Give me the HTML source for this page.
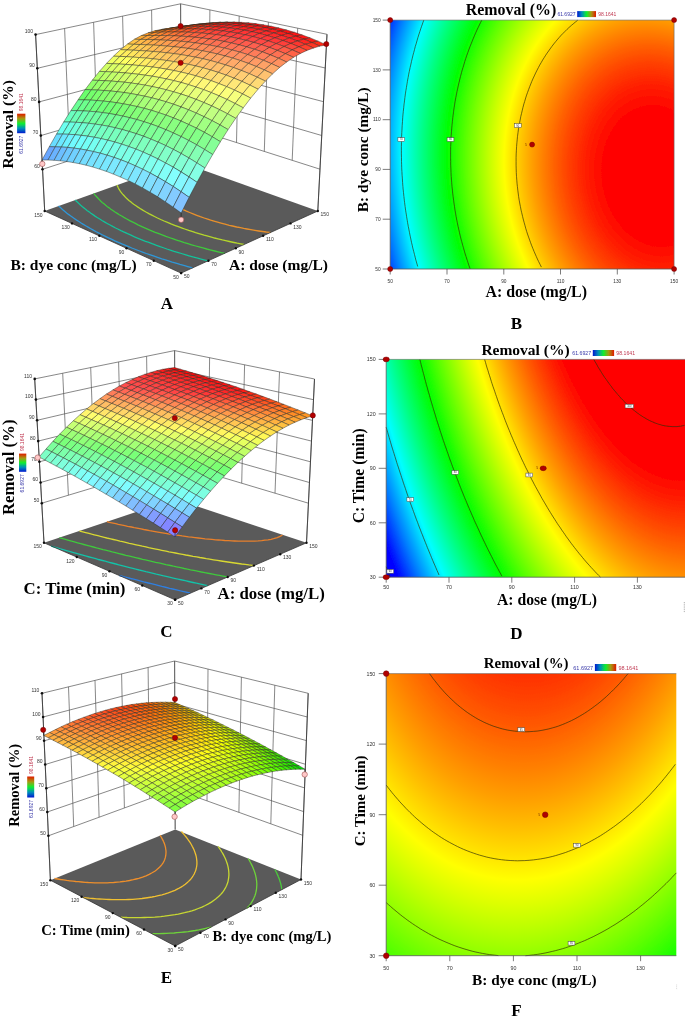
<!DOCTYPE html>
<html><head><meta charset="utf-8"><title>Removal response surfaces</title>
<style>html,body{margin:0;padding:0;background:#fff}svg{display:block}</style></head>
<body><svg width="685" height="1017" viewBox="0 0 685 1017">
<defs><filter id="soft" x="0" y="0" width="685" height="1017" filterUnits="userSpaceOnUse"><feGaussianBlur stdDeviation="0.4"/></filter><linearGradient id="lg0" x1="0" y1="1" x2="0" y2="0"><stop offset="0" stop-color="#0018d0"/><stop offset=".25" stop-color="#0090b8"/><stop offset=".5" stop-color="#10ee30"/><stop offset=".75" stop-color="#a89810"/><stop offset="1" stop-color="#e01800"/></linearGradient>
<linearGradient id="lg1" x1="0" y1="1" x2="0" y2="0"><stop offset="0" stop-color="#0018d0"/><stop offset=".25" stop-color="#0090b8"/><stop offset=".5" stop-color="#10ee30"/><stop offset=".75" stop-color="#a89810"/><stop offset="1" stop-color="#e01800"/></linearGradient>
<linearGradient id="lg2" x1="0" y1="1" x2="0" y2="0"><stop offset="0" stop-color="#0018d0"/><stop offset=".25" stop-color="#0090b8"/><stop offset=".5" stop-color="#10ee30"/><stop offset=".75" stop-color="#a89810"/><stop offset="1" stop-color="#e01800"/></linearGradient>
<radialGradient id="g3" gradientUnits="userSpaceOnUse" cx="0" cy="0" r="6.10978" gradientTransform="matrix(47.52838 -0.00000 -3.69074 -60.76369 656.916 176.031)"><stop offset="0.0000" stop-color="#ff0000"/><stop offset="0.1767" stop-color="#ff0000"/><stop offset="0.2485" stop-color="#ff2000"/><stop offset="0.3038" stop-color="#ff4000"/><stop offset="0.3505" stop-color="#ff6000"/><stop offset="0.3916" stop-color="#ff8000"/><stop offset="0.4288" stop-color="#ff9f00"/><stop offset="0.4631" stop-color="#ffbf00"/><stop offset="0.4949" stop-color="#ffdf00"/><stop offset="0.5249" stop-color="#ffff00"/><stop offset="0.5532" stop-color="#dfff00"/><stop offset="0.5801" stop-color="#bfff00"/><stop offset="0.6059" stop-color="#9fff00"/><stop offset="0.6306" stop-color="#7fff00"/><stop offset="0.6543" stop-color="#60ff00"/><stop offset="0.6773" stop-color="#40ff00"/><stop offset="0.6994" stop-color="#20ff00"/><stop offset="0.7209" stop-color="#00ff00"/><stop offset="0.7418" stop-color="#00ff20"/><stop offset="0.7621" stop-color="#00ff40"/><stop offset="0.7819" stop-color="#00ff60"/><stop offset="0.8012" stop-color="#00ff7f"/><stop offset="0.8200" stop-color="#00ff9f"/><stop offset="0.8384" stop-color="#00ffbf"/><stop offset="0.8564" stop-color="#00ffdf"/><stop offset="0.8741" stop-color="#00ffff"/><stop offset="0.8914" stop-color="#00dfff"/><stop offset="0.9083" stop-color="#00bfff"/><stop offset="0.9250" stop-color="#009fff"/><stop offset="0.9413" stop-color="#0080ff"/><stop offset="0.9574" stop-color="#0060ff"/><stop offset="0.9732" stop-color="#0040ff"/><stop offset="0.9888" stop-color="#0020ff"/><stop offset="1.0000" stop-color="#0009ff"/></radialGradient>
<linearGradient id="lg4" x1="0" y1="0" x2="1" y2="0"><stop offset="0" stop-color="#0018d0"/><stop offset=".25" stop-color="#0090b8"/><stop offset=".5" stop-color="#10ee30"/><stop offset=".75" stop-color="#a89810"/><stop offset="1" stop-color="#e01800"/></linearGradient>
<radialGradient id="g5" gradientUnits="userSpaceOnUse" cx="0" cy="0" r="6.78238" gradientTransform="matrix(52.56749 -0.00000 -13.40859 -109.15975 649.480 227.330)"><stop offset="0.0000" stop-color="#ff0000"/><stop offset="0.3353" stop-color="#ff0000"/><stop offset="0.3704" stop-color="#ff2000"/><stop offset="0.4024" stop-color="#ff4000"/><stop offset="0.4321" stop-color="#ff6000"/><stop offset="0.4599" stop-color="#ff8000"/><stop offset="0.4861" stop-color="#ff9f00"/><stop offset="0.5109" stop-color="#ffbf00"/><stop offset="0.5346" stop-color="#ffdf00"/><stop offset="0.5573" stop-color="#ffff00"/><stop offset="0.5791" stop-color="#dfff00"/><stop offset="0.6001" stop-color="#bfff00"/><stop offset="0.6204" stop-color="#9fff00"/><stop offset="0.6401" stop-color="#7fff00"/><stop offset="0.6592" stop-color="#60ff00"/><stop offset="0.6777" stop-color="#40ff00"/><stop offset="0.6957" stop-color="#20ff00"/><stop offset="0.7133" stop-color="#00ff00"/><stop offset="0.7305" stop-color="#00ff20"/><stop offset="0.7472" stop-color="#00ff40"/><stop offset="0.7636" stop-color="#00ff60"/><stop offset="0.7797" stop-color="#00ff7f"/><stop offset="0.7954" stop-color="#00ff9f"/><stop offset="0.8108" stop-color="#00ffbf"/><stop offset="0.8260" stop-color="#00ffdf"/><stop offset="0.8409" stop-color="#00ffff"/><stop offset="0.8555" stop-color="#00dfff"/><stop offset="0.8698" stop-color="#00bfff"/><stop offset="0.8839" stop-color="#009fff"/><stop offset="0.8979" stop-color="#0080ff"/><stop offset="0.9115" stop-color="#0060ff"/><stop offset="0.9250" stop-color="#0040ff"/><stop offset="0.9383" stop-color="#0020ff"/><stop offset="0.9514" stop-color="#0000ff"/><stop offset="1.0000" stop-color="#0000ff"/></radialGradient>
<linearGradient id="lg6" x1="0" y1="0" x2="1" y2="0"><stop offset="0" stop-color="#0018d0"/><stop offset=".25" stop-color="#0090b8"/><stop offset=".5" stop-color="#10ee30"/><stop offset=".75" stop-color="#a89810"/><stop offset="1" stop-color="#e01800"/></linearGradient>
<radialGradient id="g7" gradientUnits="userSpaceOnUse" cx="0" cy="0" r="4.42181" gradientTransform="matrix(77.39999 -0.00000 7.90908 -137.71327 542.539 434.560)"><stop offset="0.0000" stop-color="#ff0000"/><stop offset="0.2612" stop-color="#ff0000"/><stop offset="0.3557" stop-color="#ff2000"/><stop offset="0.4299" stop-color="#ff4000"/><stop offset="0.4930" stop-color="#ff6000"/><stop offset="0.5490" stop-color="#ff8000"/><stop offset="0.5997" stop-color="#ff9f00"/><stop offset="0.6465" stop-color="#ffbf00"/><stop offset="0.6901" stop-color="#ffdf00"/><stop offset="0.7311" stop-color="#ffff00"/><stop offset="0.7700" stop-color="#dfff00"/><stop offset="0.8069" stop-color="#bfff00"/><stop offset="0.8423" stop-color="#9fff00"/><stop offset="0.8762" stop-color="#7fff00"/><stop offset="0.9088" stop-color="#60ff00"/><stop offset="0.9404" stop-color="#40ff00"/><stop offset="0.9709" stop-color="#20ff00"/><stop offset="1.0000" stop-color="#00ff00"/></radialGradient>
<linearGradient id="lg8" x1="0" y1="0" x2="1" y2="0"><stop offset="0" stop-color="#0018d0"/><stop offset=".25" stop-color="#0090b8"/><stop offset=".5" stop-color="#10ee30"/><stop offset=".75" stop-color="#a89810"/><stop offset="1" stop-color="#e01800"/></linearGradient></defs>
<rect width="685" height="1017" fill="#fff"/>
<g filter="url(#soft)">
<path d="M44.7 211L35.6 34.6M70.2 160.4L64.6 28.4M97.9 151.5L93.6 22.3M125.6 142.6L122.6 16.1M153.2 133.7L151.6 10M181 162.3L180.6 3.8M317.8 211L327 34.3M292.2 160.3L297.7 28.2M264.3 151.4L268.4 22.1M236.5 142.5L239.2 16M208.7 133.7L209.9 9.9M181 162.3L180.6 3.8M42.5 169.3L180.9 124.8L320 169.2M40.8 135.6L180.8 94.5L321.7 135.5M39.1 101.9L180.8 64.3L323.5 101.7M37.3 68.3L180.7 34L325.2 68M35.6 34.6L180.6 3.8L327 34.3" stroke="#555" stroke-width=".7" fill="none"/>
<path d="M44.7 211L181.1 273.1L317.8 211L181 162.3Z" fill="#5a5a5a"/>
<path d="M58.5 205.9L60.4 207.6L61.7 208.8L63.1 210L65.2 211.7L66.6 212.9L68.5 214.4L70.4 215.7L72.2 217L74.3 218.5L76.6 220.1L78.5 221.3L81.1 223L82.9 224.1L85.7 225.8L88.5 227.4L90.4 228.5L93.3 230.1L96.3 231.8L99.4 233.4L102.6 235L104.9 236.1L108 237.6L111.4 239.2L114.8 240.8L118.3 242.3L121.9 243.9L124.3 244.9L128 246.4L131.8 248L135.7 249.5L139.6 251L142.5 252.1L146.3 253.5L150.4 254.9L154.2 256.2L157.5 257.3L161.8 258.8L164.7 259.7L169.2 261.1L172.2 262.1L176.8 263.4L179.9 264.4L184.6 265.7L187.8 266.6L192.7 267.9" fill="none" stroke="#2f97d8" stroke-width="1.3"/>
<path d="M75.2 200L76.4 201.2L77.6 202.3L79.4 204.1L80.7 205.3L82.1 206.4L84 208L85.6 209.3L87 210.4L89.3 212.1L90.9 213.3L93.3 214.9L95 216.1L97.5 217.7L99.3 218.8L102 220.5L104.8 222.1L106.7 223.2L109.6 224.8L112.6 226.4L115.6 228L117.7 229L120.9 230.6L124.2 232.1L127.6 233.7L131 235.2L134.5 236.8L138.1 238.3L141.8 239.8L145.5 241.3L148.1 242.2L152 243.7L155.9 245.2L160 246.6L162.7 247.5L166.9 249L171 250.3L174 251.3L178.4 252.6L181.4 253.5L185.9 254.9L189 255.8L193.7 257.1L196.8 257.9L201.1 259.1L204.9 260.1L208.2 260.9" fill="none" stroke="#12c29a" stroke-width="1.3"/>
<path d="M93.8 193.4L94.7 194.6L95.7 195.8L97.1 197.3L98.5 198.8L99.7 200L100.9 201.2L102.2 202.4L104.3 204.1L105.7 205.3L107.1 206.4L109.4 208.1L110.9 209.2L113.2 210.8L115 212L117.6 213.6L119.3 214.7L122.1 216.3L123.9 217.4L126.8 219L129.7 220.6L132.3 221.9L134.9 223.2L138 224.8L141.3 226.3L144.7 227.8L148.1 229.3L151.6 230.8L155.2 232.3L158.9 233.7L162.7 235.2L165.9 236.4L169.2 237.5L173.2 238.9L177.3 240.3L180.1 241.2L184.3 242.6L187.9 243.7L191.6 244.8L195.8 246L199.1 246.9L202.9 247.9L206.8 249L210 249.8L214.8 251L218.1 251.8L221.4 252.6L224.8 253.3" fill="none" stroke="#3fc83c" stroke-width="1.3"/>
<path d="M117.1 185.1L117.6 186.4L118.3 187.8L119 189.1L119.8 190.4L120.6 191.6L121.6 192.9L122.6 194.1L123.7 195.3L124.8 196.5L126 197.7L127.3 198.9L128.9 200.4L130.7 201.8L132.1 203L133.7 204.2L136 205.8L137.6 206.9L140.1 208.5L141.9 209.6L144.6 211.2L146.4 212.3L149.3 213.9L152.3 215.4L154.5 216.5L157.5 218L160.7 219.5L164.1 221L167.5 222.4L171 223.9L174.6 225.3L178.3 226.7L182.2 228.1L184.7 229L188.7 230.4L192.8 231.7L195.6 232.6L199.8 233.8L204.1 235.1L207 235.9L211.5 237.1L214.6 238L217.9 238.8L222.4 239.9L225.6 240.6L229.4 241.5L233.9 242.5L237.3 243.2L240.7 243.8L244.2 244.5" fill="none" stroke="#b4d62c" stroke-width="1.3"/>
<path d="M184.1 163.5L181.5 164.1L178.5 164.7L175.3 165.5L172 166.6L168.9 167.7L166.1 168.9L164.3 169.8L161.9 171.2L160.5 172.2L159.2 173.3L158 174.4L157 175.6L156.1 176.9L155.4 178.2L155.1 179.2L154.7 180.4L154.6 181.7L154.5 182.8L154.6 184L154.9 185.4L155.2 186.3L155.7 187.6L156.4 189L157.1 190.3L158.1 191.6L159.1 192.9L160.2 194.1L161.4 195.3L162.6 196.5L164 197.7L165.4 198.9L167.7 200.6L169.3 201.7L171.1 202.9L173.5 204.4L175.4 205.5L178.2 207L181.2 208.6L183.2 209.6L186.4 211.1L189.7 212.5L193.1 213.9L196.7 215.3L200.3 216.7L204.1 218L207.7 219.2L210.7 220.2L214.8 221.4L217.6 222.2L221.9 223.4L225 224.2L229.3 225.3L232.4 226L236.7 227L240.4 227.7L243.7 228.4L247 229L250.8 229.7L254.9 230.4L258.8 231L262.6 231.5L266.2 232L269.7 232.4L270.6 232.5" fill="none" stroke="#e8902c" stroke-width="1.3"/>
<g stroke="#2a2a22" stroke-width=".45" stroke-linejoin="round">
<path d="M180.8 26.9L187.2 26.7L180.8 28.2L174.4 28.2Z" fill="#d97b00"/>
<path d="M174.3 27.5L180.8 26.9L174.4 28.2L167.9 28.6Z" fill="#dd7400"/>
<path d="M187.3 25.7L193.8 25.4L187.2 26.7L180.8 26.9Z" fill="#d96600"/>
<path d="M167.8 28.6L174.3 27.5L167.9 28.6L161.3 29.5Z" fill="#ec7600"/>
<path d="M180.8 26.5L187.3 25.7L180.8 26.9L174.3 27.5Z" fill="#e66400"/>
<path d="M193.9 24.7L200.4 24.2L193.8 25.4L187.3 25.7Z" fill="#de5400"/>
<path d="M161.1 30.2L167.8 28.6L161.3 29.5L154.7 30.8Z" fill="#fd7b00"/>
<path d="M174.3 27.8L180.8 26.5L174.3 27.5L167.8 28.6Z" fill="#f56500"/>
<path d="M187.4 25.7L193.9 24.7L187.3 25.7L180.8 26.5Z" fill="#ed5300"/>
<path d="M200.6 23.9L207.1 23.3L200.4 24.2L193.9 24.7Z" fill="#e54400"/>
<path d="M154.4 32.5L161.1 30.2L154.7 30.8L148 32.9Z" fill="#ff8710"/>
<path d="M167.6 29.7L174.3 27.8L167.8 28.6L161.1 30.2Z" fill="#ff6d06"/>
<path d="M180.8 27.2L187.4 25.7L180.8 26.5L174.3 27.8Z" fill="#fc5500"/>
<path d="M194.1 25.1L200.6 23.9L193.9 24.7L187.4 25.7Z" fill="#f44200"/>
<path d="M207.4 23.4L213.8 22.7L207.1 23.3L200.6 23.9Z" fill="#eb3400"/>
<path d="M147.6 35.5L154.4 32.5L148 32.9L141.2 35.6Z" fill="#ff9723"/>
<path d="M160.9 32.2L167.6 29.7L161.1 30.2L154.4 32.5Z" fill="#ff7b17"/>
<path d="M174.2 29.3L180.8 27.2L174.3 27.8L167.6 29.7Z" fill="#ff600d"/>
<path d="M187.5 26.8L194.1 25.1L187.4 25.7L180.8 27.2Z" fill="#ff4604"/>
<path d="M200.9 24.7L207.4 23.4L200.6 23.9L194.1 25.1Z" fill="#fa3200"/>
<path d="M214.3 23L220.7 22.2L213.8 22.7L207.4 23.4Z" fill="#f02500"/>
<path d="M140.7 39.4L147.6 35.5L141.2 35.6L134.4 39.3Z" fill="#ffac36"/>
<path d="M154.1 35.5L160.9 32.2L154.4 32.5L147.6 35.5Z" fill="#ff8d28"/>
<path d="M167.4 32.1L174.2 29.3L167.6 29.7L160.9 32.2Z" fill="#ff701d"/>
<path d="M180.9 29.1L187.5 26.8L180.8 27.2L174.2 29.3Z" fill="#ff5413"/>
<path d="M194.3 26.5L200.9 24.7L194.1 25.1L187.5 26.8Z" fill="#ff3b0a"/>
<path d="M207.8 24.4L214.3 23L207.4 23.4L200.9 24.7Z" fill="#ff2401"/>
<path d="M221.2 22.9L227.7 22L220.7 22.2L214.3 23Z" fill="#f51700"/>
<path d="M133.8 44.3L140.7 39.4L134.4 39.3L127.5 44.1Z" fill="#ffc347"/>
<path d="M147.2 39.5L154.1 35.5L147.6 35.5L140.7 39.4Z" fill="#ffa339"/>
<path d="M160.6 35.5L167.4 32.1L160.9 32.2L154.1 35.5Z" fill="#ff842d"/>
<path d="M174.1 32L180.9 29.1L174.2 29.3L167.4 32.1Z" fill="#ff6622"/>
<path d="M187.6 29L194.3 26.5L187.5 26.8L180.9 29.1Z" fill="#ff4b19"/>
<path d="M201.2 26.4L207.8 24.4L200.9 24.7L194.3 26.5Z" fill="#ff310f"/>
<path d="M214.7 24.4L221.2 22.9L214.3 23L207.8 24.4Z" fill="#ff1a06"/>
<path d="M228.3 23L234.7 22.1L227.7 22L221.2 22.9Z" fill="#fa0b00"/>
<path d="M126.9 50L133.8 44.3L127.5 44.1L120.5 49.7Z" fill="#ffdc53"/>
<path d="M140.3 44.5L147.2 39.5L140.7 39.4L133.8 44.3Z" fill="#ffbb48"/>
<path d="M153.8 39.7L160.6 35.5L154.1 35.5L147.2 39.5Z" fill="#ff9a3c"/>
<path d="M167.3 35.6L174.1 32L167.4 32.1L160.6 35.5Z" fill="#ff7b31"/>
<path d="M180.9 32.1L187.6 29L180.9 29.1L174.1 32Z" fill="#ff5e27"/>
<path d="M194.5 29L201.2 26.4L194.3 26.5L187.6 29Z" fill="#ff421e"/>
<path d="M208.1 26.5L214.7 24.4L207.8 24.4L201.2 26.4Z" fill="#ff2914"/>
<path d="M221.8 24.6L228.3 23L221.2 22.9L214.7 24.4Z" fill="#ff120a"/>
<path d="M235.5 23.4L241.9 22.4L234.7 22.1L228.3 23Z" fill="#fe0000"/>
<path d="M119.9 56.4L126.9 50L120.5 49.7L113.5 56.2Z" fill="#fff55b"/>
<path d="M133.3 50.2L140.3 44.5L133.8 44.3L126.9 50Z" fill="#ffd453"/>
<path d="M146.8 44.8L153.8 39.7L147.2 39.5L140.3 44.5Z" fill="#ffb34a"/>
<path d="M160.4 40L167.3 35.6L160.6 35.5L153.8 39.7Z" fill="#ff933f"/>
<path d="M174 35.8L180.9 32.1L174.1 32L167.3 35.6Z" fill="#ff7435"/>
<path d="M187.7 32.2L194.5 29L187.6 29L180.9 32.1Z" fill="#ff562c"/>
<path d="M201.4 29.2L208.1 26.5L201.2 26.4L194.5 29Z" fill="#ff3b22"/>
<path d="M215.2 26.8L221.8 24.6L214.7 24.4L208.1 26.5Z" fill="#ff2219"/>
<path d="M228.9 25L235.5 23.4L228.3 23L221.8 24.6Z" fill="#ff0e0e"/>
<path d="M242.7 24L249.1 22.9L241.9 22.4L235.5 23.4Z" fill="#ff0303"/>
<path d="M112.8 63.7L119.9 56.4L113.5 56.2L106.5 63.4Z" fill="#eeff61"/>
<path d="M126.3 56.7L133.3 50.2L126.9 50L119.9 56.4Z" fill="#ffed5b"/>
<path d="M139.8 50.6L146.8 44.8L140.3 44.5L133.3 50.2Z" fill="#ffcc54"/>
<path d="M153.5 45.1L160.4 40L153.8 39.7L146.8 44.8Z" fill="#ffab4b"/>
<path d="M167.1 40.3L174 35.8L167.3 35.6L160.4 40Z" fill="#ff8b42"/>
<path d="M180.9 36.2L187.7 32.2L180.9 32.1L174 35.8Z" fill="#ff6d39"/>
<path d="M194.7 32.6L201.4 29.2L194.5 29L187.7 32.2Z" fill="#ff502f"/>
<path d="M208.5 29.6L215.2 26.8L208.1 26.5L201.4 29.2Z" fill="#ff3526"/>
<path d="M222.3 27.3L228.9 25L221.8 24.6L215.2 26.8Z" fill="#ff1d1c"/>
<path d="M236.2 25.7L242.7 24L235.5 23.4L228.9 25Z" fill="#ff1212"/>
<path d="M250 24.9L256.4 23.8L249.1 22.9L242.7 24Z" fill="#ff0606"/>
<path d="M105.7 71.6L112.8 63.7L106.5 63.4L99.4 71.4Z" fill="#d1ff65"/>
<path d="M119.2 64L126.3 56.7L119.9 56.4L112.8 63.7Z" fill="#f6ff61"/>
<path d="M132.8 57.1L139.8 50.6L133.3 50.2L126.3 56.7Z" fill="#ffe65c"/>
<path d="M146.4 51L153.5 45.1L146.8 44.8L139.8 50.6Z" fill="#ffc555"/>
<path d="M160.2 45.5L167.1 40.3L160.4 40L153.5 45.1Z" fill="#ffa44d"/>
<path d="M174 40.7L180.9 36.2L174 35.8L167.1 40.3Z" fill="#ff8544"/>
<path d="M187.8 36.6L194.7 32.6L187.7 32.2L180.9 36.2Z" fill="#ff673c"/>
<path d="M201.7 33.1L208.5 29.6L201.4 29.2L194.7 32.6Z" fill="#ff4b33"/>
<path d="M215.6 30.2L222.3 27.3L215.2 26.8L208.5 29.6Z" fill="#ff312a"/>
<path d="M229.6 28L236.2 25.7L228.9 25L222.3 27.3Z" fill="#ff2020"/>
<path d="M243.5 26.6L250 24.9L242.7 24L236.2 25.7Z" fill="#ff1515"/>
<path d="M257.4 26L263.9 24.9L256.4 23.8L250 24.9Z" fill="#ff0909"/>
<path d="M98.6 80.4L105.7 71.6L99.4 71.4L92.3 80.2Z" fill="#b1ff68"/>
<path d="M112.1 72L119.2 64L112.8 63.7L105.7 71.6Z" fill="#d9ff66"/>
<path d="M125.7 64.4L132.8 57.1L126.3 56.7L119.2 64Z" fill="#fdff62"/>
<path d="M139.4 57.6L146.4 51L139.8 50.6L132.8 57.1Z" fill="#ffdf5c"/>
<path d="M153.2 51.5L160.2 45.5L153.5 45.1L146.4 51Z" fill="#ffbe56"/>
<path d="M167 46.1L174 40.7L167.1 40.3L160.2 45.5Z" fill="#ff9e4f"/>
<path d="M180.9 41.3L187.8 36.6L180.9 36.2L174 40.7Z" fill="#ff7f47"/>
<path d="M194.8 37.2L201.7 33.1L194.7 32.6L187.8 36.6Z" fill="#ff623f"/>
<path d="M208.8 33.8L215.6 30.2L208.5 29.6L201.7 33.1Z" fill="#ff4636"/>
<path d="M222.8 31L229.6 28L222.3 27.3L215.6 30.2Z" fill="#ff2d2d"/>
<path d="M236.9 29L243.5 26.6L236.2 25.7L229.6 28Z" fill="#ff2323"/>
<path d="M250.9 27.8L257.4 26L250 24.9L243.5 26.6Z" fill="#ff1818"/>
<path d="M265 27.5L271.4 26.3L263.9 24.9L257.4 26Z" fill="#ff0c0c"/>
<path d="M91.4 89.8L98.6 80.4L92.3 80.2L85.2 89.6Z" fill="#8fff6a"/>
<path d="M104.9 80.7L112.1 72L105.7 71.6L98.6 80.4Z" fill="#baff69"/>
<path d="M118.5 72.4L125.7 64.4L119.2 64L112.1 72Z" fill="#e0ff66"/>
<path d="M132.3 64.9L139.4 57.6L132.8 57.1L125.7 64.4Z" fill="#fffa62"/>
<path d="M146.1 58.1L153.2 51.5L146.4 51L139.4 57.6Z" fill="#ffd85d"/>
<path d="M160 52.1L167 46.1L160.2 45.5L153.2 51.5Z" fill="#ffb858"/>
<path d="M173.9 46.7L180.9 41.3L174 40.7L167 46.1Z" fill="#ff9851"/>
<path d="M187.9 42L194.8 37.2L187.8 36.6L180.9 41.3Z" fill="#ff7a49"/>
<path d="M202 38L208.8 33.8L201.7 33.1L194.8 37.2Z" fill="#ff5e41"/>
<path d="M216.1 34.6L222.8 31L215.6 30.2L208.8 33.8Z" fill="#ff4339"/>
<path d="M230.2 32L236.9 29L229.6 28L222.8 31Z" fill="#ff3030"/>
<path d="M244.3 30.2L250.9 27.8L243.5 26.6L236.9 29Z" fill="#ff2525"/>
<path d="M258.4 29.3L265 27.5L257.4 26L250.9 27.8Z" fill="#ff1a1a"/>
<path d="M272.6 29.2L279 28L271.4 26.3L265 27.5Z" fill="#ff0e0e"/>
<path d="M84.2 99.9L91.4 89.8L85.2 89.6L78.1 99.8Z" fill="#6bff6c"/>
<path d="M97.7 90.1L104.9 80.7L98.6 80.4L91.4 89.8Z" fill="#98ff6b"/>
<path d="M111.4 81.1L118.5 72.4L112.1 72L104.9 80.7Z" fill="#c1ff69"/>
<path d="M125.1 72.9L132.3 64.9L125.7 64.4L118.5 72.4Z" fill="#e7ff67"/>
<path d="M138.9 65.5L146.1 58.1L139.4 57.6L132.3 64.9Z" fill="#fff363"/>
<path d="M152.9 58.8L160 52.1L153.2 51.5L146.1 58.1Z" fill="#ffd25e"/>
<path d="M166.8 52.8L173.9 46.7L167 46.1L160 52.1Z" fill="#ffb259"/>
<path d="M180.9 47.5L187.9 42L180.9 41.3L173.9 46.7Z" fill="#ff9453"/>
<path d="M195 42.8L202 38L194.8 37.2L187.9 42Z" fill="#ff774b"/>
<path d="M209.2 38.9L216.1 34.6L208.8 33.8L202 38Z" fill="#ff5b44"/>
<path d="M223.4 35.7L230.2 32L222.8 31L216.1 34.6Z" fill="#ff413b"/>
<path d="M237.6 33.3L244.3 30.2L236.9 29L230.2 32Z" fill="#ff3232"/>
<path d="M251.8 31.7L258.4 29.3L250.9 27.8L244.3 30.2Z" fill="#ff2727"/>
<path d="M266 31L272.6 29.2L265 27.5L258.4 29.3Z" fill="#ff1c1c"/>
<path d="M280.2 31.2L286.6 30L279 28L272.6 29.2Z" fill="#ff1010"/>
<path d="M77 110.7L84.2 99.9L78.1 99.8L70.9 110.6Z" fill="#6bff96"/>
<path d="M90.5 100.1L97.7 90.1L91.4 89.8L84.2 99.9Z" fill="#73ff6c"/>
<path d="M104.1 90.5L111.4 81.1L104.9 80.7L97.7 90.1Z" fill="#a0ff6b"/>
<path d="M117.9 81.6L125.1 72.9L118.5 72.4L111.4 81.1Z" fill="#c9ff6a"/>
<path d="M131.7 73.5L138.9 65.5L132.3 64.9L125.1 72.9Z" fill="#eeff68"/>
<path d="M145.7 66.2L152.9 58.8L146.1 58.1L138.9 65.5Z" fill="#ffed64"/>
<path d="M159.7 59.6L166.8 52.8L160 52.1L152.9 58.8Z" fill="#ffcd60"/>
<path d="M173.8 53.6L180.9 47.5L173.9 46.7L166.8 52.8Z" fill="#ffae5a"/>
<path d="M188 48.4L195 42.8L187.9 42L180.9 47.5Z" fill="#ff9054"/>
<path d="M202.2 43.9L209.2 38.9L202 38L195 42.8Z" fill="#ff744e"/>
<path d="M216.5 40L223.4 35.7L216.1 34.6L209.2 38.9Z" fill="#ff5946"/>
<path d="M230.8 37L237.6 33.3L230.2 32L223.4 35.7Z" fill="#ff403e"/>
<path d="M245.1 34.8L251.8 31.7L244.3 30.2L237.6 33.3Z" fill="#ff3434"/>
<path d="M259.4 33.4L266 31L258.4 29.3L251.8 31.7Z" fill="#ff2929"/>
<path d="M273.7 33L280.2 31.2L272.6 29.2L266 31Z" fill="#ff1e1e"/>
<path d="M288 33.5L294.4 32.3L286.6 30L280.2 31.2Z" fill="#ff1111"/>
<path d="M69.8 122.1L77 110.7L70.9 110.6L63.7 122Z" fill="#6affc1"/>
<path d="M83.3 110.9L90.5 100.1L84.2 99.9L77 110.7Z" fill="#6cff8d"/>
<path d="M96.9 100.5L104.1 90.5L97.7 90.1L90.5 100.1Z" fill="#7cff6d"/>
<path d="M110.6 91L117.9 81.6L111.4 81.1L104.1 90.5Z" fill="#a8ff6c"/>
<path d="M124.5 82.2L131.7 73.5L125.1 72.9L117.9 81.6Z" fill="#d0ff6b"/>
<path d="M138.5 74.3L145.7 66.2L138.9 65.5L131.7 73.5Z" fill="#f4ff69"/>
<path d="M152.6 67L159.7 59.6L152.9 58.8L145.7 66.2Z" fill="#ffe865"/>
<path d="M166.7 60.5L173.8 53.6L166.8 52.8L159.7 59.6Z" fill="#ffc861"/>
<path d="M180.9 54.6L188 48.4L180.9 47.5L173.8 53.6Z" fill="#ffaa5c"/>
<path d="M195.2 49.5L202.2 43.9L195 42.8L188 48.4Z" fill="#ff8d56"/>
<path d="M209.5 45.1L216.5 40L209.2 38.9L202.2 43.9Z" fill="#ff7250"/>
<path d="M223.9 41.4L230.8 37L223.4 35.7L216.5 40Z" fill="#ff5848"/>
<path d="M238.3 38.5L245.1 34.8L237.6 33.3L230.8 37Z" fill="#ff403f"/>
<path d="M252.7 36.5L259.4 33.4L251.8 31.7L245.1 34.8Z" fill="#ff3636"/>
<path d="M267.1 35.5L273.7 33L266 31L259.4 33.4Z" fill="#ff2b2b"/>
<path d="M281.5 35.4L288 33.5L280.2 31.2L273.7 33Z" fill="#ff1f1f"/>
<path d="M295.9 36.2L302.3 35L294.4 32.3L288 33.5Z" fill="#ff1313"/>
<path d="M62.6 134.1L69.8 122.1L63.7 122L56.5 134.1Z" fill="#6afff0"/>
<path d="M76 122.3L83.3 110.9L77 110.7L69.8 122.1Z" fill="#6cffb8"/>
<path d="M89.6 111.3L96.9 100.5L90.5 100.1L83.3 110.9Z" fill="#6dff86"/>
<path d="M103.4 101.1L110.6 91L104.1 90.5L96.9 100.5Z" fill="#85ff6e"/>
<path d="M117.2 91.7L124.5 82.2L117.9 81.6L110.6 91Z" fill="#afff6e"/>
<path d="M131.2 83L138.5 74.3L131.7 73.5L124.5 82.2Z" fill="#d6ff6c"/>
<path d="M145.3 75.2L152.6 67L145.7 66.2L138.5 74.3Z" fill="#f9ff6a"/>
<path d="M159.5 68L166.7 60.5L159.7 59.6L152.6 67Z" fill="#ffe467"/>
<path d="M173.8 61.6L180.9 54.6L173.8 53.6L166.7 60.5Z" fill="#ffc463"/>
<path d="M188.1 55.8L195.2 49.5L188 48.4L180.9 54.6Z" fill="#ffa75e"/>
<path d="M202.5 50.8L209.5 45.1L202.2 43.9L195.2 49.5Z" fill="#ff8b58"/>
<path d="M217 46.5L223.9 41.4L216.5 40L209.5 45.1Z" fill="#ff7152"/>
<path d="M231.4 43L238.3 38.5L230.8 37L223.9 41.4Z" fill="#ff584a"/>
<path d="M245.9 40.3L252.7 36.5L245.1 34.8L238.3 38.5Z" fill="#ff4241"/>
<path d="M260.4 38.6L267.1 35.5L259.4 33.4L252.7 36.5Z" fill="#ff3737"/>
<path d="M274.9 37.8L281.5 35.4L273.7 33L267.1 35.5Z" fill="#ff2c2c"/>
<path d="M289.4 38L295.9 36.2L288 33.5L281.5 35.4Z" fill="#ff2020"/>
<path d="M303.8 39.2L310.2 37.9L302.3 35L295.9 36.2Z" fill="#ff1414"/>
<path d="M55.3 146.8L62.6 134.1L56.5 134.1L49.3 146.7Z" fill="#69dcff"/>
<path d="M68.7 134.3L76 122.3L69.8 122.1L62.6 134.1Z" fill="#6bffe6"/>
<path d="M82.3 122.7L89.6 111.3L83.3 110.9L76 122.3Z" fill="#6dffb0"/>
<path d="M96 111.8L103.4 101.1L96.9 100.5L89.6 111.3Z" fill="#6fff7f"/>
<path d="M109.9 101.8L117.2 91.7L110.6 91L103.4 101.1Z" fill="#8dff6f"/>
<path d="M123.9 92.5L131.2 83L124.5 82.2L117.2 91.7Z" fill="#b6ff6f"/>
<path d="M138 84L145.3 75.2L138.5 74.3L131.2 83Z" fill="#dbff6d"/>
<path d="M152.3 76.2L159.5 68L152.6 67L145.3 75.2Z" fill="#feff6b"/>
<path d="M166.6 69.2L173.8 61.6L166.7 60.5L159.5 68Z" fill="#ffe068"/>
<path d="M180.9 62.8L188.1 55.8L180.9 54.6L173.8 61.6Z" fill="#ffc264"/>
<path d="M195.4 57.2L202.5 50.8L195.2 49.5L188.1 55.8Z" fill="#ffa560"/>
<path d="M209.9 52.3L217 46.5L209.5 45.1L202.5 50.8Z" fill="#ff8a5a"/>
<path d="M224.5 48.1L231.4 43L223.9 41.4L217 46.5Z" fill="#ff7154"/>
<path d="M239 44.8L245.9 40.3L238.3 38.5L231.4 43Z" fill="#ff594c"/>
<path d="M253.6 42.4L260.4 38.6L252.7 36.5L245.9 40.3Z" fill="#ff4443"/>
<path d="M268.2 40.9L274.9 37.8L267.1 35.5L260.4 38.6Z" fill="#ff3838"/>
<path d="M282.8 40.5L289.4 38L281.5 35.4L274.9 37.8Z" fill="#ff2d2d"/>
<path d="M297.4 41L303.8 39.2L295.9 36.2L289.4 38Z" fill="#ff2121"/>
<path d="M311.9 42.5L318.2 41.2L310.2 37.9L303.8 39.2Z" fill="#ff1d15"/>
<path d="M48 160L55.3 146.8L49.3 146.7L42 160Z" fill="#68a6ff"/>
<path d="M61.4 147L68.7 134.3L62.6 134.1L55.3 146.8Z" fill="#6be7ff"/>
<path d="M75 134.7L82.3 122.7L76 122.3L68.7 134.3Z" fill="#6dffdd"/>
<path d="M88.7 123.3L96 111.8L89.6 111.3L82.3 122.7Z" fill="#6fffa9"/>
<path d="M102.6 112.6L109.9 101.8L103.4 101.1L96 111.8Z" fill="#70ff79"/>
<path d="M116.6 102.7L123.9 92.5L117.2 91.7L109.9 101.8Z" fill="#94ff71"/>
<path d="M130.7 93.5L138 84L131.2 83L123.9 92.5Z" fill="#bcff70"/>
<path d="M145 85.1L152.3 76.2L145.3 75.2L138 84Z" fill="#e0ff6f"/>
<path d="M159.3 77.5L166.6 69.2L159.5 68L152.3 76.2Z" fill="#fffc6d"/>
<path d="M173.7 70.5L180.9 62.8L173.8 61.6L166.6 69.2Z" fill="#ffdd6a"/>
<path d="M188.2 64.3L195.4 57.2L188.1 55.8L180.9 62.8Z" fill="#ffc066"/>
<path d="M202.8 58.7L209.9 52.3L202.5 50.8L195.4 57.2Z" fill="#ffa462"/>
<path d="M217.4 54L224.5 48.1L217 46.5L209.9 52.3Z" fill="#ff8a5c"/>
<path d="M232.1 50L239 44.8L231.4 43L224.5 48.1Z" fill="#ff7255"/>
<path d="M246.7 46.9L253.6 42.4L245.9 40.3L239 44.8Z" fill="#ff5c4d"/>
<path d="M261.4 44.7L268.2 40.9L260.4 38.6L253.6 42.4Z" fill="#ff4844"/>
<path d="M276.1 43.6L282.8 40.5L274.9 37.8L268.2 40.9Z" fill="#ff3939"/>
<path d="M290.8 43.4L297.4 41L289.4 38L282.8 40.5Z" fill="#ff2e2e"/>
<path d="M305.4 44.3L311.9 42.5L303.8 39.2L297.4 41Z" fill="#ff2822"/>
<path d="M320 46.1L326.3 44.9L318.2 41.2L311.9 42.5Z" fill="#ff2a16"/>
<path d="M54.1 160.3L61.4 147L55.3 146.8L48 160Z" fill="#6ab3ff"/>
<path d="M67.6 147.4L75 134.7L68.7 134.3L61.4 147Z" fill="#6df1ff"/>
<path d="M81.3 135.4L88.7 123.3L82.3 122.7L75 134.7Z" fill="#6fffd5"/>
<path d="M95.2 124.1L102.6 112.6L96 111.8L88.7 123.3Z" fill="#71ffa3"/>
<path d="M109.2 113.5L116.6 102.7L109.9 101.8L102.6 112.6Z" fill="#72ff75"/>
<path d="M123.3 103.8L130.7 93.5L123.9 92.5L116.6 102.7Z" fill="#9aff72"/>
<path d="M137.6 94.8L145 85.1L138 84L130.7 93.5Z" fill="#c1ff72"/>
<path d="M152 86.5L159.3 77.5L152.3 76.2L145 85.1Z" fill="#e4ff70"/>
<path d="M166.4 78.9L173.7 70.5L166.6 69.2L159.3 77.5Z" fill="#fff96e"/>
<path d="M181 72.1L188.2 64.3L180.9 62.8L173.7 70.5Z" fill="#ffdb6b"/>
<path d="M195.6 65.9L202.8 58.7L195.4 57.2L188.2 64.3Z" fill="#ffbf68"/>
<path d="M210.3 60.5L217.4 54L209.9 52.3L202.8 58.7Z" fill="#ffa463"/>
<path d="M225 55.9L232.1 50L224.5 48.1L217.4 54Z" fill="#ff8b5e"/>
<path d="M239.8 52.1L246.7 46.9L239 44.8L232.1 50Z" fill="#ff7457"/>
<path d="M254.5 49.3L261.4 44.7L253.6 42.4L246.7 46.9Z" fill="#ff5f4f"/>
<path d="M269.3 47.4L276.1 43.6L268.2 40.9L261.4 44.7Z" fill="#ff4d45"/>
<path d="M284.1 46.5L290.8 43.4L282.8 40.5L276.1 43.6Z" fill="#ff3f3a"/>
<path d="M298.9 46.8L305.4 44.3L297.4 41L290.8 43.4Z" fill="#ff362e"/>
<path d="M313.6 48L320 46.1L311.9 42.5L305.4 44.3Z" fill="#ff3422"/>
<path d="M60.3 160.8L67.6 147.4L61.4 147L54.1 160.3Z" fill="#6cbeff"/>
<path d="M74 148.1L81.3 135.4L75 134.7L67.6 147.4Z" fill="#6ffaff"/>
<path d="M87.8 136.2L95.2 124.1L88.7 123.3L81.3 135.4Z" fill="#71ffce"/>
<path d="M101.8 125.1L109.2 113.5L102.6 112.6L95.2 124.1Z" fill="#72ff9e"/>
<path d="M115.9 114.7L123.3 103.8L116.6 102.7L109.2 113.5Z" fill="#76ff73"/>
<path d="M130.2 105.1L137.6 94.8L130.7 93.5L123.3 103.8Z" fill="#9fff74"/>
<path d="M144.6 96.2L152 86.5L145 85.1L137.6 94.8Z" fill="#c5ff73"/>
<path d="M159.1 88L166.4 78.9L159.3 77.5L152 86.5Z" fill="#e7ff72"/>
<path d="M173.7 80.6L181 72.1L173.7 70.5L166.4 78.9Z" fill="#fff770"/>
<path d="M188.3 73.8L195.6 65.9L188.2 64.3L181 72.1Z" fill="#ffda6d"/>
<path d="M203 67.8L210.3 60.5L202.8 58.7L195.6 65.9Z" fill="#ffbf6a"/>
<path d="M217.8 62.6L225 55.9L217.4 54L210.3 60.5Z" fill="#ffa565"/>
<path d="M232.7 58.1L239.8 52.1L232.1 50L225 55.9Z" fill="#ff8d60"/>
<path d="M247.6 54.5L254.5 49.3L246.7 46.9L239.8 52.1Z" fill="#ff7859"/>
<path d="M262.4 51.9L269.3 47.4L261.4 44.7L254.5 49.3Z" fill="#ff6450"/>
<path d="M277.3 50.4L284.1 46.5L276.1 43.6L269.3 47.4Z" fill="#ff5346"/>
<path d="M292.2 49.9L298.9 46.8L290.8 43.4L284.1 46.5Z" fill="#ff473a"/>
<path d="M307 50.4L313.6 48L305.4 44.3L298.9 46.8Z" fill="#ff412f"/>
<path d="M66.6 161.5L74 148.1L67.6 147.4L60.3 160.8Z" fill="#6ec8ff"/>
<path d="M80.4 149L87.8 136.2L81.3 135.4L74 148.1Z" fill="#71fffd"/>
<path d="M94.4 137.3L101.8 125.1L95.2 124.1L87.8 136.2Z" fill="#73ffc9"/>
<path d="M108.5 126.3L115.9 114.7L109.2 113.5L101.8 125.1Z" fill="#74ff99"/>
<path d="M122.8 116.1L130.2 105.1L123.3 103.8L115.9 114.7Z" fill="#7cff75"/>
<path d="M137.2 106.6L144.6 96.2L137.6 94.8L130.2 105.1Z" fill="#a4ff75"/>
<path d="M151.7 97.8L159.1 88L152 86.5L144.6 96.2Z" fill="#c8ff75"/>
<path d="M166.3 89.8L173.7 80.6L166.4 78.9L159.1 88Z" fill="#eaff73"/>
<path d="M181 82.4L188.3 73.8L181 72.1L173.7 80.6Z" fill="#fff672"/>
<path d="M195.8 75.8L203 67.8L195.6 65.9L188.3 73.8Z" fill="#ffda6f"/>
<path d="M210.6 70L217.8 62.6L210.3 60.5L203 67.8Z" fill="#ffbf6c"/>
<path d="M225.5 64.9L232.7 58.1L225 55.9L217.8 62.6Z" fill="#ffa767"/>
<path d="M240.5 60.6L247.6 54.5L239.8 52.1L232.7 58.1Z" fill="#ff9162"/>
<path d="M255.4 57.3L262.4 51.9L254.5 49.3L247.6 54.5Z" fill="#ff7c5a"/>
<path d="M270.4 54.9L277.3 50.4L269.3 47.4L262.4 51.9Z" fill="#ff6a51"/>
<path d="M285.4 53.7L292.2 49.9L284.1 46.5L277.3 50.4Z" fill="#ff5b46"/>
<path d="M300.4 53.5L307 50.4L298.9 46.8L292.2 49.9Z" fill="#ff513b"/>
<path d="M73 162.5L80.4 149L74 148.1L66.6 161.5Z" fill="#70d0ff"/>
<path d="M86.9 150.2L94.4 137.3L87.8 136.2L80.4 149Z" fill="#72fff6"/>
<path d="M101 138.6L108.5 126.3L101.8 125.1L94.4 137.3Z" fill="#74ffc4"/>
<path d="M115.3 127.8L122.8 116.1L115.9 114.7L108.5 126.3Z" fill="#76ff96"/>
<path d="M129.7 117.7L137.2 106.6L130.2 105.1L122.8 116.1Z" fill="#80ff77"/>
<path d="M144.2 108.3L151.7 97.8L144.6 96.2L137.2 106.6Z" fill="#a7ff77"/>
<path d="M158.9 99.7L166.3 89.8L159.1 88L151.7 97.8Z" fill="#cbff76"/>
<path d="M173.6 91.8L181 82.4L173.7 80.6L166.3 89.8Z" fill="#ebff75"/>
<path d="M188.4 84.6L195.8 75.8L188.3 73.8L181 82.4Z" fill="#fff673"/>
<path d="M203.3 78.1L210.6 70L203 67.8L195.8 75.8Z" fill="#ffda71"/>
<path d="M218.3 72.4L225.5 64.9L217.8 62.6L210.6 70Z" fill="#ffc16d"/>
<path d="M233.3 67.5L240.5 60.6L232.7 58.1L225.5 64.9Z" fill="#ffaa69"/>
<path d="M248.4 63.4L255.4 57.3L247.6 54.5L240.5 60.6Z" fill="#ff9563"/>
<path d="M263.4 60.3L270.4 54.9L262.4 51.9L255.4 57.3Z" fill="#ff825b"/>
<path d="M278.5 58.3L285.4 53.7L277.3 50.4L270.4 54.9Z" fill="#ff7152"/>
<path d="M293.6 57.3L300.4 53.5L292.2 49.9L285.4 53.7Z" fill="#ff6447"/>
<path d="M79.4 163.7L86.9 150.2L80.4 149L73 162.5Z" fill="#72d7ff"/>
<path d="M93.5 151.6L101 138.6L94.4 137.3L86.9 150.2Z" fill="#74fff1"/>
<path d="M107.8 140.2L115.3 127.8L108.5 126.3L101 138.6Z" fill="#76ffc0"/>
<path d="M122.2 129.5L129.7 117.7L122.8 116.1L115.3 127.8Z" fill="#77ff94"/>
<path d="M136.7 119.5L144.2 108.3L137.2 106.6L129.7 117.7Z" fill="#84ff78"/>
<path d="M151.4 110.3L158.9 99.7L151.7 97.8L144.2 108.3Z" fill="#aaff78"/>
<path d="M166.1 101.8L173.6 91.8L166.3 89.8L158.9 99.7Z" fill="#ccff78"/>
<path d="M181 94L188.4 84.6L181 82.4L173.6 91.8Z" fill="#ebff77"/>
<path d="M195.9 87L203.3 78.1L195.8 75.8L188.4 84.6Z" fill="#fff675"/>
<path d="M211 80.6L218.3 72.4L210.6 70L203.3 78.1Z" fill="#ffdc73"/>
<path d="M226.1 75.1L233.3 67.5L225.5 64.9L218.3 72.4Z" fill="#ffc46f"/>
<path d="M241.2 70.4L248.4 63.4L240.5 60.6L233.3 67.5Z" fill="#ffaf6b"/>
<path d="M256.3 66.5L263.4 60.3L255.4 57.3L248.4 63.4Z" fill="#ff9b65"/>
<path d="M271.5 63.7L278.5 58.3L270.4 54.9L263.4 60.3Z" fill="#ff895d"/>
<path d="M286.7 62L293.6 57.3L285.4 53.7L278.5 58.3Z" fill="#ff7a52"/>
<path d="M86 165.2L93.5 151.6L86.9 150.2L79.4 163.7Z" fill="#74ddff"/>
<path d="M100.3 153.2L107.8 140.2L101 138.6L93.5 151.6Z" fill="#76ffed"/>
<path d="M114.7 142L122.2 129.5L115.3 127.8L107.8 140.2Z" fill="#78ffbe"/>
<path d="M129.2 131.5L136.7 119.5L129.7 117.7L122.2 129.5Z" fill="#79ff93"/>
<path d="M143.9 121.7L151.4 110.3L144.2 108.3L136.7 119.5Z" fill="#87ff7a"/>
<path d="M158.6 112.6L166.1 101.8L158.9 99.7L151.4 110.3Z" fill="#acff7a"/>
<path d="M173.5 104.2L181 94L173.6 91.8L166.1 101.8Z" fill="#cdff7a"/>
<path d="M188.5 96.5L195.9 87L188.4 84.6L181 94Z" fill="#ebff79"/>
<path d="M203.6 89.6L211 80.6L203.3 78.1L195.9 87Z" fill="#fff877"/>
<path d="M218.7 83.5L226.1 75.1L218.3 72.4L211 80.6Z" fill="#ffdf74"/>
<path d="M233.9 78.1L241.2 70.4L233.3 67.5L226.1 75.1Z" fill="#ffc871"/>
<path d="M249.2 73.6L256.3 66.5L248.4 63.4L241.2 70.4Z" fill="#ffb46d"/>
<path d="M264.4 70L271.5 63.7L263.4 60.3L256.3 66.5Z" fill="#ffa166"/>
<path d="M279.7 67.4L286.7 62L278.5 58.3L271.5 63.7Z" fill="#ff915e"/>
<path d="M92.7 167L100.3 153.2L93.5 151.6L86 165.2Z" fill="#76e2ff"/>
<path d="M107.1 155.2L114.7 142L107.8 140.2L100.3 153.2Z" fill="#78ffea"/>
<path d="M121.6 144.1L129.2 131.5L122.2 129.5L114.7 142Z" fill="#79ffbd"/>
<path d="M136.3 133.7L143.9 121.7L136.7 119.5L129.2 131.5Z" fill="#7bff93"/>
<path d="M151.1 124L158.6 112.6L151.4 110.3L143.9 121.7Z" fill="#89ff7b"/>
<path d="M166 115.1L173.5 104.2L166.1 101.8L158.6 112.6Z" fill="#adff7c"/>
<path d="M181 106.9L188.5 96.5L181 94L173.5 104.2Z" fill="#ccff7b"/>
<path d="M196.1 99.4L203.6 89.6L195.9 87L188.5 96.5Z" fill="#e9ff7a"/>
<path d="M211.3 92.6L218.7 83.5L211 80.6L203.6 89.6Z" fill="#fffa78"/>
<path d="M226.6 86.6L233.9 78.1L226.1 75.1L218.7 83.5Z" fill="#ffe376"/>
<path d="M241.9 81.4L249.2 73.6L241.2 70.4L233.9 78.1Z" fill="#ffcd73"/>
<path d="M257.2 77.2L264.4 70L256.3 66.5L249.2 73.6Z" fill="#ffba6e"/>
<path d="M272.6 73.8L279.7 67.4L271.5 63.7L264.4 70Z" fill="#ffa968"/>
<path d="M99.5 169.1L107.1 155.2L100.3 153.2L92.7 167Z" fill="#77e6ff"/>
<path d="M114 157.4L121.6 144.1L114.7 142L107.1 155.2Z" fill="#79ffe8"/>
<path d="M128.7 146.5L136.3 133.7L129.2 131.5L121.6 144.1Z" fill="#7bffbc"/>
<path d="M143.5 136.2L151.1 124L143.9 121.7L136.3 133.7Z" fill="#7cff94"/>
<path d="M158.4 126.7L166 115.1L158.6 112.6L151.1 124Z" fill="#8aff7d"/>
<path d="M173.5 117.9L181 106.9L173.5 104.2L166 115.1Z" fill="#acff7d"/>
<path d="M188.6 109.8L196.1 99.4L188.5 96.5L181 106.9Z" fill="#cbff7d"/>
<path d="M203.8 102.5L211.3 92.6L203.6 89.6L196.1 99.4Z" fill="#e7ff7c"/>
<path d="M219.2 95.9L226.6 86.6L218.7 83.5L211.3 92.6Z" fill="#fffe7a"/>
<path d="M234.5 90.1L241.9 81.4L233.9 78.1L226.6 86.6Z" fill="#ffe878"/>
<path d="M249.9 85.1L257.2 77.2L249.2 73.6L241.9 81.4Z" fill="#ffd374"/>
<path d="M265.4 81.1L272.6 73.8L264.4 70L257.2 77.2Z" fill="#ffc26f"/>
<path d="M106.4 171.4L114 157.4L107.1 155.2L99.5 169.1Z" fill="#79e8ff"/>
<path d="M121.1 159.9L128.7 146.5L121.6 144.1L114 157.4Z" fill="#7bffe7"/>
<path d="M135.9 149.1L143.5 136.2L136.3 133.7L128.7 146.5Z" fill="#7dffbd"/>
<path d="M150.8 139.1L158.4 126.7L151.1 124L143.5 136.2Z" fill="#7eff96"/>
<path d="M165.9 129.7L173.5 117.9L166 115.1L158.4 126.7Z" fill="#8aff7e"/>
<path d="M181 121L188.6 109.8L181 106.9L173.5 117.9Z" fill="#abff7f"/>
<path d="M196.3 113.1L203.8 102.5L196.1 99.4L188.6 109.8Z" fill="#c9ff7e"/>
<path d="M211.7 105.9L219.2 95.9L211.3 92.6L203.8 102.5Z" fill="#e3ff7d"/>
<path d="M227.1 99.5L234.5 90.1L226.6 86.6L219.2 95.9Z" fill="#fbff7c"/>
<path d="M242.6 93.9L249.9 85.1L241.9 81.4L234.5 90.1Z" fill="#ffed79"/>
<path d="M258.1 89.2L265.4 81.1L257.2 77.2L249.9 85.1Z" fill="#ffdb75"/>
<path d="M113.4 174.1L121.1 159.9L114 157.4L106.4 171.4Z" fill="#7be9ff"/>
<path d="M128.2 162.7L135.9 149.1L128.7 146.5L121.1 159.9Z" fill="#7cffe7"/>
<path d="M143.2 152.1L150.8 139.1L143.5 136.2L135.9 149.1Z" fill="#7effbe"/>
<path d="M158.2 142.2L165.9 129.7L158.4 126.7L150.8 139.1Z" fill="#7fff99"/>
<path d="M173.4 133L181 121L173.5 117.9L165.9 129.7Z" fill="#89ff80"/>
<path d="M188.7 124.5L196.3 113.1L188.6 109.8L181 121Z" fill="#a9ff80"/>
<path d="M204.1 116.7L211.7 105.9L203.8 102.5L196.3 113.1Z" fill="#c5ff80"/>
<path d="M219.6 109.7L227.1 99.5L219.2 95.9L211.7 105.9Z" fill="#dfff7f"/>
<path d="M235.1 103.5L242.6 93.9L234.5 90.1L227.1 99.5Z" fill="#f6ff7d"/>
<path d="M250.7 98.1L258.1 89.2L249.9 85.1L242.6 93.9Z" fill="#fff47a"/>
<path d="M120.5 177.1L128.2 162.7L121.1 159.9L113.4 174.1Z" fill="#7ce9ff"/>
<path d="M135.5 165.9L143.2 152.1L135.9 149.1L128.2 162.7Z" fill="#7effe9"/>
<path d="M150.5 155.4L158.2 142.2L150.8 139.1L143.2 152.1Z" fill="#7fffc1"/>
<path d="M165.8 145.6L173.4 133L165.9 129.7L158.2 142.2Z" fill="#80ff9c"/>
<path d="M181.1 136.6L188.7 124.5L181 121L173.4 133Z" fill="#87ff81"/>
<path d="M196.5 128.2L204.1 116.7L196.3 113.1L188.7 124.5Z" fill="#a5ff81"/>
<path d="M212 120.6L219.6 109.7L211.7 105.9L204.1 116.7Z" fill="#c1ff81"/>
<path d="M227.6 113.8L235.1 103.5L227.1 99.5L219.6 109.7Z" fill="#d9ff80"/>
<path d="M243.3 107.8L250.7 98.1L242.6 93.9L235.1 103.5Z" fill="#efff7e"/>
<path d="M127.8 180.3L135.5 165.9L128.2 162.7L120.5 177.1Z" fill="#7de8ff"/>
<path d="M142.8 169.3L150.5 155.4L143.2 152.1L135.5 165.9Z" fill="#7fffeb"/>
<path d="M158 159L165.8 145.6L158.2 142.2L150.5 155.4Z" fill="#80ffc4"/>
<path d="M173.4 149.4L181.1 136.6L173.4 133L165.8 145.6Z" fill="#81ffa1"/>
<path d="M188.8 140.5L196.5 128.2L188.7 124.5L181.1 136.6Z" fill="#83ff82"/>
<path d="M204.4 132.3L212 120.6L204.1 116.7L196.5 128.2Z" fill="#a1ff82"/>
<path d="M220 124.9L227.6 113.8L219.6 109.7L212 120.6Z" fill="#bcff82"/>
<path d="M235.7 118.3L243.3 107.8L235.1 103.5L227.6 113.8Z" fill="#d3ff81"/>
<path d="M135.1 183.9L142.8 169.3L135.5 165.9L127.8 180.3Z" fill="#7ee6ff"/>
<path d="M150.3 173.1L158 159L150.5 155.4L142.8 169.3Z" fill="#80ffee"/>
<path d="M165.6 163L173.4 149.4L165.8 145.6L158 159Z" fill="#82ffc9"/>
<path d="M181.1 153.5L188.8 140.5L181.1 136.6L173.4 149.4Z" fill="#83ffa7"/>
<path d="M196.7 144.8L204.4 132.3L196.5 128.2L188.8 140.5Z" fill="#83ff87"/>
<path d="M212.3 136.8L220 124.9L212 120.6L204.4 132.3Z" fill="#9cff83"/>
<path d="M228.1 129.6L235.7 118.3L227.6 113.8L220 124.9Z" fill="#b5ff83"/>
<path d="M142.5 187.9L150.3 173.1L142.8 169.3L135.1 183.9Z" fill="#80e3ff"/>
<path d="M157.8 177.2L165.6 163L158 159L150.3 173.1Z" fill="#81fff3"/>
<path d="M173.3 167.2L181.1 153.5L173.4 149.4L165.6 163Z" fill="#83ffce"/>
<path d="M188.9 158L196.7 144.8L188.8 140.5L181.1 153.5Z" fill="#83ffad"/>
<path d="M204.6 149.5L212.3 136.8L204.4 132.3L196.7 144.8Z" fill="#84ff8f"/>
<path d="M220.4 141.7L228.1 129.6L220 124.9L212.3 136.8Z" fill="#95ff84"/>
<path d="M150 192.2L157.8 177.2L150.3 173.1L142.5 187.9Z" fill="#81dfff"/>
<path d="M165.5 181.7L173.3 167.2L165.6 163L157.8 177.2Z" fill="#82fff8"/>
<path d="M181.1 171.9L188.9 158L181.1 153.5L173.3 167.2Z" fill="#83ffd4"/>
<path d="M196.8 162.8L204.6 149.5L196.7 144.8L188.9 158Z" fill="#84ffb4"/>
<path d="M212.7 154.5L220.4 141.7L212.3 136.8L204.6 149.5Z" fill="#85ff97"/>
<path d="M157.7 196.8L165.5 181.7L157.8 177.2L150 192.2Z" fill="#81d9ff"/>
<path d="M173.3 186.5L181.1 171.9L173.3 167.2L165.5 181.7Z" fill="#83fffe"/>
<path d="M189 176.9L196.8 162.8L188.9 158L181.1 171.9Z" fill="#84ffdc"/>
<path d="M204.9 168L212.7 154.5L204.6 149.5L196.8 162.8Z" fill="#85ffbc"/>
<path d="M165.4 201.9L173.3 186.5L165.5 181.7L157.7 196.8Z" fill="#82d3ff"/>
<path d="M181.1 191.7L189 176.9L181.1 171.9L173.3 186.5Z" fill="#84f8ff"/>
<path d="M197 182.3L204.9 168L196.8 162.8L189 176.9Z" fill="#85ffe4"/>
<path d="M173.2 207.2L181.1 191.7L173.3 186.5L165.4 201.9Z" fill="#83cbff"/>
<path d="M189.1 197.3L197 182.3L189 176.9L181.1 191.7Z" fill="#84f0ff"/>
<path d="M181.2 213L189.1 197.3L181.1 191.7L173.2 207.2Z" fill="#83c3ff"/>
</g>
<path d="M35.6 34.6L44.7 211L181.1 273.1L317.8 211L327 34.3" stroke="#333" stroke-width=".8" fill="none"/>
<circle cx="42.5" cy="169.3" r="1.3" fill="#111"/>
<text x="39.9" y="168.1" font-size="5" font-family="Liberation Sans, sans-serif" text-anchor="end" fill="#333">60</text>
<circle cx="40.8" cy="135.6" r="1.3" fill="#111"/>
<text x="38.2" y="134.4" font-size="5" font-family="Liberation Sans, sans-serif" text-anchor="end" fill="#333">70</text>
<circle cx="39.1" cy="101.9" r="1.3" fill="#111"/>
<text x="36.5" y="100.7" font-size="5" font-family="Liberation Sans, sans-serif" text-anchor="end" fill="#333">80</text>
<circle cx="37.3" cy="68.3" r="1.3" fill="#111"/>
<text x="34.7" y="67.1" font-size="5" font-family="Liberation Sans, sans-serif" text-anchor="end" fill="#333">90</text>
<circle cx="35.6" cy="34.6" r="1.3" fill="#111"/>
<text x="33" y="33.4" font-size="5" font-family="Liberation Sans, sans-serif" text-anchor="end" fill="#333">100</text>
<circle cx="181.1" cy="273.1" r="1.2" fill="#111"/>
<text x="178.9" y="278.7" font-size="5" font-family="Liberation Sans, sans-serif" text-anchor="end" fill="#333">50</text>
<circle cx="153.8" cy="260.7" r="1.2" fill="#111"/>
<text x="151.6" y="266.3" font-size="5" font-family="Liberation Sans, sans-serif" text-anchor="end" fill="#333">70</text>
<circle cx="126.5" cy="248.3" r="1.2" fill="#111"/>
<text x="124.3" y="253.9" font-size="5" font-family="Liberation Sans, sans-serif" text-anchor="end" fill="#333">90</text>
<circle cx="99.3" cy="235.8" r="1.2" fill="#111"/>
<text x="97.1" y="241.4" font-size="5" font-family="Liberation Sans, sans-serif" text-anchor="end" fill="#333">110</text>
<circle cx="72" cy="223.4" r="1.2" fill="#111"/>
<text x="69.8" y="229" font-size="5" font-family="Liberation Sans, sans-serif" text-anchor="end" fill="#333">130</text>
<circle cx="44.7" cy="211" r="1.2" fill="#111"/>
<text x="42.5" y="216.6" font-size="5" font-family="Liberation Sans, sans-serif" text-anchor="end" fill="#333">150</text>
<circle cx="181.1" cy="273.1" r="1.2" fill="#111"/>
<text x="183.9" y="278.3" font-size="5" font-family="Liberation Sans, sans-serif" fill="#333">50</text>
<circle cx="208.4" cy="260.7" r="1.2" fill="#111"/>
<text x="211.2" y="265.9" font-size="5" font-family="Liberation Sans, sans-serif" fill="#333">70</text>
<circle cx="235.8" cy="248.3" r="1.2" fill="#111"/>
<text x="238.6" y="253.5" font-size="5" font-family="Liberation Sans, sans-serif" fill="#333">90</text>
<circle cx="263.1" cy="235.8" r="1.2" fill="#111"/>
<text x="265.9" y="241" font-size="5" font-family="Liberation Sans, sans-serif" fill="#333">110</text>
<circle cx="290.5" cy="223.4" r="1.2" fill="#111"/>
<text x="293.3" y="228.6" font-size="5" font-family="Liberation Sans, sans-serif" fill="#333">130</text>
<circle cx="317.8" cy="211" r="1.2" fill="#111"/>
<text x="320.6" y="216.2" font-size="5" font-family="Liberation Sans, sans-serif" fill="#333">150</text>
<path d="M42.3 163.9L42 160" stroke="#222" stroke-width=".7"/>
<circle cx="42.3" cy="163.9" r="2.7" fill="#ffc8c8" stroke="#a05050" stroke-width=".6"/>
<path d="M181.1 219.8L181.2 213" stroke="#222" stroke-width=".7"/>
<circle cx="181.1" cy="219.8" r="2.7" fill="#ffc8c8" stroke="#a05050" stroke-width=".6"/>
<path d="M180.6 62.8L180.9 62.8" stroke="#222" stroke-width=".7"/>
<circle cx="180.6" cy="62.8" r="2.6" fill="#b30000" stroke="#6a0000" stroke-width=".5"/>
<path d="M180.6 26L180.8 28.2" stroke="#222" stroke-width=".7"/>
<circle cx="180.6" cy="26" r="2.6" fill="#b30000" stroke="#6a0000" stroke-width=".5"/>
<path d="M326.3 44L326.3 44.9" stroke="#222" stroke-width=".7"/>
<circle cx="326.3" cy="44" r="2.6" fill="#b30000" stroke="#6a0000" stroke-width=".5"/>
<text transform="translate(12.6,124.3) rotate(-90)" font-size="15.5" font-family="Liberation Serif, serif" font-weight="bold" text-anchor="middle">Removal (%)</text>
<text x="278.5" y="269.5" font-size="15.5" font-family="Liberation Serif, serif" font-weight="bold" text-anchor="middle">A: dose (mg/L)</text>
<text x="73.5" y="269.5" font-size="15.5" font-family="Liberation Serif, serif" font-weight="bold" text-anchor="middle">B: dye conc (mg/L)</text>
<rect x="17.1" y="113.7" width="8.3" height="19.5" fill="url(#lg0)"/>
<text transform="translate(23.1,111.2) rotate(-90)" font-size="5" font-family="Liberation Sans, sans-serif" fill="#c03a52">98.1641</text>
<text transform="translate(23.1,135.7) rotate(-90)" font-size="5" font-family="Liberation Sans, sans-serif" fill="#3838a8" text-anchor="end">61.6927</text>
<text x="167" y="309.3" font-size="17" font-family="Liberation Serif, serif" font-weight="bold" text-anchor="middle">A</text>
<path d="M44 542.8L34.7 378.9M68.4 495.2L62.7 373.2M95 487.2L90.7 367.6M121.6 479.2L118.6 361.9M148.3 471.2L146.6 356.3M175 499L174.6 350.6M306.5 542.8L314.5 379M275 493.2L279.5 371.9M241.7 483.2L244.6 364.8M208.3 473.2L209.6 357.7M175 499L174.6 350.6M41.8 503.2L174.9 463.2L308.4 503.2M40.6 482.5L174.9 444.4L309.4 482.5M39.4 461.8L174.8 425.6L310.5 461.8M38.2 441.1L174.8 406.9L311.5 441.1M37.1 420.3L174.7 388.1L312.5 420.4M35.9 399.6L174.7 369.4L313.5 399.7M34.7 378.9L174.6 350.6L314.5 379" stroke="#555" stroke-width=".7" fill="none"/>
<path d="M44 542.8L175.1 599.8L306.5 542.8L175 499Z" fill="#5a5a5a"/>
<path d="M119.3 575.5L123.5 576.6L126.4 577.3L130.7 578.5L133.6 579.2L137.5 580.2L140.9 581.1L143.8 581.9L148.3 583L151.3 583.7L155.3 584.7L158.9 585.6L161.9 586.4L166.5 587.5L169.6 588.3L172.8 589L177.5 590.1L180.6 590.9L183.8 591.6L188.6 592.7L190.2 593.1" fill="none" stroke="#2f7fe0" stroke-width="1.3"/>
<path d="M51.1 546.1L54.3 547L57.9 548.1L60.3 548.8L64 549.9L66.5 550.6L70.2 551.6L72.7 552.3L76.5 553.4L79 554.1L82.8 555.2L85.4 555.9L89.3 557L91.9 557.7L95.8 558.7L98.5 559.5L102.5 560.5L105.2 561.2L109.2 562.3L111.9 563L115.9 564L118.8 564.8L121.9 565.6L125.8 566.6L128.6 567.3L132.9 568.4L135.7 569.1L139.3 570L142.9 570.8L145.8 571.6L150.2 572.6L153.2 573.3L156.3 574.1L160.6 575.1L163.7 575.8L167.2 576.6L171.3 577.6L174.3 578.3L178 579.1L182.1 580L185.2 580.7L188.6 581.5L193.1 582.5L196.3 583.2L199.6 583.9L204 584.8L207.7 585.6" fill="none" stroke="#12c2a8" stroke-width="1.3"/>
<path d="M59.5 537.7L61.9 538.4L65.5 539.4L67.9 540.1L71.5 541.1L74.4 541.9L77.6 542.8L80.8 543.7L83.8 544.5L87.1 545.4L90.1 546.2L93.3 547L96.5 547.9L99.4 548.6L103 549.6L105.6 550.2L109.6 551.2L112.2 551.9L116.3 552.9L119 553.6L122.7 554.5L125.8 555.3L128.5 555.9L132.7 556.9L135.5 557.6L139.4 558.5L142.6 559.3L145.4 559.9L149.7 560.9L152.7 561.6L155.6 562.3L160 563.2L162.9 563.9L165.9 564.6L170.4 565.5L173.4 566.2L176.5 566.8L180.7 567.7L184.2 568.5L187.3 569.1L190.5 569.8L195.1 570.7L198.3 571.3L201.5 572L204.7 572.6L209.3 573.5L212.8 574.2L216.1 574.8L219.4 575.4L222.9 576.1L227.4 576.9L227.8 576.9" fill="none" stroke="#3fc83c" stroke-width="1.3"/>
<path d="M79.5 531L81.9 531.6L85.6 532.6L88 533.2L91.7 534.2L94.2 534.8L97.9 535.7L100.5 536.4L104.3 537.3L106.8 538L110.7 538.9L113.3 539.5L116.3 540.2L119.9 541.1L122.6 541.7L126.6 542.6L129.3 543.3L132.1 543.9L136.1 544.8L138.9 545.4L142.3 546.2L145.9 546.9L148.7 547.6L152.1 548.3L155.9 549.1L158.8 549.7L161.7 550.3L166.1 551.2L169 551.8L172 552.3L175.5 553L179.6 553.8L182.6 554.4L185.7 555L188.8 555.5L193 556.3L196.7 556.9L199.8 557.5L203 558L206.3 558.6L209.6 559.1L213.6 559.8L217.5 560.4L221.1 561L224.4 561.5L227.8 562L231.3 562.5L234.7 563L238.2 563.5L241.7 564L245.2 564.4L248.8 564.9L252.4 565.3L254.2 565.6" fill="none" stroke="#d8d832" stroke-width="1.3"/>
<path d="M106.9 521.7L109.4 522.3L113.1 523.1L115.8 523.7L118.3 524.3L122.2 525.1L124.8 525.7L127.6 526.3L131.5 527L134.2 527.6L136.9 528.1L141 528.9L143.8 529.5L146.6 530L149.6 530.6L153.7 531.3L156.5 531.8L159.5 532.3L162.4 532.8L165.6 533.3L169.4 534L172.9 534.5L175.9 535L179 535.4L182.1 535.9L185.3 536.3L188.5 536.8L191.7 537.2L195 537.6L198.3 538L201.7 538.4L205.1 538.8L208.5 539.1L212 539.4L215.6 539.8L218.5 540L221.3 540.2L224.7 540.5L228.5 540.7L231.9 540.9L234.4 541L238.5 541.1L241.5 541.2L244.8 541.2L248.2 541.2L251.6 541.1L254.3 541.1L258.1 540.9L261.7 540.6L264.8 540.2L268.1 539.8L271 539.3L273.7 538.7L277.2 537.6L280.1 536.4L282.5 535" fill="none" stroke="#e8802c" stroke-width="1.3"/>
<g stroke="#2a2a22" stroke-width=".45" stroke-linejoin="round">
<path d="M174.6 370L180.5 369.3L174.6 367.6L168.7 368.3Z" fill="#ff0b0b"/>
<path d="M168.7 371.1L174.6 370L168.7 368.3L162.8 369.3Z" fill="#ff1515"/>
<path d="M180.6 371.8L186.5 371L180.5 369.3L174.6 370Z" fill="#ff0d0d"/>
<path d="M162.6 372.5L168.7 371.1L162.8 369.3L156.7 370.7Z" fill="#ff1e1e"/>
<path d="M174.6 372.9L180.6 371.8L174.6 370L168.7 371.1Z" fill="#ff1616"/>
<path d="M186.6 373.6L192.5 372.8L186.5 371L180.6 371.8Z" fill="#ff0e0e"/>
<path d="M156.6 374.2L162.6 372.5L156.7 370.7L150.7 372.4Z" fill="#ff2727"/>
<path d="M168.6 374.4L174.6 372.9L168.7 371.1L162.6 372.5Z" fill="#ff1f1f"/>
<path d="M180.7 374.8L186.6 373.6L180.6 371.8L174.6 372.9Z" fill="#ff1717"/>
<path d="M192.7 375.5L198.6 374.6L192.5 372.8L186.6 373.6Z" fill="#ff0f0f"/>
<path d="M150.4 376.3L156.6 374.2L150.7 372.4L144.5 374.4Z" fill="#ff3030"/>
<path d="M162.5 376.1L168.6 374.4L162.6 372.5L156.6 374.2Z" fill="#ff2828"/>
<path d="M174.6 376.3L180.7 374.8L174.6 372.9L168.6 374.4Z" fill="#ff2020"/>
<path d="M186.8 376.7L192.7 375.5L186.6 373.6L180.7 374.8Z" fill="#ff1818"/>
<path d="M198.9 377.5L204.8 376.6L198.6 374.6L192.7 375.5Z" fill="#ff1010"/>
<path d="M144.2 378.8L150.4 376.3L144.5 374.4L138.3 376.8Z" fill="#ff3838"/>
<path d="M156.4 378.3L162.5 376.1L156.6 374.2L150.4 376.3Z" fill="#ff3131"/>
<path d="M168.5 378.1L174.6 376.3L168.6 374.4L162.5 376.1Z" fill="#ff2929"/>
<path d="M180.7 378.3L186.8 376.7L180.7 374.8L174.6 376.3Z" fill="#ff2222"/>
<path d="M192.9 378.7L198.9 377.5L192.7 375.5L186.8 376.7Z" fill="#ff1919"/>
<path d="M205.1 379.5L211 378.5L204.8 376.6L198.9 377.5Z" fill="#ff1111"/>
<path d="M137.9 381.6L144.2 378.8L138.3 376.8L132 379.6Z" fill="#ff4040"/>
<path d="M150.1 380.8L156.4 378.3L150.4 376.3L144.2 378.8Z" fill="#ff3939"/>
<path d="M162.4 380.3L168.5 378.1L162.5 376.1L156.4 378.3Z" fill="#ff3232"/>
<path d="M174.6 380.2L180.7 378.3L174.6 376.3L168.5 378.1Z" fill="#ff2a2a"/>
<path d="M186.9 380.3L192.9 378.7L186.8 376.7L180.7 378.3Z" fill="#ff2323"/>
<path d="M199.1 380.8L205.1 379.5L198.9 377.5L192.9 378.7Z" fill="#ff1a1a"/>
<path d="M211.4 381.6L217.3 380.6L211 378.5L205.1 379.5Z" fill="#ff1212"/>
<path d="M131.6 384.7L137.9 381.6L132 379.6L125.7 382.7Z" fill="#ff4747"/>
<path d="M143.9 383.6L150.1 380.8L144.2 378.8L137.9 381.6Z" fill="#ff4141"/>
<path d="M156.2 382.9L162.4 380.3L156.4 378.3L150.1 380.8Z" fill="#ff3a3a"/>
<path d="M168.5 382.4L174.6 380.2L168.5 378.1L162.4 380.3Z" fill="#ff3333"/>
<path d="M180.8 382.3L186.9 380.3L180.7 378.3L174.6 380.2Z" fill="#ff2b2b"/>
<path d="M193.1 382.4L199.1 380.8L192.9 378.7L186.9 380.3Z" fill="#ff2424"/>
<path d="M205.4 382.9L211.4 381.6L205.1 379.5L199.1 380.8Z" fill="#ff1b1b"/>
<path d="M217.7 383.7L223.6 382.7L217.3 380.6L211.4 381.6Z" fill="#ff1313"/>
<path d="M125.2 388.2L131.6 384.7L125.7 382.7L119.3 386.1Z" fill="#ff4e4e"/>
<path d="M137.5 386.9L143.9 383.6L137.9 381.6L131.6 384.7Z" fill="#ff4848"/>
<path d="M149.9 385.8L156.2 382.9L150.1 380.8L143.9 383.6Z" fill="#ff4141"/>
<path d="M162.3 385L168.5 382.4L162.4 380.3L156.2 382.9Z" fill="#ff3b3b"/>
<path d="M174.6 384.6L180.8 382.3L174.6 380.2L168.5 382.4Z" fill="#ff3434"/>
<path d="M187 384.4L193.1 382.4L186.9 380.3L180.8 382.3Z" fill="#ff2c2c"/>
<path d="M199.4 384.6L205.4 382.9L199.1 380.8L193.1 382.4Z" fill="#ff2525"/>
<path d="M211.8 385.1L217.7 383.7L211.4 381.6L205.4 382.9Z" fill="#ff1d1d"/>
<path d="M224.2 385.9L230 384.8L223.6 382.7L217.7 383.7Z" fill="#ff1414"/>
<path d="M118.8 392.1L125.2 388.2L119.3 386.1L112.9 389.9Z" fill="#ff6154"/>
<path d="M131.1 390.4L137.5 386.9L131.6 384.7L125.2 388.2Z" fill="#ff4e4e"/>
<path d="M143.6 389L149.9 385.8L143.9 383.6L137.5 386.9Z" fill="#ff4949"/>
<path d="M156 388L162.3 385L156.2 382.9L149.9 385.8Z" fill="#ff4242"/>
<path d="M168.4 387.2L174.6 384.6L168.5 382.4L162.3 385Z" fill="#ff3c3c"/>
<path d="M180.9 386.8L187 384.4L180.8 382.3L174.6 384.6Z" fill="#ff3535"/>
<path d="M193.3 386.7L199.4 384.6L193.1 382.4L187 384.4Z" fill="#ff2d2d"/>
<path d="M205.8 386.9L211.8 385.1L205.4 382.9L199.4 384.6Z" fill="#ff2626"/>
<path d="M218.2 387.4L224.2 385.9L217.7 383.7L211.8 385.1Z" fill="#ff1e1e"/>
<path d="M230.6 388.2L236.5 387L230 384.8L224.2 385.9Z" fill="#ff1515"/>
<path d="M112.3 396.4L118.8 392.1L112.9 389.9L106.4 394.1Z" fill="#ff7d5a"/>
<path d="M124.7 394.4L131.1 390.4L125.2 388.2L118.8 392.1Z" fill="#ff6855"/>
<path d="M137.2 392.7L143.6 389L137.5 386.9L131.1 390.4Z" fill="#ff544f"/>
<path d="M149.6 391.3L156 388L149.9 385.8L143.6 389Z" fill="#ff4949"/>
<path d="M162.1 390.2L168.4 387.2L162.3 385L156 388Z" fill="#ff4343"/>
<path d="M174.6 389.5L180.9 386.8L174.6 384.6L168.4 387.2Z" fill="#ff3c3c"/>
<path d="M187.2 389.1L193.3 386.7L187 384.4L180.9 386.8Z" fill="#ff3636"/>
<path d="M199.7 388.9L205.8 386.9L199.4 384.6L193.3 386.7Z" fill="#ff2e2e"/>
<path d="M212.2 389.2L218.2 387.4L211.8 385.1L205.8 386.9Z" fill="#ff2727"/>
<path d="M224.7 389.7L230.6 388.2L224.2 385.9L218.2 387.4Z" fill="#ff1f1f"/>
<path d="M237.2 390.5L243.1 389.3L236.5 387L230.6 388.2Z" fill="#ff1616"/>
<path d="M105.7 401L112.3 396.4L106.4 394.1L99.9 398.7Z" fill="#ff9a5f"/>
<path d="M118.2 398.7L124.7 394.4L118.8 392.1L112.3 396.4Z" fill="#ff845b"/>
<path d="M130.7 396.7L137.2 392.7L131.1 390.4L124.7 394.4Z" fill="#ff6f55"/>
<path d="M143.2 395L149.6 391.3L143.6 389L137.2 392.7Z" fill="#ff5c50"/>
<path d="M155.8 393.6L162.1 390.2L156 388L149.6 391.3Z" fill="#ff4b4a"/>
<path d="M168.4 392.6L174.6 389.5L168.4 387.2L162.1 390.2Z" fill="#ff4444"/>
<path d="M180.9 391.8L187.2 389.1L180.9 386.8L174.6 389.5Z" fill="#ff3d3d"/>
<path d="M193.5 391.4L199.7 388.9L193.3 386.7L187.2 389.1Z" fill="#ff3636"/>
<path d="M206.1 391.3L212.2 389.2L205.8 386.9L199.7 388.9Z" fill="#ff2f2f"/>
<path d="M218.7 391.5L224.7 389.7L218.2 387.4L212.2 389.2Z" fill="#ff2828"/>
<path d="M231.3 392.1L237.2 390.5L230.6 388.2L224.7 389.7Z" fill="#ff2020"/>
<path d="M243.8 392.9L249.7 391.7L243.1 389.3L237.2 390.5Z" fill="#ff1d17"/>
<path d="M99.1 406L105.7 401L99.9 398.7L93.3 403.6Z" fill="#ffb864"/>
<path d="M111.7 403.4L118.2 398.7L112.3 396.4L105.7 401Z" fill="#ffa160"/>
<path d="M124.2 401.1L130.7 396.7L124.7 394.4L118.2 398.7Z" fill="#ff8b5b"/>
<path d="M136.8 399.1L143.2 395L137.2 392.7L130.7 396.7Z" fill="#ff7756"/>
<path d="M149.4 397.4L155.8 393.6L149.6 391.3L143.2 395Z" fill="#ff6451"/>
<path d="M162 396L168.4 392.6L162.1 390.2L155.8 393.6Z" fill="#ff544b"/>
<path d="M174.7 395L180.9 391.8L174.6 389.5L168.4 392.6Z" fill="#ff4545"/>
<path d="M187.3 394.2L193.5 391.4L187.2 389.1L180.9 391.8Z" fill="#ff3e3e"/>
<path d="M200 393.8L206.1 391.3L199.7 388.9L193.5 391.4Z" fill="#ff3737"/>
<path d="M212.6 393.7L218.7 391.5L212.2 389.2L206.1 391.3Z" fill="#ff3030"/>
<path d="M225.3 394L231.3 392.1L224.7 389.7L218.7 391.5Z" fill="#ff2828"/>
<path d="M237.9 394.5L243.8 392.9L237.2 390.5L231.3 392.1Z" fill="#ff2421"/>
<path d="M250.6 395.4L256.4 394.1L249.7 391.7L243.8 392.9Z" fill="#ff2918"/>
<path d="M92.5 411.4L99.1 406L93.3 403.6L86.6 409Z" fill="#ffd669"/>
<path d="M105 408.5L111.7 403.4L105.7 401L99.1 406Z" fill="#ffbe65"/>
<path d="M117.6 405.8L124.2 401.1L118.2 398.7L111.7 403.4Z" fill="#ffa861"/>
<path d="M130.3 403.5L136.8 399.1L130.7 396.7L124.2 401.1Z" fill="#ff935c"/>
<path d="M142.9 401.5L149.4 397.4L143.2 395L136.8 399.1Z" fill="#ff7f57"/>
<path d="M155.6 399.8L162 396L155.8 393.6L149.4 397.4Z" fill="#ff6d52"/>
<path d="M168.3 398.5L174.7 395L168.4 392.6L162 396Z" fill="#ff5d4c"/>
<path d="M181 397.4L187.3 394.2L180.9 391.8L174.7 395Z" fill="#ff4f46"/>
<path d="M193.7 396.7L200 393.8L193.5 391.4L187.3 394.2Z" fill="#ff433f"/>
<path d="M206.5 396.3L212.6 393.7L206.1 391.3L200 393.8Z" fill="#ff3938"/>
<path d="M219.2 396.2L225.3 394L218.7 391.5L212.6 393.7Z" fill="#ff3331"/>
<path d="M231.9 396.5L237.9 394.5L231.3 392.1L225.3 394Z" fill="#ff3029"/>
<path d="M244.6 397L250.6 395.4L243.8 392.9L237.9 394.5Z" fill="#ff3022"/>
<path d="M257.3 397.9L263.2 396.6L256.4 394.1L250.6 395.4Z" fill="#ff3519"/>
<path d="M85.8 417.2L92.5 411.4L86.6 409L80 414.7Z" fill="#fff66d"/>
<path d="M98.4 413.9L105 408.5L99.1 406L92.5 411.4Z" fill="#ffdd69"/>
<path d="M111 411L117.6 405.8L111.7 403.4L105 408.5Z" fill="#ffc665"/>
<path d="M123.7 408.3L130.3 403.5L124.2 401.1L117.6 405.8Z" fill="#ffaf61"/>
<path d="M136.4 406L142.9 401.5L136.8 399.1L130.3 403.5Z" fill="#ff9b5d"/>
<path d="M149.1 404L155.6 399.8L149.4 397.4L142.9 401.5Z" fill="#ff8758"/>
<path d="M161.9 402.3L168.3 398.5L162 396L155.6 399.8Z" fill="#ff7652"/>
<path d="M174.7 401L181 397.4L174.7 395L168.3 398.5Z" fill="#ff664d"/>
<path d="M187.5 399.9L193.7 396.7L187.3 394.2L181 397.4Z" fill="#ff5846"/>
<path d="M200.2 399.2L206.5 396.3L200 393.8L193.7 396.7Z" fill="#ff4d40"/>
<path d="M213 398.8L219.2 396.2L212.6 393.7L206.5 396.3Z" fill="#ff4439"/>
<path d="M225.8 398.8L231.9 396.5L225.3 394L219.2 396.2Z" fill="#ff3e32"/>
<path d="M238.6 399L244.6 397L237.9 394.5L231.9 396.5Z" fill="#ff3b2a"/>
<path d="M251.4 399.6L257.3 397.9L250.6 395.4L244.6 397Z" fill="#ff3d23"/>
<path d="M264.2 400.5L270 399.1L263.2 396.6L257.3 397.9Z" fill="#ff421a"/>
<path d="M79.1 423.3L85.8 417.2L80 414.7L73.3 420.8Z" fill="#e8ff70"/>
<path d="M91.7 419.8L98.4 413.9L92.5 411.4L85.8 417.2Z" fill="#fffd6d"/>
<path d="M104.4 416.5L111 411L105 408.5L98.4 413.9Z" fill="#ffe46a"/>
<path d="M117.1 413.6L123.7 408.3L117.6 405.8L111 411Z" fill="#ffcd66"/>
<path d="M129.8 410.9L136.4 406L130.3 403.5L123.7 408.3Z" fill="#ffb762"/>
<path d="M142.6 408.6L149.1 404L142.9 401.5L136.4 406Z" fill="#ffa35d"/>
<path d="M155.4 406.6L161.9 402.3L155.6 399.8L149.1 404Z" fill="#ff9058"/>
<path d="M168.2 404.9L174.7 401L168.3 398.5L161.9 402.3Z" fill="#ff7f53"/>
<path d="M181.1 403.6L187.5 399.9L181 397.4L174.7 401Z" fill="#ff704d"/>
<path d="M194 402.5L200.2 399.2L193.7 396.7L187.5 399.9Z" fill="#ff6247"/>
<path d="M206.8 401.8L213 398.8L206.5 396.3L200.2 399.2Z" fill="#ff5741"/>
<path d="M219.7 401.5L225.8 398.8L219.2 396.2L213 398.8Z" fill="#ff4f3a"/>
<path d="M232.6 401.4L238.6 399L231.9 396.5L225.8 398.8Z" fill="#ff4a33"/>
<path d="M245.4 401.7L251.4 399.6L244.6 397L238.6 399Z" fill="#ff472b"/>
<path d="M258.3 402.3L264.2 400.5L257.3 397.9L251.4 399.6Z" fill="#ff4924"/>
<path d="M271.1 403.2L276.9 401.7L270 399.1L264.2 400.5Z" fill="#ff4f1b"/>
<path d="M72.3 429.9L79.1 423.3L73.3 420.8L66.5 427.2Z" fill="#c6ff74"/>
<path d="M85 426L91.7 419.8L85.8 417.2L79.1 423.3Z" fill="#e1ff71"/>
<path d="M97.7 422.4L104.4 416.5L98.4 413.9L91.7 419.8Z" fill="#fbff6e"/>
<path d="M110.4 419.2L117.1 413.6L111 411L104.4 416.5Z" fill="#ffeb6a"/>
<path d="M123.2 416.2L129.8 410.9L123.7 408.3L117.1 413.6Z" fill="#ffd567"/>
<path d="M136 413.6L142.6 408.6L136.4 406L129.8 410.9Z" fill="#ffbf62"/>
<path d="M148.9 411.3L155.4 406.6L149.1 404L142.6 408.6Z" fill="#ffab5e"/>
<path d="M161.8 409.3L168.2 404.9L161.9 402.3L155.4 406.6Z" fill="#ff9959"/>
<path d="M174.7 407.6L181.1 403.6L174.7 401L168.2 404.9Z" fill="#ff8854"/>
<path d="M187.6 406.2L194 402.5L187.5 399.9L181.1 403.6Z" fill="#ff794e"/>
<path d="M200.5 405.2L206.8 401.8L200.2 399.2L194 402.5Z" fill="#ff6d48"/>
<path d="M213.5 404.5L219.7 401.5L213 398.8L206.8 401.8Z" fill="#ff6242"/>
<path d="M226.4 404.1L232.6 401.4L225.8 398.8L219.7 401.5Z" fill="#ff5a3b"/>
<path d="M239.4 404.1L245.4 401.7L238.6 399L232.6 401.4Z" fill="#ff5534"/>
<path d="M252.3 404.4L258.3 402.3L251.4 399.6L245.4 401.7Z" fill="#ff542c"/>
<path d="M265.2 405L271.1 403.2L264.2 400.5L258.3 402.3Z" fill="#ff5624"/>
<path d="M278.1 405.9L283.9 404.4L276.9 401.7L271.1 403.2Z" fill="#ff5d1c"/>
<path d="M65.5 436.8L72.3 429.9L66.5 427.2L59.7 434.1Z" fill="#a4ff77"/>
<path d="M78.2 432.6L85 426L79.1 423.3L72.3 429.9Z" fill="#c0ff74"/>
<path d="M90.9 428.7L97.7 422.4L91.7 419.8L85 426Z" fill="#daff71"/>
<path d="M103.7 425.1L110.4 419.2L104.4 416.5L97.7 422.4Z" fill="#f3ff6e"/>
<path d="M116.5 421.9L123.2 416.2L117.1 413.6L110.4 419.2Z" fill="#fff36b"/>
<path d="M129.4 418.9L136 413.6L129.8 410.9L123.2 416.2Z" fill="#ffdd67"/>
<path d="M142.3 416.3L148.9 411.3L142.6 408.6L136 413.6Z" fill="#ffc863"/>
<path d="M155.2 414L161.8 409.3L155.4 406.6L148.9 411.3Z" fill="#ffb45f"/>
<path d="M168.2 412L174.7 407.6L168.2 404.9L161.8 409.3Z" fill="#ffa25a"/>
<path d="M181.2 410.3L187.6 406.2L181.1 403.6L174.7 407.6Z" fill="#ff9254"/>
<path d="M194.2 409L200.5 405.2L194 402.5L187.6 406.2Z" fill="#ff834f"/>
<path d="M207.2 408L213.5 404.5L206.8 401.8L200.5 405.2Z" fill="#ff7749"/>
<path d="M220.2 407.3L226.4 404.1L219.7 401.5L213.5 404.5Z" fill="#ff6d42"/>
<path d="M233.2 406.9L239.4 404.1L232.6 401.4L226.4 404.1Z" fill="#ff663c"/>
<path d="M246.2 406.9L252.3 404.4L245.4 401.7L239.4 404.1Z" fill="#ff6235"/>
<path d="M259.2 407.2L265.2 405L258.3 402.3L252.3 404.4Z" fill="#ff612d"/>
<path d="M272.2 407.8L278.1 405.9L271.1 403.2L265.2 405Z" fill="#ff6325"/>
<path d="M285.2 408.7L291 407.2L283.9 404.4L278.1 405.9Z" fill="#ff6a1d"/>
<path d="M58.6 444.2L65.5 436.8L59.7 434.1L52.9 441.3Z" fill="#80ff79"/>
<path d="M71.3 439.6L78.2 432.6L72.3 429.9L65.5 436.8Z" fill="#9dff77"/>
<path d="M84.1 435.4L90.9 428.7L85 426L78.2 432.6Z" fill="#b9ff75"/>
<path d="M96.9 431.5L103.7 425.1L97.7 422.4L90.9 428.7Z" fill="#d3ff72"/>
<path d="M109.8 427.9L116.5 421.9L110.4 419.2L103.7 425.1Z" fill="#ecff6f"/>
<path d="M122.7 424.7L129.4 418.9L123.2 416.2L116.5 421.9Z" fill="#fffb6b"/>
<path d="M135.6 421.7L142.3 416.3L136 413.6L129.4 418.9Z" fill="#ffe568"/>
<path d="M148.6 419.1L155.2 414L148.9 411.3L142.3 416.3Z" fill="#ffd064"/>
<path d="M161.6 416.8L168.2 412L161.8 409.3L155.2 414Z" fill="#ffbd5f"/>
<path d="M174.7 414.8L181.2 410.3L174.7 407.6L168.2 412Z" fill="#ffac5a"/>
<path d="M187.7 413.1L194.2 409L187.6 406.2L181.2 410.3Z" fill="#ff9c55"/>
<path d="M200.8 411.8L207.2 408L200.5 405.2L194.2 409Z" fill="#ff8e50"/>
<path d="M213.9 410.8L220.2 407.3L213.5 404.5L207.2 408Z" fill="#ff824a"/>
<path d="M227 410.1L233.2 406.9L226.4 404.1L220.2 407.3Z" fill="#ff7943"/>
<path d="M240.1 409.7L246.2 406.9L239.4 404.1L233.2 406.9Z" fill="#ff723d"/>
<path d="M253.2 409.7L259.2 407.2L252.3 404.4L246.2 406.9Z" fill="#ff6e36"/>
<path d="M266.3 410L272.2 407.8L265.2 405L259.2 407.2Z" fill="#ff6e2e"/>
<path d="M279.3 410.7L285.2 408.7L278.1 405.9L272.2 407.8Z" fill="#ff7126"/>
<path d="M292.4 411.6L298.2 410L291 407.2L285.2 408.7Z" fill="#ff791e"/>
<path d="M51.8 451.9L58.6 444.2L52.9 441.3L46 449Z" fill="#7bff9c"/>
<path d="M64.5 447.1L71.3 439.6L65.5 436.8L58.6 444.2Z" fill="#7aff7a"/>
<path d="M77.3 442.5L84.1 435.4L78.2 432.6L71.3 439.6Z" fill="#96ff77"/>
<path d="M90.1 438.3L96.9 431.5L90.9 428.7L84.1 435.4Z" fill="#b2ff75"/>
<path d="M103 434.4L109.8 427.9L103.7 425.1L96.9 431.5Z" fill="#ccff72"/>
<path d="M116 430.8L122.7 424.7L116.5 421.9L109.8 427.9Z" fill="#e4ff6f"/>
<path d="M129 427.5L135.6 421.7L129.4 418.9L122.7 424.7Z" fill="#fbff6c"/>
<path d="M142 424.6L148.6 419.1L142.3 416.3L135.6 421.7Z" fill="#ffed68"/>
<path d="M155 421.9L161.6 416.8L155.2 414L148.6 419.1Z" fill="#ffd964"/>
<path d="M168.1 419.6L174.7 414.8L168.2 412L161.6 416.8Z" fill="#ffc660"/>
<path d="M181.3 417.6L187.7 413.1L181.2 410.3L174.7 414.8Z" fill="#ffb55b"/>
<path d="M194.4 416L200.8 411.8L194.2 409L187.7 413.1Z" fill="#ffa656"/>
<path d="M207.5 414.6L213.9 410.8L207.2 408L200.8 411.8Z" fill="#ff9950"/>
<path d="M220.7 413.6L227 410.1L220.2 407.3L213.9 410.8Z" fill="#ff8d4a"/>
<path d="M233.9 413L240.1 409.7L233.2 406.9L227 410.1Z" fill="#ff8444"/>
<path d="M247 412.6L253.2 409.7L246.2 406.9L240.1 409.7Z" fill="#ff7e3d"/>
<path d="M260.2 412.6L266.3 410L259.2 407.2L253.2 409.7Z" fill="#ff7b36"/>
<path d="M273.4 412.9L279.3 410.7L272.2 407.8L266.3 410Z" fill="#ff7b2f"/>
<path d="M286.5 413.6L292.4 411.6L285.2 408.7L279.3 410.7Z" fill="#ff7f27"/>
<path d="M299.6 414.6L305.4 412.9L298.2 410L292.4 411.6Z" fill="#ff871f"/>
<path d="M44.8 460L51.8 451.9L46 449L39.1 457Z" fill="#7dffc6"/>
<path d="M57.6 454.9L64.5 447.1L58.6 444.2L51.8 451.9Z" fill="#7cffa3"/>
<path d="M70.4 450L77.3 442.5L71.3 439.6L64.5 447.1Z" fill="#7aff81"/>
<path d="M83.3 445.5L90.1 438.3L84.1 435.4L77.3 442.5Z" fill="#8fff78"/>
<path d="M96.2 441.3L103 434.4L96.9 431.5L90.1 438.3Z" fill="#aaff76"/>
<path d="M109.2 437.3L116 430.8L109.8 427.9L103 434.4Z" fill="#c4ff73"/>
<path d="M122.2 433.7L129 427.5L122.7 424.7L116 430.8Z" fill="#dcff70"/>
<path d="M135.3 430.5L142 424.6L135.6 421.7L129 427.5Z" fill="#f3ff6d"/>
<path d="M148.4 427.5L155 421.9L148.6 419.1L142 424.6Z" fill="#fff669"/>
<path d="M161.5 424.9L168.1 419.6L161.6 416.8L155 421.9Z" fill="#ffe265"/>
<path d="M174.7 422.6L181.3 417.6L174.7 414.8L168.1 419.6Z" fill="#ffd060"/>
<path d="M187.9 420.6L194.4 416L187.7 413.1L181.3 417.6Z" fill="#ffbf5c"/>
<path d="M201.1 418.9L207.5 414.6L200.8 411.8L194.4 416Z" fill="#ffb057"/>
<path d="M214.3 417.6L220.7 413.6L213.9 410.8L207.5 414.6Z" fill="#ffa351"/>
<path d="M227.6 416.6L233.9 413L227 410.1L220.7 413.6Z" fill="#ff994b"/>
<path d="M240.8 415.9L247 412.6L240.1 409.7L233.9 413Z" fill="#ff9045"/>
<path d="M254.1 415.6L260.2 412.6L253.2 409.7L247 412.6Z" fill="#ff8b3e"/>
<path d="M267.3 415.6L273.4 412.9L266.3 410L260.2 412.6Z" fill="#ff8837"/>
<path d="M280.5 415.9L286.5 413.6L279.3 410.7L273.4 412.9Z" fill="#ff8930"/>
<path d="M293.7 416.6L299.6 414.6L292.4 411.6L286.5 413.6Z" fill="#ff8d28"/>
<path d="M306.9 417.6L312.7 415.9L305.4 412.9L299.6 414.6Z" fill="#ff9620"/>
<path d="M50.6 463.1L57.6 454.9L51.8 451.9L44.8 460Z" fill="#7effcd"/>
<path d="M63.5 457.9L70.4 450L64.5 447.1L57.6 454.9Z" fill="#7cffaa"/>
<path d="M76.4 453.1L83.3 445.5L77.3 442.5L70.4 450Z" fill="#7aff89"/>
<path d="M89.3 448.5L96.2 441.3L90.1 438.3L83.3 445.5Z" fill="#88ff78"/>
<path d="M102.3 444.3L109.2 437.3L103 434.4L96.2 441.3Z" fill="#a3ff76"/>
<path d="M115.4 440.4L122.2 433.7L116 430.8L109.2 437.3Z" fill="#bcff73"/>
<path d="M128.5 436.8L135.3 430.5L129 427.5L122.2 433.7Z" fill="#d4ff70"/>
<path d="M141.7 433.5L148.4 427.5L142 424.6L135.3 430.5Z" fill="#eaff6d"/>
<path d="M154.9 430.5L161.5 424.9L155 421.9L148.4 427.5Z" fill="#ffff69"/>
<path d="M168.1 427.9L174.7 422.6L168.1 419.6L161.5 424.9Z" fill="#ffeb65"/>
<path d="M181.3 425.6L187.9 420.6L181.3 417.6L174.7 422.6Z" fill="#ffda61"/>
<path d="M194.6 423.6L201.1 418.9L194.4 416L187.9 420.6Z" fill="#ffc95c"/>
<path d="M207.9 421.9L214.3 417.6L207.5 414.6L201.1 418.9Z" fill="#ffbb57"/>
<path d="M221.2 420.6L227.6 416.6L220.7 413.6L214.3 417.6Z" fill="#ffaf52"/>
<path d="M234.5 419.6L240.8 415.9L233.9 413L227.6 416.6Z" fill="#ffa44c"/>
<path d="M247.9 419L254.1 415.6L247 412.6L240.8 415.9Z" fill="#ff9d46"/>
<path d="M261.2 418.7L267.3 415.6L260.2 412.6L254.1 415.6Z" fill="#ff983f"/>
<path d="M274.5 418.7L280.5 415.9L273.4 412.9L267.3 415.6Z" fill="#ff9538"/>
<path d="M287.8 419L293.7 416.6L286.5 413.6L280.5 415.9Z" fill="#ff9731"/>
<path d="M301.1 419.7L306.9 417.6L299.6 414.6L293.7 416.6Z" fill="#ff9c29"/>
<path d="M56.5 466.2L63.5 457.9L57.6 454.9L50.6 463.1Z" fill="#7effd5"/>
<path d="M69.4 461L76.4 453.1L70.4 450L63.5 457.9Z" fill="#7cffb2"/>
<path d="M82.4 456.2L89.3 448.5L83.3 445.5L76.4 453.1Z" fill="#7bff91"/>
<path d="M95.5 451.6L102.3 444.3L96.2 441.3L89.3 448.5Z" fill="#81ff79"/>
<path d="M108.6 447.4L115.4 440.4L109.2 437.3L102.3 444.3Z" fill="#9bff76"/>
<path d="M121.7 443.5L128.5 436.8L122.2 433.7L115.4 440.4Z" fill="#b4ff74"/>
<path d="M134.9 439.9L141.7 433.5L135.3 430.5L128.5 436.8Z" fill="#cbff71"/>
<path d="M148.1 436.6L154.9 430.5L148.4 427.5L141.7 433.5Z" fill="#e1ff6e"/>
<path d="M161.4 433.6L168.1 427.9L161.5 424.9L154.9 430.5Z" fill="#f6ff6a"/>
<path d="M174.7 431L181.3 425.6L174.7 422.6L168.1 427.9Z" fill="#fff566"/>
<path d="M188.1 428.7L194.6 423.6L187.9 420.6L181.3 425.6Z" fill="#ffe462"/>
<path d="M201.4 426.7L207.9 421.9L201.1 418.9L194.6 423.6Z" fill="#ffd45d"/>
<path d="M214.8 425L221.2 420.6L214.3 417.6L207.9 421.9Z" fill="#ffc658"/>
<path d="M228.2 423.7L234.5 419.6L227.6 416.6L221.2 420.6Z" fill="#ffba52"/>
<path d="M241.6 422.7L247.9 419L240.8 415.9L234.5 419.6Z" fill="#ffb04d"/>
<path d="M255 422.1L261.2 418.7L254.1 415.6L247.9 419Z" fill="#ffa946"/>
<path d="M268.4 421.8L274.5 418.7L267.3 415.6L261.2 418.7Z" fill="#ffa540"/>
<path d="M281.7 421.8L287.8 419L280.5 415.9L274.5 418.7Z" fill="#ffa339"/>
<path d="M295.1 422.2L301.1 419.7L293.7 416.6L287.8 419Z" fill="#ffa532"/>
<path d="M62.5 469.4L69.4 461L63.5 457.9L56.5 466.2Z" fill="#7effdc"/>
<path d="M75.5 464.2L82.4 456.2L76.4 453.1L69.4 461Z" fill="#7dffba"/>
<path d="M88.5 459.4L95.5 451.6L89.3 448.5L82.4 456.2Z" fill="#7bff99"/>
<path d="M101.7 454.8L108.6 447.4L102.3 444.3L95.5 451.6Z" fill="#79ff79"/>
<path d="M114.8 450.6L121.7 443.5L115.4 440.4L108.6 447.4Z" fill="#93ff77"/>
<path d="M128.1 446.6L134.9 439.9L128.5 436.8L121.7 443.5Z" fill="#acff74"/>
<path d="M141.4 443L148.1 436.6L141.7 433.5L134.9 439.9Z" fill="#c3ff71"/>
<path d="M154.7 439.7L161.4 433.6L154.9 430.5L148.1 436.6Z" fill="#d8ff6e"/>
<path d="M168 436.8L174.7 431L168.1 427.9L161.4 433.6Z" fill="#edff6a"/>
<path d="M181.4 434.1L188.1 428.7L181.3 425.6L174.7 431Z" fill="#ffff67"/>
<path d="M194.8 431.8L201.4 426.7L194.6 423.6L188.1 428.7Z" fill="#ffee62"/>
<path d="M208.3 429.9L214.8 425L207.9 421.9L201.4 426.7Z" fill="#ffdf5e"/>
<path d="M221.7 428.2L228.2 423.7L221.2 420.6L214.8 425Z" fill="#ffd159"/>
<path d="M235.2 426.9L241.6 422.7L234.5 419.6L228.2 423.7Z" fill="#ffc653"/>
<path d="M248.7 425.9L255 422.1L247.9 419L241.6 422.7Z" fill="#ffbd4d"/>
<path d="M262.2 425.3L268.4 421.8L261.2 418.7L255 422.1Z" fill="#ffb647"/>
<path d="M275.6 425L281.7 421.8L274.5 418.7L268.4 421.8Z" fill="#ffb241"/>
<path d="M289.1 425L295.1 422.2L287.8 419L281.7 421.8Z" fill="#ffb13a"/>
<path d="M68.5 472.7L75.5 464.2L69.4 461L62.5 469.4Z" fill="#7effe4"/>
<path d="M81.6 467.5L88.5 459.4L82.4 456.2L75.5 464.2Z" fill="#7dffc2"/>
<path d="M94.7 462.6L101.7 454.8L95.5 451.6L88.5 459.4Z" fill="#7bffa2"/>
<path d="M107.9 458.1L114.8 450.6L108.6 447.4L101.7 454.8Z" fill="#79ff82"/>
<path d="M121.2 453.8L128.1 446.6L121.7 443.5L114.8 450.6Z" fill="#8bff77"/>
<path d="M134.5 449.9L141.4 443L134.9 439.9L128.1 446.6Z" fill="#a3ff75"/>
<path d="M147.9 446.3L154.7 439.7L148.1 436.6L141.4 443Z" fill="#baff72"/>
<path d="M161.3 443L168 436.8L161.4 433.6L154.7 439.7Z" fill="#cfff6f"/>
<path d="M174.7 440L181.4 434.1L174.7 431L168 436.8Z" fill="#e3ff6b"/>
<path d="M188.2 437.4L194.8 431.8L188.1 428.7L181.4 434.1Z" fill="#f5ff67"/>
<path d="M201.7 435.1L208.3 429.9L201.4 426.7L194.8 431.8Z" fill="#fff963"/>
<path d="M215.2 433.1L221.7 428.2L214.8 425L208.3 429.9Z" fill="#ffea5e"/>
<path d="M228.8 431.5L235.2 426.9L228.2 423.7L221.7 428.2Z" fill="#ffdd59"/>
<path d="M242.3 430.2L248.7 425.9L241.6 422.7L235.2 426.9Z" fill="#ffd254"/>
<path d="M255.9 429.2L262.2 425.3L255 422.1L248.7 425.9Z" fill="#ffc94e"/>
<path d="M269.4 428.6L275.6 425L268.4 421.8L262.2 425.3Z" fill="#ffc348"/>
<path d="M283 428.3L289.1 425L281.7 421.8L275.6 425Z" fill="#ffc041"/>
<path d="M74.6 476.1L81.6 467.5L75.5 464.2L68.5 472.7Z" fill="#7fffec"/>
<path d="M87.7 470.9L94.7 462.6L88.5 459.4L81.6 467.5Z" fill="#7dffcb"/>
<path d="M101 466L107.9 458.1L101.7 454.8L94.7 462.6Z" fill="#7cffaa"/>
<path d="M114.3 461.4L121.2 453.8L114.8 450.6L107.9 458.1Z" fill="#7aff8b"/>
<path d="M127.6 457.2L134.5 449.9L128.1 446.6L121.2 453.8Z" fill="#82ff78"/>
<path d="M141 453.2L147.9 446.3L141.4 443L134.5 449.9Z" fill="#9aff75"/>
<path d="M154.5 449.6L161.3 443L154.7 439.7L147.9 446.3Z" fill="#b1ff72"/>
<path d="M168 446.3L174.7 440L168 436.8L161.3 443Z" fill="#c6ff6f"/>
<path d="M181.5 443.3L188.2 437.4L181.4 434.1L174.7 440Z" fill="#d9ff6c"/>
<path d="M195.1 440.7L201.7 435.1L194.8 431.8L188.2 437.4Z" fill="#ebff68"/>
<path d="M208.7 438.4L215.2 433.1L208.3 429.9L201.7 435.1Z" fill="#fbff63"/>
<path d="M222.3 436.4L228.8 431.5L221.7 428.2L215.2 433.1Z" fill="#fff55f"/>
<path d="M235.9 434.8L242.3 430.2L235.2 426.9L228.8 431.5Z" fill="#ffe95a"/>
<path d="M249.5 433.5L255.9 429.2L248.7 425.9L242.3 430.2Z" fill="#ffde55"/>
<path d="M263.1 432.6L269.4 428.6L262.2 425.3L255.9 429.2Z" fill="#ffd64f"/>
<path d="M276.8 431.9L283 428.3L275.6 425L269.4 428.6Z" fill="#ffd149"/>
<path d="M80.7 479.5L87.7 470.9L81.6 467.5L74.6 476.1Z" fill="#7ffff5"/>
<path d="M94 474.3L101 466L94.7 462.6L87.7 470.9Z" fill="#7effd3"/>
<path d="M107.3 469.4L114.3 461.4L107.9 458.1L101 466Z" fill="#7cffb3"/>
<path d="M120.7 464.8L127.6 457.2L121.2 453.8L114.3 461.4Z" fill="#7aff94"/>
<path d="M134.1 460.6L141 453.2L134.5 449.9L127.6 457.2Z" fill="#79ff78"/>
<path d="M147.6 456.6L154.5 449.6L147.9 446.3L141 453.2Z" fill="#91ff75"/>
<path d="M161.2 453L168 446.3L161.3 443L154.5 449.6Z" fill="#a7ff73"/>
<path d="M174.8 449.7L181.5 443.3L174.7 440L168 446.3Z" fill="#bcff6f"/>
<path d="M188.4 446.7L195.1 440.7L188.2 437.4L181.5 443.3Z" fill="#cfff6c"/>
<path d="M202 444.1L208.7 438.4L201.7 435.1L195.1 440.7Z" fill="#e0ff68"/>
<path d="M215.7 441.8L222.3 436.4L215.2 433.1L208.7 438.4Z" fill="#f0ff64"/>
<path d="M229.4 439.8L235.9 434.8L228.8 431.5L222.3 436.4Z" fill="#fdff5f"/>
<path d="M243.1 438.2L249.5 433.5L242.3 430.2L235.9 434.8Z" fill="#fff55b"/>
<path d="M256.8 436.9L263.1 432.6L255.9 429.2L249.5 433.5Z" fill="#ffeb55"/>
<path d="M270.5 436L276.8 431.9L269.4 428.6L263.1 432.6Z" fill="#ffe350"/>
<path d="M87 483.1L94 474.3L87.7 470.9L80.7 479.5Z" fill="#7ffffd"/>
<path d="M100.3 477.8L107.3 469.4L101 466L94 474.3Z" fill="#7effdc"/>
<path d="M113.7 472.9L120.7 464.8L114.3 461.4L107.3 469.4Z" fill="#7cffbc"/>
<path d="M127.2 468.3L134.1 460.6L127.6 457.2L120.7 464.8Z" fill="#7aff9e"/>
<path d="M140.7 464.1L147.6 456.6L141 453.2L134.1 460.6Z" fill="#78ff80"/>
<path d="M154.3 460.1L161.2 453L154.5 449.6L147.6 456.6Z" fill="#88ff76"/>
<path d="M167.9 456.5L174.8 449.7L168 446.3L161.2 453Z" fill="#9eff73"/>
<path d="M181.6 453.2L188.4 446.7L181.5 443.3L174.8 449.7Z" fill="#b2ff70"/>
<path d="M195.3 450.2L202 444.1L195.1 440.7L188.4 446.7Z" fill="#c4ff6c"/>
<path d="M209 447.6L215.7 441.8L208.7 438.4L202 444.1Z" fill="#d5ff69"/>
<path d="M222.8 445.3L229.4 439.8L222.3 436.4L215.7 441.8Z" fill="#e4ff65"/>
<path d="M236.6 443.3L243.1 438.2L235.9 434.8L229.4 439.8Z" fill="#f2ff60"/>
<path d="M250.3 441.7L256.8 436.9L249.5 433.5L243.1 438.2Z" fill="#fdff5b"/>
<path d="M264.1 440.4L270.5 436L263.1 432.6L256.8 436.9Z" fill="#fff856"/>
<path d="M93.3 486.7L100.3 477.8L94 474.3L87 483.1Z" fill="#80f8ff"/>
<path d="M106.7 481.4L113.7 472.9L107.3 469.4L100.3 477.8Z" fill="#7effe5"/>
<path d="M120.2 476.5L127.2 468.3L120.7 464.8L113.7 472.9Z" fill="#7dffc6"/>
<path d="M133.8 471.9L140.7 464.1L134.1 460.6L127.2 468.3Z" fill="#7bffa7"/>
<path d="M147.4 467.6L154.3 460.1L147.6 456.6L140.7 464.1Z" fill="#79ff8a"/>
<path d="M161.1 463.7L167.9 456.5L161.2 453L154.3 460.1Z" fill="#7eff76"/>
<path d="M174.8 460.1L181.6 453.2L174.8 449.7L167.9 456.5Z" fill="#94ff73"/>
<path d="M188.5 456.8L195.3 450.2L188.4 446.7L181.6 453.2Z" fill="#a7ff70"/>
<path d="M202.3 453.8L209 447.6L202 444.1L195.3 450.2Z" fill="#baff6d"/>
<path d="M216.1 451.2L222.8 445.3L215.7 441.8L209 447.6Z" fill="#caff69"/>
<path d="M230 448.9L236.6 443.3L229.4 439.8L222.8 445.3Z" fill="#d9ff65"/>
<path d="M243.8 446.9L250.3 441.7L243.1 438.2L236.6 443.3Z" fill="#e6ff61"/>
<path d="M257.7 445.3L264.1 440.4L256.8 436.9L250.3 441.7Z" fill="#f1ff5c"/>
<path d="M99.6 490.4L106.7 481.4L100.3 477.8L93.3 486.7Z" fill="#80efff"/>
<path d="M113.2 485.1L120.2 476.5L113.7 472.9L106.7 481.4Z" fill="#7fffef"/>
<path d="M126.8 480.2L133.8 471.9L127.2 468.3L120.2 476.5Z" fill="#7dffcf"/>
<path d="M140.4 475.6L147.4 467.6L140.7 464.1L133.8 471.9Z" fill="#7bffb1"/>
<path d="M154.1 471.3L161.1 463.7L154.3 460.1L147.4 467.6Z" fill="#79ff95"/>
<path d="M167.9 467.3L174.8 460.1L167.9 456.5L161.1 463.7Z" fill="#77ff79"/>
<path d="M181.7 463.7L188.5 456.8L181.6 453.2L174.8 460.1Z" fill="#89ff74"/>
<path d="M195.5 460.4L202.3 453.8L195.3 450.2L188.5 456.8Z" fill="#9dff71"/>
<path d="M209.4 457.4L216.1 451.2L209 447.6L202.3 453.8Z" fill="#afff6d"/>
<path d="M223.3 454.8L230 448.9L222.8 445.3L216.1 451.2Z" fill="#bfff6a"/>
<path d="M237.2 452.5L243.8 446.9L236.6 443.3L230 448.9Z" fill="#cdff66"/>
<path d="M251.2 450.6L257.7 445.3L250.3 441.7L243.8 446.9Z" fill="#d9ff61"/>
<path d="M106.1 494.2L113.2 485.1L106.7 481.4L99.6 490.4Z" fill="#80e5ff"/>
<path d="M119.7 488.9L126.8 480.2L120.2 476.5L113.2 485.1Z" fill="#7ffff8"/>
<path d="M133.4 484L140.4 475.6L133.8 471.9L126.8 480.2Z" fill="#7dffd9"/>
<path d="M147.2 479.4L154.1 471.3L147.4 467.6L140.4 475.6Z" fill="#7bffbc"/>
<path d="M161 475.1L167.9 467.3L161.1 463.7L154.1 471.3Z" fill="#79ff9f"/>
<path d="M174.8 471.1L181.7 463.7L174.8 460.1L167.9 467.3Z" fill="#77ff84"/>
<path d="M188.7 467.5L195.5 460.4L188.5 456.8L181.7 463.7Z" fill="#7fff74"/>
<path d="M202.6 464.1L209.4 457.4L202.3 453.8L195.5 460.4Z" fill="#92ff71"/>
<path d="M216.6 461.2L223.3 454.8L216.1 451.2L209.4 457.4Z" fill="#a4ff6e"/>
<path d="M230.6 458.5L237.2 452.5L230 448.9L223.3 454.8Z" fill="#b3ff6a"/>
<path d="M244.6 456.3L251.2 450.6L243.8 446.9L237.2 452.5Z" fill="#c1ff66"/>
<path d="M112.6 498L119.7 488.9L113.2 485.1L106.1 494.2Z" fill="#80dcff"/>
<path d="M126.3 492.8L133.4 484L126.8 480.2L119.7 488.9Z" fill="#7ffcff"/>
<path d="M140.1 487.8L147.2 479.4L140.4 475.6L133.4 484Z" fill="#7effe3"/>
<path d="M154 483.2L161 475.1L154.1 471.3L147.2 479.4Z" fill="#7cffc6"/>
<path d="M167.9 478.9L174.8 471.1L167.9 467.3L161 475.1Z" fill="#7affaa"/>
<path d="M181.8 474.9L188.7 467.5L181.7 463.7L174.8 471.1Z" fill="#77ff8f"/>
<path d="M195.8 471.3L202.6 464.1L195.5 460.4L188.7 467.5Z" fill="#75ff75"/>
<path d="M209.8 468L216.6 461.2L209.4 457.4L202.6 464.1Z" fill="#87ff72"/>
<path d="M223.9 465L230.6 458.5L223.3 454.8L216.6 461.2Z" fill="#98ff6e"/>
<path d="M237.9 462.4L244.6 456.3L237.2 452.5L230.6 458.5Z" fill="#a7ff6b"/>
<path d="M119.2 502L126.3 492.8L119.7 488.9L112.6 498Z" fill="#81d2ff"/>
<path d="M133 496.7L140.1 487.8L133.4 484L126.3 492.8Z" fill="#7ff2ff"/>
<path d="M146.9 491.8L154 483.2L147.2 479.4L140.1 487.8Z" fill="#7effee"/>
<path d="M160.8 487.1L167.9 478.9L161 475.1L154 483.2Z" fill="#7cffd0"/>
<path d="M174.8 482.8L181.8 474.9L174.8 471.1L167.9 478.9Z" fill="#7affb5"/>
<path d="M188.9 478.8L195.8 471.3L188.7 467.5L181.8 474.9Z" fill="#78ff9a"/>
<path d="M202.9 475.2L209.8 468L202.6 464.1L195.8 471.3Z" fill="#75ff81"/>
<path d="M217.1 471.9L223.9 465L216.6 461.2L209.8 468Z" fill="#7cff72"/>
<path d="M231.2 468.9L237.9 462.4L230.6 458.5L223.9 465Z" fill="#8dff6f"/>
<path d="M125.9 506L133 496.7L126.3 492.8L119.2 502Z" fill="#81c8ff"/>
<path d="M139.8 500.7L146.9 491.8L140.1 487.8L133 496.7Z" fill="#80e8ff"/>
<path d="M153.8 495.8L160.8 487.1L154 483.2L146.9 491.8Z" fill="#7efff8"/>
<path d="M167.8 491.1L174.8 482.8L167.9 478.9L160.8 487.1Z" fill="#7cffdb"/>
<path d="M181.9 486.8L188.9 478.8L181.8 474.9L174.8 482.8Z" fill="#7affc0"/>
<path d="M196 482.8L202.9 475.2L195.8 471.3L188.9 478.8Z" fill="#78ffa6"/>
<path d="M210.2 479.2L217.1 471.9L209.8 468L202.9 475.2Z" fill="#75ff8c"/>
<path d="M224.4 475.9L231.2 468.9L223.9 465L217.1 471.9Z" fill="#73ff75"/>
<path d="M132.7 510.2L139.8 500.7L133 496.7L125.9 506Z" fill="#81beff"/>
<path d="M146.7 504.9L153.8 495.8L146.9 491.8L139.8 500.7Z" fill="#80ddff"/>
<path d="M160.7 499.9L167.8 491.1L160.8 487.1L153.8 495.8Z" fill="#7efbff"/>
<path d="M174.9 495.2L181.9 486.8L174.8 482.8L167.8 491.1Z" fill="#7dffe6"/>
<path d="M189 490.9L196 482.8L188.9 478.8L181.9 486.8Z" fill="#7bffcb"/>
<path d="M203.3 486.9L210.2 479.2L202.9 475.2L196 482.8Z" fill="#78ffb1"/>
<path d="M217.5 483.3L224.4 475.9L217.1 471.9L210.2 479.2Z" fill="#76ff99"/>
<path d="M139.5 514.4L146.7 504.9L139.8 500.7L132.7 510.2Z" fill="#81b3ff"/>
<path d="M153.6 509.1L160.7 499.9L153.8 495.8L146.7 504.9Z" fill="#80d2ff"/>
<path d="M167.8 504.1L174.9 495.2L167.8 491.1L160.7 499.9Z" fill="#7ff0ff"/>
<path d="M182 499.4L189 490.9L181.9 486.8L174.9 495.2Z" fill="#7dfff2"/>
<path d="M196.3 495.1L203.3 486.9L196 482.8L189 490.9Z" fill="#7bffd7"/>
<path d="M210.6 491.1L217.5 483.3L210.2 479.2L203.3 486.9Z" fill="#79ffbd"/>
<path d="M146.4 518.7L153.6 509.1L146.7 504.9L139.5 514.4Z" fill="#81a8ff"/>
<path d="M160.6 513.4L167.8 504.1L160.7 499.9L153.6 509.1Z" fill="#80c8ff"/>
<path d="M174.9 508.4L182 499.4L174.9 495.2L167.8 504.1Z" fill="#7fe5ff"/>
<path d="M189.2 503.7L196.3 495.1L189 490.9L182 499.4Z" fill="#7dfffd"/>
<path d="M203.6 499.4L210.6 491.1L203.3 486.9L196.3 495.1Z" fill="#7bffe2"/>
<path d="M153.4 523.1L160.6 513.4L153.6 509.1L146.4 518.7Z" fill="#829dff"/>
<path d="M167.7 517.8L174.9 508.4L167.8 504.1L160.6 513.4Z" fill="#81bcff"/>
<path d="M182.1 512.8L189.2 503.7L182 499.4L174.9 508.4Z" fill="#7fdaff"/>
<path d="M196.5 508.1L203.6 499.4L196.3 495.1L189.2 503.7Z" fill="#7ef5ff"/>
<path d="M160.5 527.6L167.7 517.8L160.6 513.4L153.4 523.1Z" fill="#8292ff"/>
<path d="M174.9 522.3L182.1 512.8L174.9 508.4L167.7 517.8Z" fill="#81b1ff"/>
<path d="M189.4 517.3L196.5 508.1L189.2 503.7L182.1 512.8Z" fill="#7fceff"/>
<path d="M167.7 532.2L174.9 522.3L167.7 517.8L160.5 527.6Z" fill="#8287ff"/>
<path d="M182.2 526.9L189.4 517.3L182.1 512.8L174.9 522.3Z" fill="#81a5ff"/>
<path d="M175 536.9L182.2 526.9L174.9 522.3L167.7 532.2Z" fill="#8682ff"/>
</g>
<path d="M34.7 378.9L44 542.8L175.1 599.8L306.5 542.8L314.5 379" stroke="#333" stroke-width=".8" fill="none"/>
<circle cx="41.8" cy="503.2" r="1.3" fill="#111"/>
<text x="39.2" y="502" font-size="5" font-family="Liberation Sans, sans-serif" text-anchor="end" fill="#333">50</text>
<circle cx="40.6" cy="482.5" r="1.3" fill="#111"/>
<text x="38" y="481.3" font-size="5" font-family="Liberation Sans, sans-serif" text-anchor="end" fill="#333">60</text>
<circle cx="39.4" cy="461.8" r="1.3" fill="#111"/>
<text x="36.8" y="460.6" font-size="5" font-family="Liberation Sans, sans-serif" text-anchor="end" fill="#333">70</text>
<circle cx="38.2" cy="441.1" r="1.3" fill="#111"/>
<text x="35.6" y="439.9" font-size="5" font-family="Liberation Sans, sans-serif" text-anchor="end" fill="#333">80</text>
<circle cx="37.1" cy="420.3" r="1.3" fill="#111"/>
<text x="34.5" y="419.1" font-size="5" font-family="Liberation Sans, sans-serif" text-anchor="end" fill="#333">90</text>
<circle cx="35.9" cy="399.6" r="1.3" fill="#111"/>
<text x="33.3" y="398.4" font-size="5" font-family="Liberation Sans, sans-serif" text-anchor="end" fill="#333">100</text>
<circle cx="34.7" cy="378.9" r="1.3" fill="#111"/>
<text x="32.1" y="377.7" font-size="5" font-family="Liberation Sans, sans-serif" text-anchor="end" fill="#333">110</text>
<circle cx="175.1" cy="599.8" r="1.2" fill="#111"/>
<text x="172.9" y="605.4" font-size="5" font-family="Liberation Sans, sans-serif" text-anchor="end" fill="#333">30</text>
<circle cx="142.3" cy="585.5" r="1.2" fill="#111"/>
<text x="140.1" y="591.1" font-size="5" font-family="Liberation Sans, sans-serif" text-anchor="end" fill="#333">60</text>
<circle cx="109.5" cy="571.3" r="1.2" fill="#111"/>
<text x="107.3" y="576.9" font-size="5" font-family="Liberation Sans, sans-serif" text-anchor="end" fill="#333">90</text>
<circle cx="76.8" cy="557" r="1.2" fill="#111"/>
<text x="74.6" y="562.6" font-size="5" font-family="Liberation Sans, sans-serif" text-anchor="end" fill="#333">120</text>
<circle cx="44" cy="542.8" r="1.2" fill="#111"/>
<text x="41.8" y="548.4" font-size="5" font-family="Liberation Sans, sans-serif" text-anchor="end" fill="#333">150</text>
<circle cx="175.1" cy="599.8" r="1.2" fill="#111"/>
<text x="177.9" y="605" font-size="5" font-family="Liberation Sans, sans-serif" fill="#333">50</text>
<circle cx="201.4" cy="588.4" r="1.2" fill="#111"/>
<text x="204.2" y="593.6" font-size="5" font-family="Liberation Sans, sans-serif" fill="#333">70</text>
<circle cx="227.7" cy="577" r="1.2" fill="#111"/>
<text x="230.5" y="582.2" font-size="5" font-family="Liberation Sans, sans-serif" fill="#333">90</text>
<circle cx="253.9" cy="565.6" r="1.2" fill="#111"/>
<text x="256.7" y="570.8" font-size="5" font-family="Liberation Sans, sans-serif" fill="#333">110</text>
<circle cx="280.2" cy="554.2" r="1.2" fill="#111"/>
<text x="283" y="559.4" font-size="5" font-family="Liberation Sans, sans-serif" fill="#333">130</text>
<circle cx="306.5" cy="542.8" r="1.2" fill="#111"/>
<text x="309.3" y="548" font-size="5" font-family="Liberation Sans, sans-serif" fill="#333">150</text>
<path d="M37.7 457.6L39.1 457" stroke="#222" stroke-width=".7"/>
<circle cx="37.7" cy="457.6" r="2.7" fill="#ffc8c8" stroke="#a05050" stroke-width=".6"/>
<path d="M175.1 530.2L175 536.9" stroke="#222" stroke-width=".7"/>
<circle cx="175.1" cy="530.2" r="2.6" fill="#b30000" stroke="#6a0000" stroke-width=".5"/>
<path d="M174.8 418.1L174.7 418.6" stroke="#222" stroke-width=".7"/>
<circle cx="174.8" cy="418.1" r="2.6" fill="#b30000" stroke="#6a0000" stroke-width=".5"/>
<path d="M312.8 415.4L312.7 415.9" stroke="#222" stroke-width=".7"/>
<circle cx="312.8" cy="415.4" r="2.6" fill="#b30000" stroke="#6a0000" stroke-width=".5"/>
<text transform="translate(14,467.3) rotate(-90)" font-size="16.8" font-family="Liberation Serif, serif" font-weight="bold" text-anchor="middle">Removal (%)</text>
<text x="271.2" y="599" font-size="16.8" font-family="Liberation Serif, serif" font-weight="bold" text-anchor="middle">A: dose (mg/L)</text>
<text x="74.5" y="593.5" font-size="16.8" font-family="Liberation Serif, serif" font-weight="bold" text-anchor="middle">C: Time (min)</text>
<rect x="19" y="453.6" width="7.3" height="18.2" fill="url(#lg1)"/>
<text transform="translate(24.4,451.1) rotate(-90)" font-size="5" font-family="Liberation Sans, sans-serif" fill="#c03a52">98.1641</text>
<text transform="translate(24.4,474.3) rotate(-90)" font-size="5" font-family="Liberation Sans, sans-serif" fill="#3838a8" text-anchor="end">61.6927</text>
<text x="166.5" y="636.5" font-size="17" font-family="Liberation Serif, serif" font-weight="bold" text-anchor="middle">C</text>
<path d="M50.4 880.2L42 693.3M73.7 826.5L68.5 686.8M99.1 817.2L95 680.4M124.4 807.9L121.6 673.9M149.7 798.7L148.1 667.5M175.2 829.4L174.6 661M301 879.5L308.2 693.3M270.8 823.8L274.8 685.2M238.9 812.3L241.4 677.1M207 800.9L208 669.1M175.2 829.4L174.6 661M48.4 835.8L175.1 789.4L302.7 835.3M47.3 812L175 768L303.6 811.6M46.3 788.3L174.9 746.6L304.5 787.9M45.2 764.5L174.8 725.2L305.5 764.3M44.1 740.8L174.8 703.8L306.4 740.6M43.1 717L174.7 682.4L307.3 717M42 693.3L174.6 661L308.2 693.3" stroke="#555" stroke-width=".7" fill="none"/>
<path d="M50.4 880.2L175.2 946L301 879.5L175.2 829.4Z" fill="#5a5a5a"/>
<path d="M281.9 889.9L281.7 888.9L281.4 887L281.2 885.8L280.8 884L280.5 882.9L279.9 881L279.6 880L279 878.3L278.4 876.9L277.9 875.6L277.1 873.9L276.6 872.7L275.9 871.4L275.1 869.8L274.9 869.5" fill="none" stroke="#4cc83c" stroke-width="1.3"/>
<path d="M246.9 908.3L248.3 906.8L249.5 905.3L250.6 903.9L251.6 902.3L252.6 900.7L253.4 899.1L254.1 897.6L254.8 896L255.4 894.3L255.8 892.6L256.2 891L256.4 889.8L256.6 888.3L256.7 886.5L256.8 885.3L256.8 883.8L256.7 882.1L256.6 881L256.3 879.1L256.2 878.1L255.8 876.3L255.6 875.3L255.1 873.5L254.7 872.3L254.2 870.9L253.6 869.3L253.2 868.2L252.6 866.7L251.8 865.1L251.3 864.1L250.6 862.8L249.8 861.2L249 859.8L248.3 858.7" fill="none" stroke="#6ed23a" stroke-width="1.3"/>
<path d="M152.4 933.6L156.4 933.6L159.4 933.6L163.8 933.5L166.3 933.4L170.3 933.2L174.2 933L176.9 932.7L180.6 932.4L184.5 932L188.2 931.6L191.9 931L195.3 930.5L198.8 929.9L202.2 929.2L205.4 928.5L208.6 927.7L211.2 927.1" fill="none" stroke="#6ed23a" stroke-width="1.3"/>
<path d="M120.9 917.2L123.4 917.3L127.2 917.5L130.7 917.6L133.7 917.6L137.7 917.6L140.5 917.6L144.4 917.5L147.7 917.4L150.7 917.3L154.8 917.1L158.1 916.8L160.8 916.6L164.4 916.2L168.1 915.7L171.6 915.2L175 914.7L178.3 914.1L181.5 913.4L184.6 912.7L189 911.6L191.8 910.8L194.8 909.8L198.3 908.5L201.9 907.1L205.3 905.5L208.4 903.9L211.4 902.1L214 900.3L215.7 899.1L218 897.1L219.4 895.8L220.8 894.4L222 893L223.3 891.3L224.4 889.7L225.3 888.2L226 886.8L226.6 885.4L227.2 883.9L227.8 882.3L228.2 880.6L228.4 879.4L228.6 878.1L228.8 876.3L228.9 875.2L228.9 873.7L228.8 872.2L228.7 870.9L228.5 869.4L228.3 868.2L228 866.7L227.7 865.3L227.4 864.2L226.8 862.5L226.4 861.4L225.9 860.1L225.3 858.6L224.7 857.3L224.2 856.2L223.5 854.9L222.7 853.4L221.8 852L221.2 850.9L220.5 849.8L219.6 848.6L218.7 847.2L218.2 846.5" fill="none" stroke="#c8d832" stroke-width="1.3"/>
<path d="M83.1 897.5L86 897.8L89.3 898.2L92.9 898.5L96.6 898.8L99.3 899L102.3 899.2L106.2 899.4L109.1 899.5L112.2 899.6L116 899.7L118.6 899.7L122.5 899.7L125.4 899.6L128.7 899.5L132.7 899.3L135.3 899.1L138.4 898.8L142 898.5L145.5 898L148.9 897.5L152.1 897L155.3 896.4L158.3 895.7L162 894.8L165.2 893.9L168.3 892.9L171.5 891.7L174.9 890.3L178.1 888.7L181 887.1L182.8 886L185.3 884.2L186.8 882.9L188.6 881.4L190.2 879.7L191.4 878.3L192.4 876.9L193.3 875.5L194.2 874L194.8 872.6L195.3 871.5L195.8 870.1L196.2 868.5L196.5 867.2L196.7 866L196.9 864.3L196.9 863.3L196.9 861.7L196.8 860.6L196.6 859L196.5 858L196.2 856.4L195.9 855.3L195.5 854L195 852.5L194.6 851.4L194.2 850.3L193.5 848.8L192.8 847.4L192.2 846.3L191.7 845.2L191 844L190.2 842.7L189.3 841.4L188.4 840.2L187.5 838.9L186.6 837.7L185.7 836.5L184.7 835.3L183.7 834.1L182.7 833L181.7 831.8L181.4 831.5" fill="none" stroke="#f0c030" stroke-width="1.3"/>
<path d="M54.6 878.5L57.6 879L60.6 879.5L63.6 879.9L66.7 880.4L69.9 880.8L73.1 881.2L75.8 881.5L78.4 881.7L81.7 882L85.3 882.3L88.4 882.5L90.8 882.6L94.7 882.8L97.5 882.8L100.8 882.9L103.9 882.8L107.4 882.8L109.9 882.7L113.7 882.5L117.2 882.2L120 881.9L122.9 881.5L126 881.1L129.5 880.5L133.3 879.7L136.1 879L138.8 878.3L142.6 877.1L146 875.8L149.2 874.4L152.1 872.8L154.8 871.2L156.4 870L157.8 868.8L159.5 867.3L160.9 865.8L162 864.4L162.9 863.1L163.6 861.9L164.2 860.7L164.8 859.2L165.3 857.7L165.5 856.7L165.8 855.2L165.9 854L166 852.7L166 851.4L165.9 850.1L165.7 849L165.5 847.5L165.2 846.4L164.9 845.2L164.4 843.8L164 842.6L163.5 841.6L163 840.4L162.3 839.1L161.6 837.8L160.9 836.5L160.1 835.3" fill="none" stroke="#ee8f2c" stroke-width="1.3"/>
<g stroke="#2a2a22" stroke-width=".45" stroke-linejoin="round">
<path d="M174.9 704.4L179.6 704.6L174.9 702.6L170.3 702.3Z" fill="#e9a900"/>
<path d="M170.2 704.2L174.9 704.4L170.3 702.3L165.6 702.2Z" fill="#ed9a00"/>
<path d="M179.7 706.5L184.3 706.7L179.6 704.6L174.9 704.4Z" fill="#e9b200"/>
<path d="M165.5 704.2L170.2 704.2L165.6 702.2L160.8 702.2Z" fill="#f28c00"/>
<path d="M174.9 706.3L179.7 706.5L174.9 704.4L170.2 704.2Z" fill="#eda300"/>
<path d="M184.4 708.6L189.1 708.8L184.3 706.7L179.7 706.5Z" fill="#e9bb00"/>
<path d="M160.7 704.3L165.5 704.2L160.8 702.2L156 702.3Z" fill="#f67f00"/>
<path d="M170.2 706.3L174.9 706.3L170.2 704.2L165.5 704.2Z" fill="#f29500"/>
<path d="M179.7 708.5L184.4 708.6L179.7 706.5L174.9 706.3Z" fill="#eeac00"/>
<path d="M189.2 710.8L193.9 711L189.1 708.8L184.4 708.6Z" fill="#e9c400"/>
<path d="M155.8 704.5L160.7 704.3L156 702.3L151.1 702.5Z" fill="#fa7200"/>
<path d="M165.4 706.4L170.2 706.3L165.5 704.2L160.7 704.3Z" fill="#f68800"/>
<path d="M174.9 708.4L179.7 708.5L174.9 706.3L170.2 706.3Z" fill="#f29e00"/>
<path d="M184.5 710.6L189.2 710.8L184.4 708.6L179.7 708.5Z" fill="#eeb500"/>
<path d="M194 713L198.7 713.2L193.9 711L189.2 710.8Z" fill="#e9ce00"/>
<path d="M150.9 704.9L155.8 704.5L151.1 702.5L146.2 702.8Z" fill="#fe6700"/>
<path d="M160.5 706.6L165.4 706.4L160.7 704.3L155.8 704.5Z" fill="#fa7b00"/>
<path d="M170.1 708.6L174.9 708.4L170.2 706.3L165.4 706.4Z" fill="#f69100"/>
<path d="M179.8 710.6L184.5 710.6L179.7 708.5L174.9 708.4Z" fill="#f2a700"/>
<path d="M189.3 712.9L194 713L189.2 710.8L184.5 710.6Z" fill="#eebf00"/>
<path d="M198.9 715.3L203.6 715.5L198.7 713.2L194 713Z" fill="#e9d800"/>
<path d="M145.9 705.4L150.9 704.9L146.2 702.8L141.3 703.3Z" fill="#ff5d03"/>
<path d="M155.6 707L160.5 706.6L155.8 704.5L150.9 704.9Z" fill="#fe7000"/>
<path d="M165.3 708.8L170.1 708.6L165.4 706.4L160.5 706.6Z" fill="#fa8400"/>
<path d="M175 710.8L179.8 710.6L174.9 708.4L170.1 708.6Z" fill="#f69a00"/>
<path d="M184.6 712.9L189.3 712.9L184.5 710.6L179.8 710.6Z" fill="#f2b100"/>
<path d="M194.2 715.2L198.9 715.3L194 713L189.3 712.9Z" fill="#eec900"/>
<path d="M203.9 717.6L208.5 717.9L203.6 715.5L198.9 715.3Z" fill="#e9e200"/>
<path d="M140.9 706L145.9 705.4L141.3 703.3L136.3 703.9Z" fill="#ff5606"/>
<path d="M150.7 707.5L155.6 707L150.9 704.9L145.9 705.4Z" fill="#ff6603"/>
<path d="M160.4 709.2L165.3 708.8L160.5 706.6L155.6 707Z" fill="#fe7900"/>
<path d="M170.1 711L175 710.8L170.1 708.6L165.3 708.8Z" fill="#fa8e00"/>
<path d="M179.8 713L184.6 712.9L179.8 710.6L175 710.8Z" fill="#f6a400"/>
<path d="M189.5 715.2L194.2 715.2L189.3 712.9L184.6 712.9Z" fill="#f2bb00"/>
<path d="M199.2 717.5L203.9 717.6L198.9 715.3L194.2 715.2Z" fill="#edd400"/>
<path d="M208.8 720L213.5 720.2L208.5 717.9L203.9 717.6Z" fill="#e6e900"/>
<path d="M135.9 706.7L140.9 706L136.3 703.9L131.2 704.6Z" fill="#ff500a"/>
<path d="M145.7 708.1L150.7 707.5L145.9 705.4L140.9 706Z" fill="#ff5e06"/>
<path d="M155.4 709.7L160.4 709.2L155.6 707L150.7 707.5Z" fill="#ff6f03"/>
<path d="M165.2 711.4L170.1 711L165.3 708.8L160.4 709.2Z" fill="#fe8300"/>
<path d="M175 713.3L179.8 713L175 710.8L170.1 711Z" fill="#fa9800"/>
<path d="M184.7 715.3L189.5 715.2L184.6 712.9L179.8 713Z" fill="#f6ae00"/>
<path d="M194.4 717.5L199.2 717.5L194.2 715.2L189.5 715.2Z" fill="#f2c600"/>
<path d="M204.1 719.9L208.8 720L203.9 717.6L199.2 717.5Z" fill="#edde00"/>
<path d="M213.8 722.4L218.5 722.7L213.5 720.2L208.8 720Z" fill="#dbe900"/>
<path d="M130.8 707.6L135.9 706.7L131.2 704.6L126.1 705.5Z" fill="#ff4c0e"/>
<path d="M140.6 708.8L145.7 708.1L140.9 706L135.9 706.7Z" fill="#ff580a"/>
<path d="M150.4 710.3L155.4 709.7L150.7 707.5L145.7 708.1Z" fill="#ff6706"/>
<path d="M160.3 711.9L165.2 711.4L160.4 709.2L155.4 709.7Z" fill="#ff7903"/>
<path d="M170.1 713.6L175 713.3L170.1 711L165.2 711.4Z" fill="#fe8d00"/>
<path d="M179.9 715.6L184.7 715.3L179.8 713L175 713.3Z" fill="#faa200"/>
<path d="M189.6 717.7L194.4 717.5L189.5 715.2L184.7 715.3Z" fill="#f6b900"/>
<path d="M199.4 719.9L204.1 719.9L199.2 717.5L194.4 717.5Z" fill="#f2d100"/>
<path d="M209.2 722.4L213.8 722.4L208.8 720L204.1 719.9Z" fill="#ede900"/>
<path d="M218.9 724.9L223.5 725.2L218.5 722.7L213.8 722.4Z" fill="#d0e900"/>
<path d="M125.6 708.6L130.8 707.6L126.1 705.5L121 706.5Z" fill="#ff4912"/>
<path d="M135.5 709.7L140.6 708.8L135.9 706.7L130.8 707.6Z" fill="#ff540e"/>
<path d="M145.4 711L150.4 710.3L145.7 708.1L140.6 708.8Z" fill="#ff610a"/>
<path d="M155.3 712.5L160.3 711.9L155.4 709.7L150.4 710.3Z" fill="#ff7106"/>
<path d="M165.1 714.1L170.1 713.6L165.2 711.4L160.3 711.9Z" fill="#ff8303"/>
<path d="M175 716L179.9 715.6L175 713.3L170.1 713.6Z" fill="#fe9700"/>
<path d="M184.8 717.9L189.6 717.7L184.7 715.3L179.9 715.6Z" fill="#faad00"/>
<path d="M194.6 720.1L199.4 719.9L194.4 717.5L189.6 717.7Z" fill="#f6c400"/>
<path d="M204.4 722.4L209.2 722.4L204.1 719.9L199.4 719.9Z" fill="#f2dc00"/>
<path d="M214.2 724.8L218.9 724.9L213.8 722.4L209.2 722.4Z" fill="#e6ed00"/>
<path d="M224 727.5L228.6 727.7L223.5 725.2L218.9 724.9Z" fill="#c4e900"/>
<path d="M120.4 709.7L125.6 708.6L121 706.5L115.8 707.6Z" fill="#ff4816"/>
<path d="M130.4 710.7L135.5 709.7L130.8 707.6L125.6 708.6Z" fill="#ff5112"/>
<path d="M140.3 711.9L145.4 711L140.6 708.8L135.5 709.7Z" fill="#ff5d0e"/>
<path d="M150.2 713.3L155.3 712.5L150.4 710.3L145.4 711Z" fill="#ff6a0a"/>
<path d="M160.1 714.8L165.1 714.1L160.3 711.9L155.3 712.5Z" fill="#ff7a06"/>
<path d="M170 716.5L175 716L170.1 713.6L165.1 714.1Z" fill="#ff8d03"/>
<path d="M179.9 718.3L184.8 717.9L179.9 715.6L175 716Z" fill="#fea200"/>
<path d="M189.8 720.3L194.6 720.1L189.6 717.7L184.8 717.9Z" fill="#fab800"/>
<path d="M199.7 722.5L204.4 722.4L199.4 719.9L194.6 720.1Z" fill="#f6cf00"/>
<path d="M209.5 724.9L214.2 724.8L209.2 722.4L204.4 722.4Z" fill="#f2e800"/>
<path d="M219.4 727.4L224 727.5L218.9 724.9L214.2 724.8Z" fill="#daed00"/>
<path d="M229.2 730.1L233.8 730.3L228.6 727.7L224 727.5Z" fill="#b8e900"/>
<path d="M115.2 711L120.4 709.7L115.8 707.6L110.5 708.9Z" fill="#ff4819"/>
<path d="M125.2 711.9L130.4 710.7L125.6 708.6L120.4 709.7Z" fill="#ff5016"/>
<path d="M135.1 712.9L140.3 711.9L135.5 709.7L130.4 710.7Z" fill="#ff5a12"/>
<path d="M145.1 714.2L150.2 713.3L145.4 711L140.3 711.9Z" fill="#ff650e"/>
<path d="M155.1 715.6L160.1 714.8L155.3 712.5L150.2 713.3Z" fill="#ff740a"/>
<path d="M165 717.1L170 716.5L165.1 714.1L160.1 714.8Z" fill="#ff8406"/>
<path d="M175 718.8L179.9 718.3L175 716L170 716.5Z" fill="#ff9803"/>
<path d="M184.9 720.7L189.8 720.3L184.8 717.9L179.9 718.3Z" fill="#fead00"/>
<path d="M194.8 722.8L199.7 722.5L194.6 720.1L189.8 720.3Z" fill="#fac400"/>
<path d="M204.7 725L209.5 724.9L204.4 722.4L199.7 722.5Z" fill="#f6db00"/>
<path d="M214.6 727.4L219.4 727.4L214.2 724.8L209.5 724.9Z" fill="#f0f200"/>
<path d="M224.5 730L229.2 730.1L224 727.5L219.4 727.4Z" fill="#ceed00"/>
<path d="M234.4 732.7L239 732.9L233.8 730.3L229.2 730.1Z" fill="#ace900"/>
<path d="M109.9 712.4L115.2 711L110.5 708.9L105.2 710.3Z" fill="#ff4a1d"/>
<path d="M119.9 713.2L125.2 711.9L120.4 709.7L115.2 711Z" fill="#ff5019"/>
<path d="M129.9 714.1L135.1 712.9L130.4 710.7L125.2 711.9Z" fill="#ff5816"/>
<path d="M140 715.2L145.1 714.2L140.3 711.9L135.1 712.9Z" fill="#ff6212"/>
<path d="M150 716.5L155.1 715.6L150.2 713.3L145.1 714.2Z" fill="#ff6f0e"/>
<path d="M160 717.9L165 717.1L160.1 714.8L155.1 715.6Z" fill="#ff7e0a"/>
<path d="M170 719.5L175 718.8L170 716.5L165 717.1Z" fill="#ff8f07"/>
<path d="M180 721.3L184.9 720.7L179.9 718.3L175 718.8Z" fill="#ffa303"/>
<path d="M189.9 723.2L194.8 722.8L189.8 720.3L184.9 720.7Z" fill="#feb900"/>
<path d="M199.9 725.3L204.7 725L199.7 722.5L194.8 722.8Z" fill="#facf00"/>
<path d="M209.9 727.6L214.6 727.4L209.5 724.9L204.7 725Z" fill="#f6e700"/>
<path d="M219.8 730.1L224.5 730L219.4 727.4L214.6 727.4Z" fill="#e3f200"/>
<path d="M229.7 732.7L234.4 732.7L229.2 730.1L224.5 730Z" fill="#c1ed00"/>
<path d="M239.6 735.5L244.2 735.6L239 732.9L234.4 732.7Z" fill="#9fe900"/>
<path d="M104.6 714L109.9 712.4L105.2 710.3L99.9 711.9Z" fill="#ff4d20"/>
<path d="M114.6 714.6L119.9 713.2L115.2 711L109.9 712.4Z" fill="#ff521d"/>
<path d="M124.7 715.4L129.9 714.1L125.2 711.9L119.9 713.2Z" fill="#ff5819"/>
<path d="M134.8 716.4L140 715.2L135.1 712.9L129.9 714.1Z" fill="#ff6116"/>
<path d="M144.8 717.5L150 716.5L145.1 714.2L140 715.2Z" fill="#ff6b12"/>
<path d="M154.9 718.8L160 717.9L155.1 715.6L150 716.5Z" fill="#ff780e"/>
<path d="M164.9 720.3L170 719.5L165 717.1L160 717.9Z" fill="#ff880a"/>
<path d="M175 721.9L180 721.3L175 718.8L170 719.5Z" fill="#ff9a07"/>
<path d="M185 723.8L189.9 723.2L184.9 720.7L180 721.3Z" fill="#ffae03"/>
<path d="M195 725.8L199.9 725.3L194.8 722.8L189.9 723.2Z" fill="#fec500"/>
<path d="M205 727.9L209.9 727.6L204.7 725L199.9 725.3Z" fill="#fadc00"/>
<path d="M215 730.2L219.8 730.1L214.6 727.4L209.9 727.6Z" fill="#f6f400"/>
<path d="M225 732.7L229.7 732.7L224.5 730L219.8 730.1Z" fill="#d7f100"/>
<path d="M235 735.4L239.6 735.5L234.4 732.7L229.7 732.7Z" fill="#b5ed00"/>
<path d="M244.9 738.2L249.5 738.4L244.2 735.6L239.6 735.5Z" fill="#92e900"/>
<path d="M99.2 715.7L104.6 714L99.9 711.9L94.5 713.5Z" fill="#ff5224"/>
<path d="M109.3 716.2L114.6 714.6L109.9 712.4L104.6 714Z" fill="#ff5520"/>
<path d="M119.4 716.8L124.7 715.4L119.9 713.2L114.6 714.6Z" fill="#ff591d"/>
<path d="M129.5 717.7L134.8 716.4L129.9 714.1L124.7 715.4Z" fill="#ff6019"/>
<path d="M139.6 718.7L144.8 717.5L140 715.2L134.8 716.4Z" fill="#ff6916"/>
<path d="M149.7 719.9L154.9 718.8L150 716.5L144.8 717.5Z" fill="#ff7512"/>
<path d="M159.8 721.2L164.9 720.3L160 717.9L154.9 718.8Z" fill="#ff820e"/>
<path d="M169.9 722.7L175 721.9L170 719.5L164.9 720.3Z" fill="#ff920a"/>
<path d="M180 724.4L185 723.8L180 721.3L175 721.9Z" fill="#ffa506"/>
<path d="M190.1 726.3L195 725.8L189.9 723.2L185 723.8Z" fill="#ffba03"/>
<path d="M200.2 728.3L205 727.9L199.9 725.3L195 725.8Z" fill="#fed100"/>
<path d="M210.2 730.5L215 730.2L209.9 727.6L205 727.9Z" fill="#fae800"/>
<path d="M220.3 732.9L225 732.7L219.8 730.1L215 730.2Z" fill="#ebf600"/>
<path d="M230.3 735.5L235 735.4L229.7 732.7L225 732.7Z" fill="#caf100"/>
<path d="M240.3 738.2L244.9 738.2L239.6 735.5L235 735.4Z" fill="#a7ed00"/>
<path d="M250.3 741.1L254.8 741.2L249.5 738.4L244.9 738.2Z" fill="#84e900"/>
<path d="M93.7 717.5L99.2 715.7L94.5 713.5L89.1 715.4Z" fill="#ff5727"/>
<path d="M103.9 717.9L109.3 716.2L104.6 714L99.2 715.7Z" fill="#ff5924"/>
<path d="M114 718.4L119.4 716.8L114.6 714.6L109.3 716.2Z" fill="#ff5c20"/>
<path d="M124.2 719.1L129.5 717.7L124.7 715.4L119.4 716.8Z" fill="#ff621d"/>
<path d="M134.4 720L139.6 718.7L134.8 716.4L129.5 717.7Z" fill="#ff6919"/>
<path d="M144.5 721.1L149.7 719.9L144.8 717.5L139.6 718.7Z" fill="#ff7316"/>
<path d="M154.7 722.3L159.8 721.2L154.9 718.8L149.7 719.9Z" fill="#ff7e12"/>
<path d="M164.8 723.7L169.9 722.7L164.9 720.3L159.8 721.2Z" fill="#ff8d0e"/>
<path d="M175 725.2L180 724.4L175 721.9L169.9 722.7Z" fill="#ff9d0a"/>
<path d="M185.1 727L190.1 726.3L185 723.8L180 724.4Z" fill="#ffb006"/>
<path d="M195.2 728.9L200.2 728.3L195 725.8L190.1 726.3Z" fill="#ffc603"/>
<path d="M205.4 731L210.2 730.5L205 727.9L200.2 728.3Z" fill="#fede00"/>
<path d="M215.5 733.2L220.3 732.9L215 730.2L210.2 730.5Z" fill="#faf500"/>
<path d="M225.5 735.7L230.3 735.5L225 732.7L220.3 732.9Z" fill="#def600"/>
<path d="M235.6 738.2L240.3 738.2L235 735.4L230.3 735.5Z" fill="#bcf100"/>
<path d="M245.6 741L250.3 741.1L244.9 738.2L240.3 738.2Z" fill="#9aed00"/>
<path d="M255.7 743.9L260.2 744.1L254.8 741.2L250.3 741.1Z" fill="#77e900"/>
<path d="M88.2 719.5L93.7 717.5L89.1 715.4L83.6 717.4Z" fill="#ff5e2a"/>
<path d="M98.4 719.8L103.9 717.9L99.2 715.7L93.7 717.5Z" fill="#ff5e27"/>
<path d="M108.6 720.2L114 718.4L109.3 716.2L103.9 717.9Z" fill="#ff6024"/>
<path d="M118.9 720.7L124.2 719.1L119.4 716.8L114 718.4Z" fill="#ff6420"/>
<path d="M129.1 721.5L134.4 720L129.5 717.7L124.2 719.1Z" fill="#ff6a1d"/>
<path d="M139.3 722.4L144.5 721.1L139.6 718.7L134.4 720Z" fill="#ff7219"/>
<path d="M149.5 723.5L154.7 722.3L149.7 719.9L144.5 721.1Z" fill="#ff7c16"/>
<path d="M159.7 724.8L164.8 723.7L159.8 721.2L154.7 722.3Z" fill="#ff8912"/>
<path d="M169.9 726.2L175 725.2L169.9 722.7L164.8 723.7Z" fill="#ff970e"/>
<path d="M180.1 727.8L185.1 727L180 724.4L175 725.2Z" fill="#ffa90a"/>
<path d="M190.3 729.6L195.2 728.9L190.1 726.3L185.1 727Z" fill="#ffbc06"/>
<path d="M200.4 731.6L205.4 731L200.2 728.3L195.2 728.9Z" fill="#ffd303"/>
<path d="M210.6 733.7L215.5 733.2L210.2 730.5L205.4 731Z" fill="#feeb00"/>
<path d="M220.7 736L225.5 735.7L220.3 732.9L215.5 733.2Z" fill="#f1fa00"/>
<path d="M230.9 738.5L235.6 738.2L230.3 735.5L225.5 735.7Z" fill="#d0f600"/>
<path d="M241 741.1L245.6 741L240.3 738.2L235.6 738.2Z" fill="#aef100"/>
<path d="M251 743.9L255.7 743.9L250.3 741.1L245.6 741Z" fill="#8ced00"/>
<path d="M261.1 746.9L265.7 747L260.2 744.1L255.7 743.9Z" fill="#68e900"/>
<path d="M82.7 721.7L88.2 719.5L83.6 717.4L78 719.5Z" fill="#ff652e"/>
<path d="M92.9 721.8L98.4 719.8L93.7 717.5L88.2 719.5Z" fill="#ff642b"/>
<path d="M103.2 722L108.6 720.2L103.9 717.9L98.4 719.8Z" fill="#ff6527"/>
<path d="M113.5 722.5L118.9 720.7L114 718.4L108.6 720.2Z" fill="#ff6824"/>
<path d="M123.7 723.1L129.1 721.5L124.2 719.1L118.9 720.7Z" fill="#ff6c20"/>
<path d="M134 723.9L139.3 722.4L134.4 720L129.1 721.5Z" fill="#ff731d"/>
<path d="M144.2 724.8L149.5 723.5L144.5 721.1L139.3 722.4Z" fill="#ff7b19"/>
<path d="M154.5 726L159.7 724.8L154.7 722.3L149.5 723.5Z" fill="#ff8616"/>
<path d="M164.8 727.3L169.9 726.2L164.8 723.7L159.7 724.8Z" fill="#ff9312"/>
<path d="M175 728.8L180.1 727.8L175 725.2L169.9 726.2Z" fill="#ffa20e"/>
<path d="M185.2 730.4L190.3 729.6L185.1 727L180.1 727.8Z" fill="#ffb40a"/>
<path d="M195.5 732.3L200.4 731.6L195.2 728.9L190.3 729.6Z" fill="#ffc906"/>
<path d="M205.7 734.3L210.6 733.7L205.4 731L200.4 731.6Z" fill="#ffe003"/>
<path d="M215.9 736.4L220.7 736L215.5 733.2L210.6 733.7Z" fill="#fef800"/>
<path d="M226.1 738.8L230.9 738.5L225.5 735.7L220.7 736Z" fill="#e3fa00"/>
<path d="M236.2 741.3L241 741.1L235.6 738.2L230.9 738.5Z" fill="#c2f500"/>
<path d="M246.4 744L251 743.9L245.6 741L241 741.1Z" fill="#a0f100"/>
<path d="M256.5 746.9L261.1 746.9L255.7 743.9L251 743.9Z" fill="#7ded00"/>
<path d="M266.6 749.9L271.1 750L265.7 747L261.1 746.9Z" fill="#5ae900"/>
<path d="M77.1 724L82.7 721.7L78 719.5L72.4 721.8Z" fill="#ff6e31"/>
<path d="M87.4 723.9L92.9 721.8L88.2 719.5L82.7 721.7Z" fill="#ff6c2e"/>
<path d="M97.7 724.1L103.2 722L98.4 719.8L92.9 721.8Z" fill="#ff6c2b"/>
<path d="M108 724.4L113.5 722.5L108.6 720.2L103.2 722Z" fill="#ff6d27"/>
<path d="M118.3 724.8L123.7 723.1L118.9 720.7L113.5 722.5Z" fill="#ff7024"/>
<path d="M128.6 725.5L134 723.9L129.1 721.5L123.7 723.1Z" fill="#ff7520"/>
<path d="M138.9 726.3L144.2 724.8L139.3 722.4L134 723.9Z" fill="#ff7c1d"/>
<path d="M149.2 727.3L154.5 726L149.5 723.5L144.2 724.8Z" fill="#ff8519"/>
<path d="M159.6 728.5L164.8 727.3L159.7 724.8L154.5 726Z" fill="#ff9016"/>
<path d="M169.9 729.9L175 728.8L169.9 726.2L164.8 727.3Z" fill="#ff9e12"/>
<path d="M180.1 731.4L185.2 730.4L180.1 727.8L175 728.8Z" fill="#ffae0e"/>
<path d="M190.4 733.1L195.5 732.3L190.3 729.6L185.2 730.4Z" fill="#ffc00a"/>
<path d="M200.7 735L205.7 734.3L200.4 731.6L195.5 732.3Z" fill="#ffd506"/>
<path d="M211 737L215.9 736.4L210.6 733.7L205.7 734.3Z" fill="#ffed03"/>
<path d="M221.2 739.3L226.1 738.8L220.7 736L215.9 736.4Z" fill="#f5fe00"/>
<path d="M231.4 741.7L236.2 741.3L230.9 738.5L226.1 738.8Z" fill="#d5fa00"/>
<path d="M241.6 744.2L246.4 744L241 741.1L236.2 741.3Z" fill="#b4f500"/>
<path d="M251.8 747L256.5 746.9L251 743.9L246.4 744Z" fill="#92f100"/>
<path d="M262 749.9L266.6 749.9L261.1 746.9L256.5 746.9Z" fill="#6fed00"/>
<path d="M272.1 752.9L276.7 753.1L271.1 750L266.6 749.9Z" fill="#4be900"/>
<path d="M71.4 726.5L77.1 724L72.4 721.8L66.8 724.2Z" fill="#ff7834"/>
<path d="M81.8 726.3L87.4 723.9L82.7 721.7L77.1 724Z" fill="#ff7531"/>
<path d="M92.1 726.2L97.7 724.1L92.9 721.8L87.4 723.9Z" fill="#ff732e"/>
<path d="M102.5 726.4L108 724.4L103.2 722L97.7 724.1Z" fill="#ff732b"/>
<path d="M112.9 726.7L118.3 724.8L113.5 722.5L108 724.4Z" fill="#ff7527"/>
<path d="M123.2 727.3L128.6 725.5L123.7 723.1L118.3 724.8Z" fill="#ff7824"/>
<path d="M133.6 728L138.9 726.3L134 723.9L128.6 725.5Z" fill="#ff7e20"/>
<path d="M143.9 728.8L149.2 727.3L144.2 724.8L138.9 726.3Z" fill="#ff851d"/>
<path d="M154.3 729.9L159.6 728.5L154.5 726L149.2 727.3Z" fill="#ff8f19"/>
<path d="M164.7 731.1L169.9 729.9L164.8 727.3L159.6 728.5Z" fill="#ff9b16"/>
<path d="M175 732.5L180.1 731.4L175 728.8L169.9 729.9Z" fill="#ffa912"/>
<path d="M185.3 734.1L190.4 733.1L185.2 730.4L180.1 731.4Z" fill="#ffba0e"/>
<path d="M195.7 735.8L200.7 735L195.5 732.3L190.4 733.1Z" fill="#ffcd0a"/>
<path d="M206 737.8L211 737L205.7 734.3L200.7 735Z" fill="#ffe206"/>
<path d="M216.3 739.9L221.2 739.3L215.9 736.4L211 737Z" fill="#fffb02"/>
<path d="M226.6 742.1L231.4 741.7L226.1 738.8L221.2 739.3Z" fill="#e7fe00"/>
<path d="M236.9 744.6L241.6 744.2L236.2 741.3L231.4 741.7Z" fill="#c7f900"/>
<path d="M247.1 747.2L251.8 747L246.4 744L241.6 744.2Z" fill="#a5f500"/>
<path d="M257.3 750L262 749.9L256.5 746.9L251.8 747Z" fill="#83f100"/>
<path d="M267.5 752.9L272.1 752.9L266.6 749.9L262 749.9Z" fill="#60ed00"/>
<path d="M277.7 756.1L282.3 756.2L276.7 753.1L272.1 752.9Z" fill="#3ce900"/>
<path d="M65.7 729.1L71.4 726.5L66.8 724.2L61.1 726.8Z" fill="#ff8237"/>
<path d="M76.1 728.7L81.8 726.3L77.1 724L71.4 726.5Z" fill="#ff7e34"/>
<path d="M86.5 728.6L92.1 726.2L87.4 723.9L81.8 726.3Z" fill="#ff7b31"/>
<path d="M96.9 728.6L102.5 726.4L97.7 724.1L92.1 726.2Z" fill="#ff7a2e"/>
<path d="M107.3 728.8L112.9 726.7L108 724.4L102.5 726.4Z" fill="#ff7b2b"/>
<path d="M117.8 729.2L123.2 727.3L118.3 724.8L112.9 726.7Z" fill="#ff7d27"/>
<path d="M128.2 729.7L133.6 728L128.6 725.5L123.2 727.3Z" fill="#ff8124"/>
<path d="M138.6 730.5L143.9 728.8L138.9 726.3L133.6 728Z" fill="#ff8720"/>
<path d="M149 731.4L154.3 729.9L149.2 727.3L143.9 728.8Z" fill="#ff8f1d"/>
<path d="M159.4 732.5L164.7 731.1L159.6 728.5L154.3 729.9Z" fill="#ff9919"/>
<path d="M169.8 733.8L175 732.5L169.9 729.9L164.7 731.1Z" fill="#ffa616"/>
<path d="M180.2 735.2L185.3 734.1L180.1 731.4L175 732.5Z" fill="#ffb412"/>
<path d="M190.6 736.8L195.7 735.8L190.4 733.1L185.3 734.1Z" fill="#ffc60e"/>
<path d="M201 738.6L206 737.8L200.7 735L195.7 735.8Z" fill="#ffd90a"/>
<path d="M211.3 740.6L216.3 739.9L211 737L206 737.8Z" fill="#fff006"/>
<path d="M221.7 742.7L226.6 742.1L221.2 739.3L216.3 739.9Z" fill="#f5ff02"/>
<path d="M232 745.1L236.9 744.6L231.4 741.7L226.6 742.1Z" fill="#d8fd00"/>
<path d="M242.3 747.6L247.1 747.2L241.6 744.2L236.9 744.6Z" fill="#b8f900"/>
<path d="M252.6 750.2L257.3 750L251.8 747L247.1 747.2Z" fill="#96f500"/>
<path d="M262.9 753.1L267.5 752.9L262 749.9L257.3 750Z" fill="#74f100"/>
<path d="M273.2 756.1L277.7 756.1L272.1 752.9L267.5 752.9Z" fill="#50ed00"/>
<path d="M283.4 759.3L287.9 759.4L282.3 756.2L277.7 756.1Z" fill="#2ce900"/>
<path d="M60 731.8L65.7 729.1L61.1 726.8L55.4 729.6Z" fill="#ff8e3a"/>
<path d="M70.4 731.4L76.1 728.7L71.4 726.5L65.7 729.1Z" fill="#ff8837"/>
<path d="M80.9 731.1L86.5 728.6L81.8 726.3L76.1 728.7Z" fill="#ff8534"/>
<path d="M91.3 730.9L96.9 728.6L92.1 726.2L86.5 728.6Z" fill="#ff8231"/>
<path d="M101.8 731L107.3 728.8L102.5 726.4L96.9 728.6Z" fill="#ff822e"/>
<path d="M112.2 731.3L117.8 729.2L112.9 726.7L107.3 728.8Z" fill="#ff832b"/>
<path d="M122.7 731.7L128.2 729.7L123.2 727.3L117.8 729.2Z" fill="#ff8527"/>
<path d="M133.2 732.3L138.6 730.5L133.6 728L128.2 729.7Z" fill="#ff8a24"/>
<path d="M143.6 733.1L149 731.4L143.9 728.8L138.6 730.5Z" fill="#ff9120"/>
<path d="M154.1 734L159.4 732.5L154.3 729.9L149 731.4Z" fill="#ff991d"/>
<path d="M164.6 735.2L169.8 733.8L164.7 731.1L159.4 732.5Z" fill="#ffa419"/>
<path d="M175 736.5L180.2 735.2L175 732.5L169.8 733.8Z" fill="#ffb116"/>
<path d="M185.5 738L190.6 736.8L185.3 734.1L180.2 735.2Z" fill="#ffc012"/>
<path d="M195.9 739.6L201 738.6L195.7 735.8L190.6 736.8Z" fill="#ffd20e"/>
<path d="M206.3 741.5L211.3 740.6L206 737.8L201 738.6Z" fill="#ffe60a"/>
<path d="M216.7 743.5L221.7 742.7L216.3 739.9L211.3 740.6Z" fill="#fffe06"/>
<path d="M227.1 745.7L232 745.1L226.6 742.1L221.7 742.7Z" fill="#e7ff02"/>
<path d="M237.5 748.1L242.3 747.6L236.9 744.6L232 745.1Z" fill="#c9fd00"/>
<path d="M247.9 750.6L252.6 750.2L247.1 747.2L242.3 747.6Z" fill="#a9f900"/>
<path d="M258.2 753.3L262.9 753.1L257.3 750L252.6 750.2Z" fill="#87f500"/>
<path d="M268.5 756.2L273.2 756.1L267.5 752.9L262.9 753.1Z" fill="#64f100"/>
<path d="M278.8 759.3L283.4 759.3L277.7 756.1L273.2 756.1Z" fill="#41ed00"/>
<path d="M289.1 762.5L293.6 762.6L287.9 759.4L283.4 759.3Z" fill="#1de900"/>
<path d="M54.2 734.8L60 731.8L55.4 729.6L49.6 732.5Z" fill="#ff9a3d"/>
<path d="M64.7 734.1L70.4 731.4L65.7 729.1L60 731.8Z" fill="#ff943a"/>
<path d="M75.2 733.7L80.9 731.1L76.1 728.7L70.4 731.4Z" fill="#ff8f37"/>
<path d="M85.7 733.5L91.3 730.9L86.5 728.6L80.9 731.1Z" fill="#ff8b34"/>
<path d="M96.2 733.4L101.8 731L96.9 728.6L91.3 730.9Z" fill="#ff8a31"/>
<path d="M106.7 733.5L112.2 731.3L107.3 728.8L101.8 731Z" fill="#ff892e"/>
<path d="M117.2 733.8L122.7 731.7L117.8 729.2L112.2 731.3Z" fill="#ff8b2b"/>
<path d="M127.7 734.2L133.2 732.3L128.2 729.7L122.7 731.7Z" fill="#ff8e27"/>
<path d="M138.2 734.9L143.6 733.1L138.6 730.5L133.2 732.3Z" fill="#ff9324"/>
<path d="M148.7 735.7L154.1 734L149 731.4L143.6 733.1Z" fill="#ff9a20"/>
<path d="M159.3 736.7L164.6 735.2L159.4 732.5L154.1 734Z" fill="#ffa41d"/>
<path d="M169.8 737.9L175 736.5L169.8 733.8L164.6 735.2Z" fill="#ffaf19"/>
<path d="M180.3 739.3L185.5 738L180.2 735.2L175 736.5Z" fill="#ffbd16"/>
<path d="M190.8 740.8L195.9 739.6L190.6 736.8L185.5 738Z" fill="#ffcd12"/>
<path d="M201.2 742.5L206.3 741.5L201 738.6L195.9 739.6Z" fill="#ffdf0e"/>
<path d="M211.7 744.4L216.7 743.5L211.3 740.6L206.3 741.5Z" fill="#fff40a"/>
<path d="M222.2 746.5L227.1 745.7L221.7 742.7L216.7 743.5Z" fill="#f2ff06"/>
<path d="M232.6 748.7L237.5 748.1L232 745.1L227.1 745.7Z" fill="#d8ff02"/>
<path d="M243 751.1L247.9 750.6L242.3 747.6L237.5 748.1Z" fill="#bafd00"/>
<path d="M253.4 753.7L258.2 753.3L252.6 750.2L247.9 750.6Z" fill="#99f900"/>
<path d="M263.8 756.5L268.5 756.2L262.9 753.1L258.2 753.3Z" fill="#77f500"/>
<path d="M274.2 759.4L278.8 759.3L273.2 756.1L268.5 756.2Z" fill="#54f100"/>
<path d="M284.5 762.5L289.1 762.5L283.4 759.3L278.8 759.3Z" fill="#31ed00"/>
<path d="M294.8 765.8L299.3 765.9L293.6 762.6L289.1 762.5Z" fill="#0ce900"/>
<path d="M48.4 737.8L54.2 734.8L49.6 732.5L43.7 735.5Z" fill="#ffa740"/>
<path d="M58.9 737.1L64.7 734.1L60 731.8L54.2 734.8Z" fill="#ffa03d"/>
<path d="M69.4 736.5L75.2 733.7L70.4 731.4L64.7 734.1Z" fill="#ff9a3a"/>
<path d="M80 736.1L85.7 733.5L80.9 731.1L75.2 733.7Z" fill="#ff9537"/>
<path d="M90.5 735.9L96.2 733.4L91.3 730.9L85.7 733.5Z" fill="#ff9334"/>
<path d="M101.1 735.9L106.7 733.5L101.8 731L96.2 733.4Z" fill="#ff9131"/>
<path d="M111.6 736L117.2 733.8L112.2 731.3L106.7 733.5Z" fill="#ff912e"/>
<path d="M122.2 736.3L127.7 734.2L122.7 731.7L117.2 733.8Z" fill="#ff932b"/>
<path d="M132.8 736.8L138.2 734.9L133.2 732.3L127.7 734.2Z" fill="#ff9727"/>
<path d="M143.3 737.5L148.7 735.7L143.6 733.1L138.2 734.9Z" fill="#ff9d24"/>
<path d="M153.9 738.4L159.3 736.7L154.1 734L148.7 735.7Z" fill="#ffa520"/>
<path d="M164.5 739.5L169.8 737.9L164.6 735.2L159.3 736.7Z" fill="#ffae1d"/>
<path d="M175 740.7L180.3 739.3L175 736.5L169.8 737.9Z" fill="#ffba19"/>
<path d="M185.6 742.1L190.8 740.8L185.5 738L180.3 739.3Z" fill="#ffc916"/>
<path d="M196.1 743.7L201.2 742.5L195.9 739.6L190.8 740.8Z" fill="#ffd912"/>
<path d="M206.6 745.4L211.7 744.4L206.3 741.5L201.2 742.5Z" fill="#ffec0e"/>
<path d="M217.2 747.4L222.2 746.5L216.7 743.5L211.7 744.4Z" fill="#fcff0a"/>
<path d="M227.7 749.5L232.6 748.7L227.1 745.7L222.2 746.5Z" fill="#e4ff06"/>
<path d="M238.2 751.8L243 751.1L237.5 748.1L232.6 748.7Z" fill="#c9ff02"/>
<path d="M248.6 754.3L253.4 753.7L247.9 750.6L243 751.1Z" fill="#aafd00"/>
<path d="M259.1 756.9L263.8 756.5L258.2 753.3L253.4 753.7Z" fill="#89f900"/>
<path d="M269.5 759.7L274.2 759.4L268.5 756.2L263.8 756.5Z" fill="#67f500"/>
<path d="M279.9 762.7L284.5 762.5L278.8 759.3L274.2 759.4Z" fill="#44f100"/>
<path d="M290.3 765.9L294.8 765.8L289.1 762.5L284.5 762.5Z" fill="#20ed00"/>
<path d="M300.6 769.2L305.1 769.3L299.3 765.9L294.8 765.8Z" fill="#00e904"/>
<path d="M53 740.2L58.9 737.1L54.2 734.8L48.4 737.8Z" fill="#ffad40"/>
<path d="M63.6 739.5L69.4 736.5L64.7 734.1L58.9 737.1Z" fill="#ffa63d"/>
<path d="M74.2 738.9L80 736.1L75.2 733.7L69.4 736.5Z" fill="#ffa03a"/>
<path d="M84.8 738.6L90.5 735.9L85.7 733.5L80 736.1Z" fill="#ff9c37"/>
<path d="M95.4 738.4L101.1 735.9L96.2 733.4L90.5 735.9Z" fill="#ff9a34"/>
<path d="M106 738.4L111.6 736L106.7 733.5L101.1 735.9Z" fill="#ff9931"/>
<path d="M116.6 738.6L122.2 736.3L117.2 733.8L111.6 736Z" fill="#ff9a2e"/>
<path d="M127.2 739L132.8 736.8L127.7 734.2L122.2 736.3Z" fill="#ff9c2b"/>
<path d="M137.9 739.5L143.3 737.5L138.2 734.9L132.8 736.8Z" fill="#ffa127"/>
<path d="M148.5 740.3L153.9 738.4L148.7 735.7L143.3 737.5Z" fill="#ffa724"/>
<path d="M159.1 741.2L164.5 739.5L159.3 736.7L153.9 738.4Z" fill="#ffaf20"/>
<path d="M169.7 742.3L175 740.7L169.8 737.9L164.5 739.5Z" fill="#ffba1d"/>
<path d="M180.3 743.5L185.6 742.1L180.3 739.3L175 740.7Z" fill="#ffc619"/>
<path d="M190.9 745L196.1 743.7L190.8 740.8L185.6 742.1Z" fill="#ffd516"/>
<path d="M201.5 746.6L206.6 745.4L201.2 742.5L196.1 743.7Z" fill="#ffe612"/>
<path d="M212.1 748.4L217.2 747.4L211.7 744.4L206.6 745.4Z" fill="#fffa0e"/>
<path d="M222.7 750.4L227.7 749.5L222.2 746.5L217.2 747.4Z" fill="#eeff0a"/>
<path d="M233.2 752.6L238.2 751.8L232.6 748.7L227.7 749.5Z" fill="#d5ff06"/>
<path d="M243.8 754.9L248.6 754.3L243 751.1L238.2 751.8Z" fill="#b9ff02"/>
<path d="M254.3 757.4L259.1 756.9L253.4 753.7L248.6 754.3Z" fill="#9afd00"/>
<path d="M264.8 760.1L269.5 759.7L263.8 756.5L259.1 756.9Z" fill="#79f900"/>
<path d="M275.2 763L279.9 762.7L274.2 759.4L269.5 759.7Z" fill="#57f500"/>
<path d="M285.7 766L290.3 765.9L284.5 762.5L279.9 762.7Z" fill="#33f100"/>
<path d="M296.1 769.2L300.6 769.2L294.8 765.8L290.3 765.9Z" fill="#10ed00"/>
<path d="M57.7 742.6L63.6 739.5L58.9 737.1L53 740.2Z" fill="#ffb340"/>
<path d="M68.4 741.9L74.2 738.9L69.4 736.5L63.6 739.5Z" fill="#ffac3d"/>
<path d="M79 741.4L84.8 738.6L80 736.1L74.2 738.9Z" fill="#ffa73a"/>
<path d="M89.7 741.1L95.4 738.4L90.5 735.9L84.8 738.6Z" fill="#ffa438"/>
<path d="M100.3 741L106 738.4L101.1 735.9L95.4 738.4Z" fill="#ffa234"/>
<path d="M111 741L116.6 738.6L111.6 736L106 738.4Z" fill="#ffa131"/>
<path d="M121.7 741.3L127.2 739L122.2 736.3L116.6 738.6Z" fill="#ffa32e"/>
<path d="M132.4 741.7L137.9 739.5L132.8 736.8L127.2 739Z" fill="#ffa62b"/>
<path d="M143 742.3L148.5 740.3L143.3 737.5L137.9 739.5Z" fill="#ffaa27"/>
<path d="M153.7 743L159.1 741.2L153.9 738.4L148.5 740.3Z" fill="#ffb124"/>
<path d="M164.4 744L169.7 742.3L164.5 739.5L159.1 741.2Z" fill="#ffba20"/>
<path d="M175 745.1L180.3 743.5L175 740.7L169.7 742.3Z" fill="#ffc51d"/>
<path d="M185.7 746.4L190.9 745L185.6 742.1L180.3 743.5Z" fill="#ffd219"/>
<path d="M196.3 747.9L201.5 746.6L196.1 743.7L190.9 745Z" fill="#ffe216"/>
<path d="M207 749.6L212.1 748.4L206.6 745.4L201.5 746.6Z" fill="#fff312"/>
<path d="M217.6 751.5L222.7 750.4L217.2 747.4L212.1 748.4Z" fill="#f6ff0e"/>
<path d="M228.2 753.5L233.2 752.6L227.7 749.5L222.7 750.4Z" fill="#dfff0a"/>
<path d="M238.8 755.7L243.8 754.9L238.2 751.8L233.2 752.6Z" fill="#c6ff06"/>
<path d="M249.4 758.1L254.3 757.4L248.6 754.3L243.8 754.9Z" fill="#a9ff02"/>
<path d="M260 760.7L264.8 760.1L259.1 756.9L254.3 757.4Z" fill="#8afd00"/>
<path d="M270.5 763.4L275.2 763L269.5 759.7L264.8 760.1Z" fill="#68f900"/>
<path d="M281 766.3L285.7 766L279.9 762.7L275.2 763Z" fill="#46f500"/>
<path d="M291.5 769.4L296.1 769.2L290.3 765.9L285.7 766Z" fill="#22f100"/>
<path d="M62.5 745.1L68.4 741.9L63.6 739.5L57.7 742.6Z" fill="#ffb940"/>
<path d="M73.2 744.4L79 741.4L74.2 738.9L68.4 741.9Z" fill="#ffb33d"/>
<path d="M83.9 744L89.7 741.1L84.8 738.6L79 741.4Z" fill="#ffae3b"/>
<path d="M94.6 743.7L100.3 741L95.4 738.4L89.7 741.1Z" fill="#ffab38"/>
<path d="M105.3 743.6L111 741L106 738.4L100.3 741Z" fill="#ffaa34"/>
<path d="M116 743.7L121.7 741.3L116.6 738.6L111 741Z" fill="#ffaa31"/>
<path d="M126.8 744L132.4 741.7L127.2 739L121.7 741.3Z" fill="#ffac2e"/>
<path d="M137.5 744.4L143 742.3L137.9 739.5L132.4 741.7Z" fill="#ffaf2b"/>
<path d="M148.2 745.1L153.7 743L148.5 740.3L143 742.3Z" fill="#ffb527"/>
<path d="M159 745.9L164.4 744L159.1 741.2L153.7 743Z" fill="#ffbc24"/>
<path d="M169.7 746.9L175 745.1L169.7 742.3L164.4 744Z" fill="#ffc520"/>
<path d="M180.4 748.1L185.7 746.4L180.3 743.5L175 745.1Z" fill="#ffd11d"/>
<path d="M191.1 749.4L196.3 747.9L190.9 745L185.7 746.4Z" fill="#ffde19"/>
<path d="M201.8 751L207 749.6L201.5 746.6L196.3 747.9Z" fill="#ffef16"/>
<path d="M212.5 752.7L217.6 751.5L212.1 748.4L207 749.6Z" fill="#fdff12"/>
<path d="M223.2 754.6L228.2 753.5L222.7 750.4L217.6 751.5Z" fill="#e8ff0e"/>
<path d="M233.8 756.7L238.8 755.7L233.2 752.6L228.2 753.5Z" fill="#d0ff0a"/>
<path d="M244.5 758.9L249.4 758.1L243.8 754.9L238.8 755.7Z" fill="#b6ff06"/>
<path d="M255.1 761.4L260 760.7L254.3 757.4L249.4 758.1Z" fill="#99ff02"/>
<path d="M265.7 764L270.5 763.4L264.8 760.1L260 760.7Z" fill="#79fd00"/>
<path d="M276.3 766.8L281 766.3L275.2 763L270.5 763.4Z" fill="#57f900"/>
<path d="M286.8 769.8L291.5 769.4L285.7 766L281 766.3Z" fill="#35f500"/>
<path d="M67.3 747.6L73.2 744.4L68.4 741.9L62.5 745.1Z" fill="#ffbf40"/>
<path d="M78.1 747L83.9 744L79 741.4L73.2 744.4Z" fill="#ffba3e"/>
<path d="M88.8 746.6L94.6 743.7L89.7 741.1L83.9 744Z" fill="#ffb63b"/>
<path d="M99.6 746.3L105.3 743.6L100.3 741L94.6 743.7Z" fill="#ffb338"/>
<path d="M110.4 746.3L116 743.7L111 741L105.3 743.6Z" fill="#ffb234"/>
<path d="M121.1 746.4L126.8 744L121.7 741.3L116 743.7Z" fill="#ffb331"/>
<path d="M131.9 746.7L137.5 744.4L132.4 741.7L126.8 744Z" fill="#ffb52e"/>
<path d="M142.7 747.2L148.2 745.1L143 742.3L137.5 744.4Z" fill="#ffb92b"/>
<path d="M153.5 747.9L159 745.9L153.7 743L148.2 745.1Z" fill="#ffbf27"/>
<path d="M164.3 748.8L169.7 746.9L164.4 744L159 745.9Z" fill="#ffc724"/>
<path d="M175 749.8L180.4 748.1L175 745.1L169.7 746.9Z" fill="#ffd120"/>
<path d="M185.8 751L191.1 749.4L185.7 746.4L180.4 748.1Z" fill="#ffdd1d"/>
<path d="M196.6 752.5L201.8 751L196.3 747.9L191.1 749.4Z" fill="#ffeb19"/>
<path d="M207.3 754L212.5 752.7L207 749.6L201.8 751Z" fill="#fffc16"/>
<path d="M218.1 755.8L223.2 754.6L217.6 751.5L212.5 752.7Z" fill="#efff12"/>
<path d="M228.8 757.8L233.8 756.7L228.2 753.5L223.2 754.6Z" fill="#d9ff0e"/>
<path d="M239.5 759.9L244.5 758.9L238.8 755.7L233.8 756.7Z" fill="#c1ff0a"/>
<path d="M250.2 762.2L255.1 761.4L249.4 758.1L244.5 758.9Z" fill="#a6ff06"/>
<path d="M260.9 764.7L265.7 764L260 760.7L255.1 761.4Z" fill="#88ff02"/>
<path d="M271.5 767.4L276.3 766.8L270.5 763.4L265.7 764Z" fill="#67fd00"/>
<path d="M282.1 770.2L286.8 769.8L281 766.3L276.3 766.8Z" fill="#46f900"/>
<path d="M72.2 750.2L78.1 747L73.2 744.4L67.3 747.6Z" fill="#ffc640"/>
<path d="M83 749.6L88.8 746.6L83.9 744L78.1 747Z" fill="#ffc13e"/>
<path d="M93.8 749.2L99.6 746.3L94.6 743.7L88.8 746.6Z" fill="#ffbd3b"/>
<path d="M104.6 749L110.4 746.3L105.3 743.6L99.6 746.3Z" fill="#ffbb38"/>
<path d="M115.5 749L121.1 746.4L116 743.7L110.4 746.3Z" fill="#ffbb35"/>
<path d="M126.3 749.2L131.9 746.7L126.8 744L121.1 746.4Z" fill="#ffbc31"/>
<path d="M137.1 749.6L142.7 747.2L137.5 744.4L131.9 746.7Z" fill="#ffbf2e"/>
<path d="M148 750.1L153.5 747.9L148.2 745.1L142.7 747.2Z" fill="#ffc32b"/>
<path d="M158.8 750.8L164.3 748.8L159 745.9L153.5 747.9Z" fill="#ffca27"/>
<path d="M169.6 751.7L175 749.8L169.7 746.9L164.3 748.8Z" fill="#ffd224"/>
<path d="M180.5 752.8L185.8 751L180.4 748.1L175 749.8Z" fill="#ffdd20"/>
<path d="M191.3 754.1L196.6 752.5L191.1 749.4L185.8 751Z" fill="#ffe91d"/>
<path d="M202.1 755.6L207.3 754L201.8 751L196.6 752.5Z" fill="#fff819"/>
<path d="M212.9 757.2L218.1 755.8L212.5 752.7L207.3 754Z" fill="#f4ff16"/>
<path d="M223.7 759L228.8 757.8L223.2 754.6L218.1 755.8Z" fill="#e1ff12"/>
<path d="M234.5 761L239.5 759.9L233.8 756.7L228.8 757.8Z" fill="#caff0e"/>
<path d="M245.2 763.2L250.2 762.2L244.5 758.9L239.5 759.9Z" fill="#b1ff0a"/>
<path d="M256 765.6L260.9 764.7L255.1 761.4L250.2 762.2Z" fill="#96ff06"/>
<path d="M266.7 768.1L271.5 767.4L265.7 764L260.9 764.7Z" fill="#77ff02"/>
<path d="M277.4 770.8L282.1 770.2L276.3 766.8L271.5 767.4Z" fill="#56fd00"/>
<path d="M77.1 752.8L83 749.6L78.1 747L72.2 750.2Z" fill="#ffcd40"/>
<path d="M88 752.3L93.8 749.2L88.8 746.6L83 749.6Z" fill="#ffc93e"/>
<path d="M98.8 752L104.6 749L99.6 746.3L93.8 749.2Z" fill="#ffc53b"/>
<path d="M109.7 751.8L115.5 749L110.4 746.3L104.6 749Z" fill="#ffc438"/>
<path d="M120.6 751.8L126.3 749.2L121.1 746.4L115.5 749Z" fill="#ffc435"/>
<path d="M131.5 752.1L137.1 749.6L131.9 746.7L126.3 749.2Z" fill="#ffc531"/>
<path d="M142.4 752.5L148 750.1L142.7 747.2L137.1 749.6Z" fill="#ffc92e"/>
<path d="M153.3 753L158.8 750.8L153.5 747.9L148 750.1Z" fill="#ffce2b"/>
<path d="M164.2 753.8L169.6 751.7L164.3 748.8L158.8 750.8Z" fill="#ffd527"/>
<path d="M175.1 754.8L180.5 752.8L175 749.8L169.6 751.7Z" fill="#ffde24"/>
<path d="M185.9 755.9L191.3 754.1L185.8 751L180.5 752.8Z" fill="#ffe920"/>
<path d="M196.8 757.2L202.1 755.6L196.6 752.5L191.3 754.1Z" fill="#fff61d"/>
<path d="M207.7 758.7L212.9 757.2L207.3 754L202.1 755.6Z" fill="#f8ff19"/>
<path d="M218.5 760.4L223.7 759L218.1 755.8L212.9 757.2Z" fill="#e6ff15"/>
<path d="M229.4 762.3L234.5 761L228.8 757.8L223.7 759Z" fill="#d2ff12"/>
<path d="M240.2 764.3L245.2 763.2L239.5 759.9L234.5 761Z" fill="#bbff0e"/>
<path d="M251 766.6L256 765.6L250.2 762.2L245.2 763.2Z" fill="#a1ff0a"/>
<path d="M261.8 769L266.7 768.1L260.9 764.7L256 765.6Z" fill="#85ff06"/>
<path d="M272.5 771.6L277.4 770.8L271.5 767.4L266.7 768.1Z" fill="#65ff02"/>
<path d="M82.1 755.6L88 752.3L83 749.6L77.1 752.8Z" fill="#ffd441"/>
<path d="M93 755.1L98.8 752L93.8 749.2L88 752.3Z" fill="#ffd03e"/>
<path d="M103.9 754.8L109.7 751.8L104.6 749L98.8 752Z" fill="#ffce3b"/>
<path d="M114.9 754.6L120.6 751.8L115.5 749L109.7 751.8Z" fill="#ffcc38"/>
<path d="M125.8 754.7L131.5 752.1L126.3 749.2L120.6 751.8Z" fill="#ffcd35"/>
<path d="M136.8 755L142.4 752.5L137.1 749.6L131.5 752.1Z" fill="#ffcf31"/>
<path d="M147.7 755.4L153.3 753L148 750.1L142.4 752.5Z" fill="#ffd32e"/>
<path d="M158.7 756L164.2 753.8L158.8 750.8L153.3 753Z" fill="#ffd82b"/>
<path d="M169.6 756.9L175.1 754.8L169.6 751.7L164.2 753.8Z" fill="#ffe027"/>
<path d="M180.5 757.9L185.9 755.9L180.5 752.8L175.1 754.8Z" fill="#ffea24"/>
<path d="M191.5 759L196.8 757.2L191.3 754.1L185.9 755.9Z" fill="#fff520"/>
<path d="M202.4 760.4L207.7 758.7L202.1 755.6L196.8 757.2Z" fill="#fbff1d"/>
<path d="M213.3 762L218.5 760.4L212.9 757.2L207.7 758.7Z" fill="#ebff19"/>
<path d="M224.2 763.7L229.4 762.3L223.7 759L218.5 760.4Z" fill="#d8ff15"/>
<path d="M235.1 765.6L240.2 764.3L234.5 761L229.4 762.3Z" fill="#c3ff12"/>
<path d="M246 767.7L251 766.6L245.2 763.2L240.2 764.3Z" fill="#abff0e"/>
<path d="M256.8 770L261.8 769L256 765.6L251 766.6Z" fill="#91ff0a"/>
<path d="M267.7 772.5L272.5 771.6L266.7 768.1L261.8 769Z" fill="#74ff06"/>
<path d="M87.1 758.3L93 755.1L88 752.3L82.1 755.6Z" fill="#ffdc41"/>
<path d="M98.1 757.9L103.9 754.8L98.8 752L93 755.1Z" fill="#ffd83e"/>
<path d="M109.1 757.6L114.9 754.6L109.7 751.8L103.9 754.8Z" fill="#ffd63b"/>
<path d="M120.1 757.5L125.8 754.7L120.6 751.8L114.9 754.6Z" fill="#ffd538"/>
<path d="M131.1 757.7L136.8 755L131.5 752.1L125.8 754.7Z" fill="#ffd635"/>
<path d="M142.1 758L147.7 755.4L142.4 752.5L136.8 755Z" fill="#ffd931"/>
<path d="M153.1 758.4L158.7 756L153.3 753L147.7 755.4Z" fill="#ffdd2e"/>
<path d="M164.1 759.1L169.6 756.9L164.2 753.8L158.7 756Z" fill="#ffe42b"/>
<path d="M175.1 760L180.5 757.9L175.1 754.8L169.6 756.9Z" fill="#ffec27"/>
<path d="M186.1 761L191.5 759L185.9 755.9L180.5 757.9Z" fill="#fff624"/>
<path d="M197.1 762.2L202.4 760.4L196.8 757.2L191.5 759Z" fill="#fcff20"/>
<path d="M208 763.7L213.3 762L207.7 758.7L202.4 760.4Z" fill="#edff1d"/>
<path d="M219 765.3L224.2 763.7L218.5 760.4L213.3 762Z" fill="#dcff19"/>
<path d="M230 767L235.1 765.6L229.4 762.3L224.2 763.7Z" fill="#c9ff15"/>
<path d="M240.9 769L246 767.7L240.2 764.3L235.1 765.6Z" fill="#b3ff12"/>
<path d="M251.8 771.2L256.8 770L251 766.6L246 767.7Z" fill="#9bff0e"/>
<path d="M262.7 773.5L267.7 772.5L261.8 769L256.8 770Z" fill="#80ff0a"/>
<path d="M92.2 761.2L98.1 757.9L93 755.1L87.1 758.3Z" fill="#ffe441"/>
<path d="M103.2 760.8L109.1 757.6L103.9 754.8L98.1 757.9Z" fill="#ffe13e"/>
<path d="M114.3 760.5L120.1 757.5L114.9 754.6L109.1 757.6Z" fill="#ffdf3b"/>
<path d="M125.3 760.5L131.1 757.7L125.8 754.7L120.1 757.5Z" fill="#ffdf38"/>
<path d="M136.4 760.7L142.1 758L136.8 755L131.1 757.7Z" fill="#ffe035"/>
<path d="M147.4 761L153.1 758.4L147.7 755.4L142.1 758Z" fill="#ffe331"/>
<path d="M158.5 761.5L164.1 759.1L158.7 756L153.1 758.4Z" fill="#ffe82e"/>
<path d="M169.6 762.3L175.1 760L169.6 756.9L164.1 759.1Z" fill="#ffef2b"/>
<path d="M180.6 763.2L186.1 761L180.5 757.9L175.1 760Z" fill="#fff827"/>
<path d="M191.7 764.2L197.1 762.2L191.5 759L186.1 761Z" fill="#fbff24"/>
<path d="M202.7 765.5L208 763.7L202.4 760.4L197.1 762.2Z" fill="#efff20"/>
<path d="M213.7 767L219 765.3L213.3 762L208 763.7Z" fill="#dfff1d"/>
<path d="M224.7 768.6L230 767L224.2 763.7L219 765.3Z" fill="#ceff19"/>
<path d="M235.7 770.5L240.9 769L235.1 765.6L230 767Z" fill="#baff15"/>
<path d="M246.7 772.5L251.8 771.2L246 767.7L240.9 769Z" fill="#a4ff12"/>
<path d="M257.7 774.7L262.7 773.5L256.8 770L251.8 771.2Z" fill="#8bff0e"/>
<path d="M97.3 764.1L103.2 760.8L98.1 757.9L92.2 761.2Z" fill="#ffec41"/>
<path d="M108.4 763.7L114.3 760.5L109.1 757.6L103.2 760.8Z" fill="#ffe93e"/>
<path d="M119.5 763.5L125.3 760.5L120.1 757.5L114.3 760.5Z" fill="#ffe83b"/>
<path d="M130.6 763.5L136.4 760.7L131.1 757.7L125.3 760.5Z" fill="#ffe838"/>
<path d="M141.7 763.7L147.4 761L142.1 758L136.4 760.7Z" fill="#ffea35"/>
<path d="M152.9 764.1L158.5 761.5L153.1 758.4L147.4 761Z" fill="#ffee31"/>
<path d="M164 764.7L169.6 762.3L164.1 759.1L158.5 761.5Z" fill="#fff32e"/>
<path d="M175.1 765.5L180.6 763.2L175.1 760L169.6 762.3Z" fill="#fffb2b"/>
<path d="M186.2 766.4L191.7 764.2L186.1 761L180.6 763.2Z" fill="#faff27"/>
<path d="M197.3 767.5L202.7 765.5L197.1 762.2L191.7 764.2Z" fill="#efff24"/>
<path d="M208.4 768.9L213.7 767L208 763.7L202.7 765.5Z" fill="#e1ff20"/>
<path d="M219.5 770.4L224.7 768.6L219 765.3L213.7 767Z" fill="#d1ff1d"/>
<path d="M230.5 772.1L235.7 770.5L230 767L224.7 768.6Z" fill="#bfff19"/>
<path d="M241.6 774L246.7 772.5L240.9 769L235.7 770.5Z" fill="#abff15"/>
<path d="M252.6 776L257.7 774.7L251.8 771.2L246.7 772.5Z" fill="#94ff11"/>
<path d="M102.5 767L108.4 763.7L103.2 760.8L97.3 764.1Z" fill="#fff541"/>
<path d="M113.7 766.7L119.5 763.5L114.3 760.5L108.4 763.7Z" fill="#fff23e"/>
<path d="M124.8 766.6L130.6 763.5L125.3 760.5L119.5 763.5Z" fill="#fff13b"/>
<path d="M136 766.6L141.7 763.7L136.4 760.7L130.6 763.5Z" fill="#fff238"/>
<path d="M147.2 766.9L152.9 764.1L147.4 761L141.7 763.7Z" fill="#fff535"/>
<path d="M158.3 767.3L164 764.7L158.5 761.5L152.9 764.1Z" fill="#fff931"/>
<path d="M169.5 767.9L175.1 765.5L169.6 762.3L164 764.7Z" fill="#ffff2e"/>
<path d="M180.7 768.7L186.2 766.4L180.6 763.2L175.1 765.5Z" fill="#f7ff2b"/>
<path d="M191.8 769.7L197.3 767.5L191.7 764.2L186.2 766.4Z" fill="#edff27"/>
<path d="M203 770.9L208.4 768.9L202.7 765.5L197.3 767.5Z" fill="#e1ff24"/>
<path d="M214.1 772.3L219.5 770.4L213.7 767L208.4 768.9Z" fill="#d3ff20"/>
<path d="M225.3 773.8L230.5 772.1L224.7 768.6L219.5 770.4Z" fill="#c3ff1d"/>
<path d="M236.4 775.6L241.6 774L235.7 770.5L230.5 772.1Z" fill="#b0ff19"/>
<path d="M247.5 777.5L252.6 776L246.7 772.5L241.6 774Z" fill="#9bff15"/>
<path d="M107.7 770.1L113.7 766.7L108.4 763.7L102.5 767Z" fill="#fffd41"/>
<path d="M119 769.8L124.8 766.6L119.5 763.5L113.7 766.7Z" fill="#fffb3e"/>
<path d="M130.2 769.7L136 766.6L130.6 763.5L124.8 766.6Z" fill="#fffb3b"/>
<path d="M141.4 769.8L147.2 766.9L141.7 763.7L136 766.6Z" fill="#fffd38"/>
<path d="M152.6 770.1L158.3 767.3L152.9 764.1L147.2 766.9Z" fill="#ffff35"/>
<path d="M163.9 770.5L169.5 767.9L164 764.7L158.3 767.3Z" fill="#faff31"/>
<path d="M175.1 771.2L180.7 768.7L175.1 765.5L169.5 767.9Z" fill="#f3ff2e"/>
<path d="M186.3 772.1L191.8 769.7L186.2 766.4L180.7 768.7Z" fill="#ebff2b"/>
<path d="M197.5 773.1L203 770.9L197.3 767.5L191.8 769.7Z" fill="#e0ff27"/>
<path d="M208.8 774.3L214.1 772.3L208.4 768.9L203 770.9Z" fill="#d4ff24"/>
<path d="M220 775.8L225.3 773.8L219.5 770.4L214.1 772.3Z" fill="#c5ff20"/>
<path d="M231.2 777.4L236.4 775.6L230.5 772.1L225.3 773.8Z" fill="#b4ff1d"/>
<path d="M242.3 779.2L247.5 777.5L241.6 774L236.4 775.6Z" fill="#a1ff19"/>
<path d="M113 773.2L119 769.8L113.7 766.7L107.7 770.1Z" fill="#f8ff41"/>
<path d="M124.3 772.9L130.2 769.7L124.8 766.6L119 769.8Z" fill="#f9ff3e"/>
<path d="M135.6 772.9L141.4 769.8L136 766.6L130.2 769.7Z" fill="#f9ff3b"/>
<path d="M146.9 773L152.6 770.1L147.2 766.9L141.4 769.8Z" fill="#f7ff38"/>
<path d="M158.2 773.3L163.9 770.5L158.3 767.3L152.6 770.1Z" fill="#f3ff35"/>
<path d="M169.5 773.9L175.1 771.2L169.5 767.9L163.9 770.5Z" fill="#eeff31"/>
<path d="M180.8 774.6L186.3 772.1L180.7 768.7L175.1 771.2Z" fill="#e7ff2e"/>
<path d="M192 775.5L197.5 773.1L191.8 769.7L186.3 772.1Z" fill="#deff2b"/>
<path d="M203.3 776.6L208.8 774.3L203 770.9L197.5 773.1Z" fill="#d3ff27"/>
<path d="M214.6 777.8L220 775.8L214.1 772.3L208.8 774.3Z" fill="#c6ff24"/>
<path d="M225.8 779.3L231.2 777.4L225.3 773.8L220 775.8Z" fill="#b6ff20"/>
<path d="M237.1 781L242.3 779.2L236.4 775.6L231.2 777.4Z" fill="#a5ff1d"/>
<path d="M118.4 776.3L124.3 772.9L119 769.8L113 773.2Z" fill="#eeff41"/>
<path d="M129.7 776.1L135.6 772.9L130.2 769.7L124.3 772.9Z" fill="#efff3e"/>
<path d="M141.1 776.1L146.9 773L141.4 769.8L135.6 772.9Z" fill="#efff3b"/>
<path d="M152.4 776.3L158.2 773.3L152.6 770.1L146.9 773Z" fill="#ecff38"/>
<path d="M163.8 776.7L169.5 773.9L163.9 770.5L158.2 773.3Z" fill="#e8ff35"/>
<path d="M175.1 777.3L180.8 774.6L175.1 771.2L169.5 773.9Z" fill="#e2ff31"/>
<path d="M186.5 778L192 775.5L186.3 772.1L180.8 774.6Z" fill="#dbff2e"/>
<path d="M197.8 779L203.3 776.6L197.5 773.1L192 775.5Z" fill="#d1ff2b"/>
<path d="M209.1 780.1L214.6 777.8L208.8 774.3L203.3 776.6Z" fill="#c5ff27"/>
<path d="M220.5 781.4L225.8 779.3L220 775.8L214.6 777.8Z" fill="#b8ff24"/>
<path d="M231.8 782.9L237.1 781L231.2 777.4L225.8 779.3Z" fill="#a8ff20"/>
<path d="M123.8 779.6L129.7 776.1L124.3 772.9L118.4 776.3Z" fill="#e5ff41"/>
<path d="M135.2 779.4L141.1 776.1L135.6 772.9L129.7 776.1Z" fill="#e5ff3e"/>
<path d="M146.6 779.5L152.4 776.3L146.9 773L141.1 776.1Z" fill="#e4ff3b"/>
<path d="M158 779.7L163.8 776.7L158.2 773.3L152.4 776.3Z" fill="#e1ff38"/>
<path d="M169.4 780.1L175.1 777.3L169.5 773.9L163.8 776.7Z" fill="#ddff35"/>
<path d="M180.8 780.7L186.5 778L180.8 774.6L175.1 777.3Z" fill="#d6ff31"/>
<path d="M192.2 781.5L197.8 779L192 775.5L186.5 778Z" fill="#ceff2e"/>
<path d="M203.6 782.5L209.1 780.1L203.3 776.6L197.8 779Z" fill="#c4ff2b"/>
<path d="M215 783.7L220.5 781.4L214.6 777.8L209.1 780.1Z" fill="#b7ff27"/>
<path d="M226.4 785.1L231.8 782.9L225.8 779.3L220.5 781.4Z" fill="#a9ff24"/>
<path d="M129.3 782.9L135.2 779.4L129.7 776.1L123.8 779.6Z" fill="#dbff41"/>
<path d="M140.7 782.8L146.6 779.5L141.1 776.1L135.2 779.4Z" fill="#dbff3e"/>
<path d="M152.2 782.9L158 779.7L152.4 776.3L146.6 779.5Z" fill="#d9ff3b"/>
<path d="M163.7 783.1L169.4 780.1L163.8 776.7L158 779.7Z" fill="#d6ff38"/>
<path d="M175.1 783.6L180.8 780.7L175.1 777.3L169.4 780.1Z" fill="#d1ff35"/>
<path d="M186.6 784.2L192.2 781.5L186.5 778L180.8 780.7Z" fill="#caff31"/>
<path d="M198.1 785.1L203.6 782.5L197.8 779L192.2 781.5Z" fill="#c1ff2e"/>
<path d="M209.5 786.1L215 783.7L209.1 780.1L203.6 782.5Z" fill="#b6ff2b"/>
<path d="M221 787.4L226.4 785.1L220.5 781.4L215 783.7Z" fill="#a9ff27"/>
<path d="M134.8 786.3L140.7 782.8L135.2 779.4L129.3 782.9Z" fill="#d1ff41"/>
<path d="M146.3 786.2L152.2 782.9L146.6 779.5L140.7 782.8Z" fill="#d0ff3e"/>
<path d="M157.8 786.3L163.7 783.1L158 779.7L152.2 782.9Z" fill="#ceff3b"/>
<path d="M169.4 786.6L175.1 783.6L169.4 780.1L163.7 783.1Z" fill="#caff38"/>
<path d="M180.9 787.1L186.6 784.2L180.8 780.7L175.1 783.6Z" fill="#c4ff35"/>
<path d="M192.4 787.8L198.1 785.1L192.2 781.5L186.6 784.2Z" fill="#bdff31"/>
<path d="M204 788.7L209.5 786.1L203.6 782.5L198.1 785.1Z" fill="#b3ff2e"/>
<path d="M215.5 789.8L221 787.4L215 783.7L209.5 786.1Z" fill="#a8ff2b"/>
<path d="M140.4 789.7L146.3 786.2L140.7 782.8L134.8 786.3Z" fill="#c7ff41"/>
<path d="M152 789.7L157.8 786.3L152.2 782.9L146.3 786.2Z" fill="#c5ff3e"/>
<path d="M163.6 789.9L169.4 786.6L163.7 783.1L157.8 786.3Z" fill="#c3ff3b"/>
<path d="M175.2 790.2L180.9 787.1L175.1 783.6L169.4 786.6Z" fill="#beff38"/>
<path d="M186.7 790.8L192.4 787.8L186.6 784.2L180.9 787.1Z" fill="#b8ff35"/>
<path d="M198.3 791.5L204 788.7L198.1 785.1L192.4 787.8Z" fill="#b0ff31"/>
<path d="M209.9 792.5L215.5 789.8L209.5 786.1L204 788.7Z" fill="#a6ff2e"/>
<path d="M146 793.3L152 789.7L146.3 786.2L140.4 789.7Z" fill="#bcff41"/>
<path d="M157.7 793.3L163.6 789.9L157.8 786.3L152 789.7Z" fill="#baff3e"/>
<path d="M169.3 793.5L175.2 790.2L169.4 786.6L163.6 789.9Z" fill="#b7ff3b"/>
<path d="M181 793.9L186.7 790.8L180.9 787.1L175.2 790.2Z" fill="#b2ff38"/>
<path d="M192.6 794.5L198.3 791.5L192.4 787.8L186.7 790.8Z" fill="#abff34"/>
<path d="M204.3 795.3L209.9 792.5L204 788.7L198.3 791.5Z" fill="#a2ff31"/>
<path d="M151.7 796.9L157.7 793.3L152 789.7L146 793.3Z" fill="#b1ff41"/>
<path d="M163.5 796.9L169.3 793.5L163.6 789.9L157.7 793.3Z" fill="#afff3e"/>
<path d="M175.2 797.2L181 793.9L175.2 790.2L169.3 793.5Z" fill="#abff3b"/>
<path d="M186.9 797.6L192.6 794.5L186.7 790.8L181 793.9Z" fill="#a5ff38"/>
<path d="M198.6 798.3L204.3 795.3L198.3 791.5L192.6 794.5Z" fill="#9eff34"/>
<path d="M157.5 800.5L163.5 796.9L157.7 793.3L151.7 796.9Z" fill="#a6ff41"/>
<path d="M169.3 800.6L175.2 797.2L169.3 793.5L163.5 796.9Z" fill="#a3ff3e"/>
<path d="M181.1 800.9L186.9 797.6L181 793.9L175.2 797.2Z" fill="#9eff3b"/>
<path d="M192.8 801.4L198.6 798.3L192.6 794.5L186.9 797.6Z" fill="#98ff38"/>
<path d="M163.3 804.3L169.3 800.6L163.5 796.9L157.5 800.5Z" fill="#9aff41"/>
<path d="M175.2 804.4L181.1 800.9L175.2 797.2L169.3 800.6Z" fill="#97ff3e"/>
<path d="M187 804.8L192.8 801.4L186.9 797.6L181.1 800.9Z" fill="#92ff3b"/>
<path d="M169.2 808.1L175.2 804.4L169.3 800.6L163.3 804.3Z" fill="#8eff41"/>
<path d="M181.1 808.3L187 804.8L181.1 800.9L175.2 804.4Z" fill="#8aff3e"/>
<path d="M175.2 812L181.1 808.3L175.2 804.4L169.2 808.1Z" fill="#82ff41"/>
</g>
<path d="M42 693.3L50.4 880.2L175.2 946L301 879.5L308.2 693.3" stroke="#333" stroke-width=".8" fill="none"/>
<circle cx="48.4" cy="835.8" r="1.3" fill="#111"/>
<text x="45.8" y="834.6" font-size="5" font-family="Liberation Sans, sans-serif" text-anchor="end" fill="#333">50</text>
<circle cx="47.3" cy="812" r="1.3" fill="#111"/>
<text x="44.7" y="810.8" font-size="5" font-family="Liberation Sans, sans-serif" text-anchor="end" fill="#333">60</text>
<circle cx="46.3" cy="788.3" r="1.3" fill="#111"/>
<text x="43.7" y="787.1" font-size="5" font-family="Liberation Sans, sans-serif" text-anchor="end" fill="#333">70</text>
<circle cx="45.2" cy="764.5" r="1.3" fill="#111"/>
<text x="42.6" y="763.3" font-size="5" font-family="Liberation Sans, sans-serif" text-anchor="end" fill="#333">80</text>
<circle cx="44.1" cy="740.8" r="1.3" fill="#111"/>
<text x="41.5" y="739.6" font-size="5" font-family="Liberation Sans, sans-serif" text-anchor="end" fill="#333">90</text>
<circle cx="43.1" cy="717" r="1.3" fill="#111"/>
<text x="40.5" y="715.8" font-size="5" font-family="Liberation Sans, sans-serif" text-anchor="end" fill="#333">100</text>
<circle cx="42" cy="693.3" r="1.3" fill="#111"/>
<text x="39.4" y="692.1" font-size="5" font-family="Liberation Sans, sans-serif" text-anchor="end" fill="#333">110</text>
<circle cx="175.2" cy="946" r="1.2" fill="#111"/>
<text x="173" y="951.6" font-size="5" font-family="Liberation Sans, sans-serif" text-anchor="end" fill="#333">30</text>
<circle cx="144" cy="929.5" r="1.2" fill="#111"/>
<text x="141.8" y="935.1" font-size="5" font-family="Liberation Sans, sans-serif" text-anchor="end" fill="#333">60</text>
<circle cx="112.8" cy="913.1" r="1.2" fill="#111"/>
<text x="110.6" y="918.7" font-size="5" font-family="Liberation Sans, sans-serif" text-anchor="end" fill="#333">90</text>
<circle cx="81.6" cy="896.7" r="1.2" fill="#111"/>
<text x="79.4" y="902.3" font-size="5" font-family="Liberation Sans, sans-serif" text-anchor="end" fill="#333">120</text>
<circle cx="50.4" cy="880.2" r="1.2" fill="#111"/>
<text x="48.2" y="885.8" font-size="5" font-family="Liberation Sans, sans-serif" text-anchor="end" fill="#333">150</text>
<circle cx="175.2" cy="946" r="1.2" fill="#111"/>
<text x="178" y="951.2" font-size="5" font-family="Liberation Sans, sans-serif" fill="#333">50</text>
<circle cx="200.4" cy="932.7" r="1.2" fill="#111"/>
<text x="203.2" y="937.9" font-size="5" font-family="Liberation Sans, sans-serif" fill="#333">70</text>
<circle cx="225.5" cy="919.4" r="1.2" fill="#111"/>
<text x="228.3" y="924.6" font-size="5" font-family="Liberation Sans, sans-serif" fill="#333">90</text>
<circle cx="250.7" cy="906.1" r="1.2" fill="#111"/>
<text x="253.5" y="911.3" font-size="5" font-family="Liberation Sans, sans-serif" fill="#333">110</text>
<circle cx="275.8" cy="892.8" r="1.2" fill="#111"/>
<text x="278.6" y="898" font-size="5" font-family="Liberation Sans, sans-serif" fill="#333">130</text>
<circle cx="301" cy="879.5" r="1.2" fill="#111"/>
<text x="303.8" y="884.7" font-size="5" font-family="Liberation Sans, sans-serif" fill="#333">150</text>
<path d="M43.2 729.8L43.7 735.5" stroke="#222" stroke-width=".7"/>
<circle cx="43.2" cy="729.8" r="2.6" fill="#b30000" stroke="#6a0000" stroke-width=".5"/>
<path d="M174.6 816.7L175.2 812" stroke="#222" stroke-width=".7"/>
<circle cx="174.6" cy="816.7" r="2.7" fill="#ffc8c8" stroke="#a05050" stroke-width=".6"/>
<path d="M175 737.8L175 738.5" stroke="#222" stroke-width=".7"/>
<circle cx="175" cy="737.8" r="2.6" fill="#b30000" stroke="#6a0000" stroke-width=".5"/>
<path d="M304.7 774.5L305.1 769.3" stroke="#222" stroke-width=".7"/>
<circle cx="304.7" cy="774.5" r="2.7" fill="#ffc8c8" stroke="#a05050" stroke-width=".6"/>
<path d="M175 699L174.9 702.6" stroke="#222" stroke-width=".7"/>
<circle cx="175" cy="699" r="2.6" fill="#b30000" stroke="#6a0000" stroke-width=".5"/>
<text transform="translate(18.6,785.3) rotate(-90)" font-size="14.6" font-family="Liberation Serif, serif" font-weight="bold" text-anchor="middle">Removal (%)</text>
<text x="272" y="941" font-size="14.6" font-family="Liberation Serif, serif" font-weight="bold" text-anchor="middle">B: dye conc (mg/L)</text>
<text x="85.5" y="935" font-size="14.6" font-family="Liberation Serif, serif" font-weight="bold" text-anchor="middle">C: Time (min)</text>
<rect x="27.2" y="776.5" width="7" height="21" fill="url(#lg2)"/>
<text transform="translate(32.5,774) rotate(-90)" font-size="5" font-family="Liberation Sans, sans-serif" fill="#c03a52">98.1641</text>
<text transform="translate(32.5,800) rotate(-90)" font-size="5" font-family="Liberation Sans, sans-serif" fill="#3838a8" text-anchor="end">61.6927</text>
<text x="166.5" y="982.5" font-size="17" font-family="Liberation Serif, serif" font-weight="bold" text-anchor="middle">E</text>
<rect x="390.2" y="20.1" width="283.9" height="248.9" fill="url(#g3)"/>
<path d="M423.8 20.1L422.9 22.6L421.6 26.3L420.7 28.9L419.9 31.4L418.7 35L417.9 37.6L417.2 40.1L416.1 43.9L415.3 46.4L414.5 49.6L413.7 52.6L413 55.1L412.1 58.9L411.5 61.4L410.7 65.1L410.1 67.6L409.3 71.4L408.7 74.2L408.1 77.6L407.4 81.4L407 83.9L406.4 87.6L405.9 90.6L405.4 93.9L404.9 97.6L404.5 100.9L404.1 103.9L403.7 107.7L403.3 111.4L403 114.2L402.7 117.7L402.5 121.4L402.2 125.2L402 128.9L401.8 132.7L401.6 136.4L401.6 138.9L401.5 142.7L401.4 146.4L401.4 150.2L401.4 153.9L401.5 157.7L401.5 161.4L401.6 164.2L401.7 167.7L401.9 171.4L402.1 175.2L402.4 178.9L402.6 182.7L402.9 186.5L403.1 189L403.5 192.7L403.9 196.5L404.3 200.2L404.6 202.7L405.1 206.5L405.6 210.2L406 212.7L406.6 216.5L407.2 220.2L407.6 222.7L408.3 226.5L408.8 229L409.5 232.7L410.2 236.1L410.8 239L411.6 242.7L412.2 245.2L413 248.8L413.7 251.5L414.5 254.6L415.3 257.7L415.9 260.2L417 264L417.7 266.5" fill="none" stroke="#33300c" stroke-width=".8" stroke-opacity=".85"/>
<path d="M481.8 20.1L480.5 22.6L479.3 25.1L478.1 27.6L476.9 30.1L475.8 32.6L474.4 35.8L473.1 38.9L472.1 41.4L471.1 43.9L470.1 46.4L468.7 50.1L467.8 52.6L466.9 55.1L465.8 58.4L464.8 61.4L464.1 63.9L463 67.5L462.2 70.1L461.5 72.6L460.5 76.4L459.9 78.9L459 82.6L458.4 85.1L457.6 88.9L457 91.4L456.3 95.1L455.8 97.6L455.1 101.4L454.5 105.2L454.1 107.7L453.6 111.4L453.1 115.2L452.8 117.7L452.4 121.4L452 125.2L451.7 128.9L451.5 131.4L451.2 135.2L451 138.9L450.9 142.7L450.7 146.4L450.6 150.2L450.6 153.9L450.6 157.7L450.7 161.4L450.7 165.2L450.9 168.9L451 172.7L451.2 176.4L451.5 180.2L451.7 182.7L452 186.5L452.4 190.2L452.8 194L453.1 196.5L453.6 200.2L454.1 204L454.5 206.5L455 210.2L455.7 214L456.1 216.5L456.8 220.2L457.3 222.7L458.1 226.5L458.7 229.1L459.5 232.7L460.1 235.3L461 239L461.7 241.5L462.7 245.2L463.4 247.7L464.4 251.2L465.2 254L466 256.5L467.2 260.2L468 262.7L468.8 265.2L470.1 268.8" fill="none" stroke="#33300c" stroke-width=".8" stroke-opacity=".85"/>
<path d="M577.8 20.1L575.7 21.8L573.2 23.9L571.4 25.4L568.9 27.6L567.1 29.3L565 31.4L562.8 33.6L561.3 35.1L559.1 37.6L557.1 39.9L555.7 41.6L553.8 43.9L551.9 46.4L550.1 48.9L548.6 51L547.1 53.1L545.7 55.2L544.2 57.6L542.6 60.1L541.2 62.6L539.7 65.1L538.4 67.6L537.1 70.1L535.7 72.9L534.3 75.9L532.9 78.9L531.8 81.4L530.8 83.9L529.8 86.4L528.6 89.6L527.5 92.6L526.6 95.1L525.7 97.9L524.7 101.4L523.9 103.9L522.9 107.7L522.3 110.2L521.5 113.6L520.8 116.4L520.1 120.2L519.6 122.7L518.9 126.4L518.5 128.9L518 132.7L517.5 136.4L517.2 139.9L516.9 142.7L516.6 146.4L516.4 150.2L516.2 153.9L516.1 157.7L516.1 161.4L516.1 165.2L516.2 168.9L516.3 172.7L516.5 176.4L516.8 180.2L517.1 183.9L517.4 186.5L517.8 190.2L518.3 194L518.6 196.5L519.2 200.2L519.9 204L520.4 206.5L521.1 210.2L521.7 212.7L522.6 216.5L523.2 219L524.2 222.7L524.9 225.2L525.7 228.2L526.7 231.5L527.5 234L528.6 237.1L529.7 240.2L530.6 242.7L531.5 245.2L532.9 248.6L534.1 251.5L535.2 254L536.3 256.5L537.4 259L538.6 261.5L540 264.3L541.4 267.1" fill="none" stroke="#33300c" stroke-width=".8" stroke-opacity=".85"/>
<path d="M390.2 20.1V269H674.1" fill="none" stroke="#555" stroke-width=".8"/>
<path d="M390.2 20.1H674.1" fill="none" stroke="#666" stroke-width=".6"/>
<path d="M674.1 20.1V269" fill="none" stroke="#666" stroke-width=".6"/>
<rect x="397.9" y="137.6" width="6.8" height="3.8" fill="#fff" stroke="#444" stroke-width=".5"/>
<text x="401.3" y="140.4" font-size="2.6" font-family="Liberation Sans, sans-serif" text-anchor="middle" fill="#333">70</text>
<rect x="447.1" y="137.6" width="6.8" height="3.8" fill="#fff" stroke="#444" stroke-width=".5"/>
<text x="450.5" y="140.4" font-size="2.6" font-family="Liberation Sans, sans-serif" text-anchor="middle" fill="#333">80</text>
<rect x="514.4" y="123.7" width="6.8" height="3.8" fill="#fff" stroke="#444" stroke-width=".5"/>
<text x="517.8" y="126.5" font-size="2.6" font-family="Liberation Sans, sans-serif" text-anchor="middle" fill="#333">90</text>
<path d="M390.2 269v5.5" stroke="#444" stroke-width=".7"/>
<text x="390.2" y="282.5" font-size="4.8" font-family="Liberation Sans, sans-serif" text-anchor="middle" fill="#333">50</text>
<path d="M447 269v5.5" stroke="#444" stroke-width=".7"/>
<text x="447" y="282.5" font-size="4.8" font-family="Liberation Sans, sans-serif" text-anchor="middle" fill="#333">70</text>
<path d="M503.8 269v5.5" stroke="#444" stroke-width=".7"/>
<text x="503.8" y="282.5" font-size="4.8" font-family="Liberation Sans, sans-serif" text-anchor="middle" fill="#333">90</text>
<path d="M560.5 269v5.5" stroke="#444" stroke-width=".7"/>
<text x="560.5" y="282.5" font-size="4.8" font-family="Liberation Sans, sans-serif" text-anchor="middle" fill="#333">110</text>
<path d="M617.3 269v5.5" stroke="#444" stroke-width=".7"/>
<text x="617.3" y="282.5" font-size="4.8" font-family="Liberation Sans, sans-serif" text-anchor="middle" fill="#333">130</text>
<path d="M674.1 269v5.5" stroke="#444" stroke-width=".7"/>
<text x="674.1" y="282.5" font-size="4.8" font-family="Liberation Sans, sans-serif" text-anchor="middle" fill="#333">150</text>
<path d="M390.2 269h-7.5" stroke="#444" stroke-width=".7"/>
<text x="380.7" y="270.7" font-size="4.8" font-family="Liberation Sans, sans-serif" text-anchor="end" fill="#333">50</text>
<path d="M390.2 219.2h-7.5" stroke="#444" stroke-width=".7"/>
<text x="380.7" y="220.9" font-size="4.8" font-family="Liberation Sans, sans-serif" text-anchor="end" fill="#333">70</text>
<path d="M390.2 169.4h-7.5" stroke="#444" stroke-width=".7"/>
<text x="380.7" y="171.2" font-size="4.8" font-family="Liberation Sans, sans-serif" text-anchor="end" fill="#333">90</text>
<path d="M390.2 119.7h-7.5" stroke="#444" stroke-width=".7"/>
<text x="380.7" y="121.4" font-size="4.8" font-family="Liberation Sans, sans-serif" text-anchor="end" fill="#333">110</text>
<path d="M390.2 69.9h-7.5" stroke="#444" stroke-width=".7"/>
<text x="380.7" y="71.6" font-size="4.8" font-family="Liberation Sans, sans-serif" text-anchor="end" fill="#333">130</text>
<path d="M390.2 20.1h-7.5" stroke="#444" stroke-width=".7"/>
<text x="380.7" y="21.8" font-size="4.8" font-family="Liberation Sans, sans-serif" text-anchor="end" fill="#333">150</text>
<ellipse cx="390.2" cy="20.1" rx="2.5" ry="2.5" fill="#b00000" stroke="#700" stroke-width=".5"/>
<ellipse cx="674.1" cy="20.1" rx="2.5" ry="2.5" fill="#b00000" stroke="#700" stroke-width=".5"/>
<ellipse cx="390.2" cy="269" rx="2.5" ry="2.5" fill="#b00000" stroke="#700" stroke-width=".5"/>
<ellipse cx="674.1" cy="269" rx="2.5" ry="2.5" fill="#b00000" stroke="#700" stroke-width=".5"/>
<ellipse cx="532.1" cy="144.6" rx="2.5" ry="2.5" fill="#b00000" stroke="#700" stroke-width=".5"/>
<text x="526.1" y="145.5" font-size="2.6" font-family="Liberation Sans, sans-serif" text-anchor="middle" fill="#400">5</text>
<text x="511" y="14.6" font-size="15.9" font-family="Liberation Serif, serif" font-weight="bold" text-anchor="middle">Removal (%)</text>
<rect x="577.2" y="11.1" width="18.8" height="6" fill="url(#lg4)"/>
<text x="575.5" y="15.9" font-size="5.0" font-family="Liberation Sans, sans-serif" fill="#3838a8" text-anchor="end">61.6927</text>
<text x="598.2" y="15.9" font-size="5.0" font-family="Liberation Sans, sans-serif" fill="#c03a52">98.1641</text>
<text x="536.2" y="296.7" font-size="15.9" font-family="Liberation Serif, serif" font-weight="bold" text-anchor="middle">A: dose (mg/L)</text>
<text transform="translate(368.3,149.8) rotate(-90)" font-size="15.35" font-family="Liberation Serif, serif" font-weight="bold" text-anchor="middle">B: dye conc (mg/L)</text>
<text x="516.5" y="328.5" font-size="17" font-family="Liberation Serif, serif" font-weight="bold" text-anchor="middle">B</text>
<rect x="386.2" y="359.4" width="299.8" height="217.8" fill="url(#g5)"/>
<path d="M386.2 566.8L387.2 569.5L388.1 571.7L389.2 574.7L390.2 577.2" fill="none" stroke="#33300c" stroke-width=".8" stroke-opacity=".85"/>
<path d="M386.2 427.2L386.8 429.4L387.7 432.5L388.4 434.9L389.2 437.7L390 440.4L390.7 442.8L391.6 445.9L392.3 448.1L393.3 451.3L394 453.5L395 456.8L395.7 459L396.7 462.3L397.4 464.5L398.3 467.1L399.2 469.9L399.9 472.1L401 475.4L401.7 477.6L402.8 480.9L403.5 483.1L404.3 485.4L405.4 488.5L406.1 490.7L407.2 494L408 496.2L408.8 498.5L409.9 501.7L410.7 503.9L411.8 506.9L412.7 509.3L413.5 511.5L414.7 514.8L415.5 517L416.3 519.2L417.6 522.5L418.4 524.7L419.3 527.1L420.5 530.1L421.3 532.3L422.4 534.9L423.5 537.8L424.4 540L425.4 542.5L426.6 545.5L427.4 547.6L428.4 549.9L429.7 553.1L430.6 555.3L431.5 557.5L432.9 560.8L433.8 563L434.8 565.2L435.9 567.8L437.1 570.6L438.1 572.8L439 575" fill="none" stroke="#33300c" stroke-width=".8" stroke-opacity=".85"/>
<path d="M419.9 359.4L420.7 362.7L421.2 364.9L422.1 368.2L422.6 370.3L423.5 373.6L424.1 375.8L424.9 379.1L425.5 381.3L426.4 384.6L427 386.8L427.9 390L428.5 392.2L429.5 395.5L430.1 397.7L431 401L431.7 403.2L432.7 406.5L433.3 408.7L434.3 411.9L435 414.1L435.9 417.2L436.6 419.6L437.4 422.1L438.4 425.1L439.1 427.3L440.1 430.5L440.8 432.7L441.9 436L442.6 438.2L443.4 440.6L444.5 443.7L445.2 445.9L446.4 449.1L447.1 451.3L448 453.8L449 456.8L449.8 459L451 462.2L451.8 464.5L452.6 466.7L453.8 469.9L454.6 472.1L455.5 474.4L456.7 477.6L457.6 479.8L458.5 482.3L459.7 485.3L460.5 487.5L461.5 489.9L462.7 492.9L463.6 495.1L464.5 497.4L465.9 500.6L466.8 502.8L467.7 505L469.1 508.2L470 510.4L471 512.6L472.1 515.2L473.4 518.1L474.3 520.3L475.3 522.5L476.6 525.3L477.8 527.9L478.8 530.1L479.8 532.3L481.1 535.1L482.4 537.8L483.4 540L484.5 542.2L485.6 544.6L487.1 547.6L488.2 549.8L489.3 552L490.4 554.2L491.7 556.7L493.2 559.7L494.3 561.9L495.4 564.1L496.6 566.3L497.7 568.4L499.2 571.2L500.7 573.9L501.9 576.1" fill="none" stroke="#33300c" stroke-width=".8" stroke-opacity=".85"/>
<path d="M484.6 359.4L485.6 362.7L486.2 364.9L487.1 368L487.9 370.3L488.6 372.8L489.6 375.8L490.3 378L491.3 381.3L492 383.5L493.1 386.8L493.9 389L494.7 391.3L495.7 394.4L496.5 396.6L497.6 399.9L498.4 402.1L499.2 404.3L500.4 407.6L501.2 409.7L502.2 412.4L503.3 415.2L504.1 417.4L505.2 420.3L506.2 422.9L507.1 425.1L508.2 427.9L509.3 430.5L510.2 432.7L511.2 435.2L512.5 438.2L513.4 440.4L514.4 442.6L515.8 445.8L516.8 448.1L517.7 450.2L518.8 452.6L520.2 455.7L521.2 457.9L522.2 460.1L523.3 462.3L524.8 465.5L525.9 467.8L527 469.9L528.1 472.1L529.3 474.7L530.8 477.6L531.9 479.8L533.1 482L534.2 484.2L535.4 486.4L536.9 489.1L538.4 491.8L539.6 494L540.8 496.2L542 498.4L543.3 500.6L544.6 502.8L545.9 505L547.4 507.6L548.9 510.1L550.4 512.5L551.8 514.8L553.2 517L554.6 519.2L556 521.4L557.4 523.6L558.9 525.8L560.4 527.9L561.8 530.1L563.4 532.3L564.9 534.5L566.4 536.7L568 538.9L569.6 541.1L571.2 543.3L572.9 545.5L574.5 547.6L576 549.5L577.5 551.4L579 553.3L580.7 555.3L582.5 557.5L584.3 559.7L586.2 561.9L588.1 564L589.6 565.7L591.1 567.4L593.1 569.5L595.1 571.7L597.1 573.8L598.6 575.3L600.5 577.2" fill="none" stroke="#33300c" stroke-width=".8" stroke-opacity=".85"/>
<path d="M593.8 359.4L595 361.6L596.3 363.8L597.5 366L598.8 368.2L600.2 370.3L601.6 372.7L603.1 375L604.6 377.3L606.2 379.5L607.7 381.6L609.2 383.7L610.7 385.7L612.3 387.9L614 390L615.8 392.2L617.7 394.4L619.6 396.6L621.2 398.4L622.7 400L624.8 402.1L627 404.3L628.8 405.9L630.6 407.6L633.2 409.7L634.8 411L637.4 413L639.3 414.4L642.2 416.3L643.9 417.4L646.8 419.1L649.8 420.7L652.3 421.8L654.9 422.9L657.9 424L661.7 425.1L664.9 425.8L667.9 426.3L672.4 426.6L677 426.6L680.6 426.2L684.5 425.4" fill="none" stroke="#33300c" stroke-width=".8" stroke-opacity=".85"/>
<path d="M386.2 359.4V577.2H686" fill="none" stroke="#555" stroke-width=".8"/>
<path d="M386.2 359.4H686" fill="none" stroke="#666" stroke-width=".6"/>
<rect x="406.9" y="497.7" width="6.8" height="3.8" fill="#fff" stroke="#444" stroke-width=".5"/>
<text x="410.3" y="500.6" font-size="2.6" font-family="Liberation Sans, sans-serif" text-anchor="middle" fill="#333">70</text>
<rect x="451.9" y="470.5" width="6.8" height="3.8" fill="#fff" stroke="#444" stroke-width=".5"/>
<text x="455.3" y="473.3" font-size="2.6" font-family="Liberation Sans, sans-serif" text-anchor="middle" fill="#333">80</text>
<rect x="525.9" y="473.1" width="6.8" height="3.8" fill="#fff" stroke="#444" stroke-width=".5"/>
<text x="529.3" y="475.9" font-size="2.6" font-family="Liberation Sans, sans-serif" text-anchor="middle" fill="#333">90</text>
<rect x="625.1" y="404.2" width="8.4" height="3.8" fill="#fff" stroke="#444" stroke-width=".5"/>
<text x="629.3" y="407.1" font-size="2.6" font-family="Liberation Sans, sans-serif" text-anchor="middle" fill="#333">100</text>
<rect x="386.9" y="569.4" width="6.8" height="3.8" fill="#fff" stroke="#444" stroke-width=".5"/>
<text x="390.3" y="572.2" font-size="2.6" font-family="Liberation Sans, sans-serif" text-anchor="middle" fill="#333">60</text>
<path d="M386.2 577.2v5.5" stroke="#444" stroke-width=".7"/>
<text x="386.2" y="589.2" font-size="5.3" font-family="Liberation Sans, sans-serif" text-anchor="middle" fill="#333">50</text>
<path d="M449 577.2v5.5" stroke="#444" stroke-width=".7"/>
<text x="449" y="589.2" font-size="5.3" font-family="Liberation Sans, sans-serif" text-anchor="middle" fill="#333">70</text>
<path d="M511.8 577.2v5.5" stroke="#444" stroke-width=".7"/>
<text x="511.8" y="589.2" font-size="5.3" font-family="Liberation Sans, sans-serif" text-anchor="middle" fill="#333">90</text>
<path d="M574.6 577.2v5.5" stroke="#444" stroke-width=".7"/>
<text x="574.6" y="589.2" font-size="5.3" font-family="Liberation Sans, sans-serif" text-anchor="middle" fill="#333">110</text>
<path d="M637.4 577.2v5.5" stroke="#444" stroke-width=".7"/>
<text x="637.4" y="589.2" font-size="5.3" font-family="Liberation Sans, sans-serif" text-anchor="middle" fill="#333">130</text>
<path d="M386.2 577.2h-7.5" stroke="#444" stroke-width=".7"/>
<text x="375.6" y="579.1" font-size="5.3" font-family="Liberation Sans, sans-serif" text-anchor="end" fill="#333">30</text>
<path d="M386.2 522.8h-7.5" stroke="#444" stroke-width=".7"/>
<text x="375.6" y="524.7" font-size="5.3" font-family="Liberation Sans, sans-serif" text-anchor="end" fill="#333">60</text>
<path d="M386.2 468.3h-7.5" stroke="#444" stroke-width=".7"/>
<text x="375.6" y="470.2" font-size="5.3" font-family="Liberation Sans, sans-serif" text-anchor="end" fill="#333">90</text>
<path d="M386.2 413.9h-7.5" stroke="#444" stroke-width=".7"/>
<text x="375.6" y="415.8" font-size="5.3" font-family="Liberation Sans, sans-serif" text-anchor="end" fill="#333">120</text>
<path d="M386.2 359.4h-7.5" stroke="#444" stroke-width=".7"/>
<text x="375.6" y="361.3" font-size="5.3" font-family="Liberation Sans, sans-serif" text-anchor="end" fill="#333">150</text>
<ellipse cx="386.2" cy="359.4" rx="3.1" ry="2.4" fill="#b00000" stroke="#700" stroke-width=".5"/>
<ellipse cx="386.2" cy="577.2" rx="3.1" ry="2.4" fill="#b00000" stroke="#700" stroke-width=".5"/>
<ellipse cx="543.2" cy="468.3" rx="3.1" ry="2.4" fill="#b00000" stroke="#700" stroke-width=".5"/>
<text x="537.2" y="469.2" font-size="2.6" font-family="Liberation Sans, sans-serif" text-anchor="middle" fill="#400">5</text>
<text x="525.5" y="355.3" font-size="15.5" font-family="Liberation Serif, serif" font-weight="bold" text-anchor="middle">Removal (%)</text>
<rect x="592.8" y="350" width="21.3" height="6" fill="url(#lg6)"/>
<text x="591.1" y="354.9" font-size="5.2" font-family="Liberation Sans, sans-serif" fill="#3838a8" text-anchor="end">61.6927</text>
<text x="616.3" y="354.9" font-size="5.2" font-family="Liberation Sans, sans-serif" fill="#c03a52">98.1641</text>
<text x="547" y="605.1" font-size="15.65" font-family="Liberation Serif, serif" font-weight="bold" text-anchor="middle">A: dose (mg/L)</text>
<text transform="translate(363.5,475.8) rotate(-90)" font-size="15.65" font-family="Liberation Serif, serif" font-weight="bold" text-anchor="middle">C: Time (min)</text>
<text x="516.5" y="639" font-size="17" font-family="Liberation Serif, serif" font-weight="bold" text-anchor="middle">D</text>
<rect x="386.2" y="673.6" width="290.1" height="282.1" fill="url(#g7)"/>
<path d="M525.4 955.7L529.1 955.4L533.4 954.9L537.8 954.3L540.7 953.8L545.1 953L548 952.4L552.3 951.4L555.3 950.7L558.2 949.9L562.6 948.7L565.5 947.8L568.4 946.8L571.5 945.8L575.4 944.4L578.6 943.1L581.5 941.9L584.5 940.7L587.4 939.4L590.3 938L593.2 936.7L596.1 935.2L599 933.7L602 932.1L604.9 930.5L607.8 928.9L610.4 927.3L612.7 925.9L615.1 924.5L618 922.6L620.9 920.7L623.7 918.8L625.7 917.4L628.2 915.7L631.1 913.6L633.5 911.8L635.5 910.3L638.4 908L640.8 906.1L642.8 904.5L645.7 902.1L647.7 900.4L650.1 898.4L652.6 896.2L654.4 894.5L657.3 891.9L658.8 890.5L661.7 887.7L663.3 886.2L666.1 883.5L667.6 882L670.4 879.2L671.9 877.5L674.4 874.9L676.3 872.9" fill="none" stroke="#33300c" stroke-width=".8" stroke-opacity=".85"/>
<path d="M386.2 902.6L388.5 904.7L390.6 906.5L393.3 908.9L395 910.3L397.9 912.7L400.2 914.6L402.2 916.2L405.2 918.4L407.7 920.3L409.7 921.7L412.4 923.6L415.4 925.6L418.1 927.3L420.3 928.8L422.6 930.2L425.6 931.9L428.5 933.6L431.4 935.2L434.3 936.7L437.2 938.2L440.1 939.6L443.1 940.9L446 942.2L448.9 943.4L451.8 944.6L454.9 945.8L458.9 947.2L462 948.2L464.9 949.1L468 950L472.2 951.2L475.1 951.9L479.5 952.8L482.4 953.4L486.8 954.2L489.7 954.6L494.1 955.1L498.4 955.6" fill="none" stroke="#33300c" stroke-width=".8" stroke-opacity=".85"/>
<path d="M386.2 785.1L387.7 787.1L389.8 789.8L392 792.6L393.5 794.4L395.6 796.9L397.9 799.5L399.3 801.2L401.9 804L403.7 805.9L405.9 808.3L408.1 810.5L410.1 812.5L412.4 814.7L414.6 816.8L416.8 818.8L419.4 821L421.2 822.6L424.1 825L426.2 826.7L428.5 828.5L431.4 830.7L433.7 832.4L435.8 833.8L438.7 835.8L441.6 837.7L444.5 839.5L446.9 840.9L449.4 842.3L452 843.7L454.7 845.1L457.6 846.6L460.6 848L463.7 849.4L467.2 850.8L470.8 852.2L473.7 853.2L476.6 854.2L479.5 855.1L483.9 856.3L486.8 857.1L490.5 857.9L494.1 858.6L498.4 859.3L501.4 859.7L505.7 860.2L510.1 860.5L514.5 860.7L517.4 860.8L521 860.7L524.7 860.6L529.1 860.3L533.4 859.9L537.8 859.3L540.7 858.9L545.1 858.1L548 857.5L552.2 856.5L555.3 855.7L558.2 854.8L562.1 853.6L565.5 852.5L568.4 851.4L571.3 850.3L574.3 849.1L577.2 847.9L580.2 846.5L583.2 845.1L586.1 843.7L588.9 842.3L591.7 840.7L594.7 839.1L597.6 837.4L600.5 835.7L603.4 833.8L605.6 832.4L607.8 830.9L610.7 828.9L613.6 826.9L615.8 825.3L618 823.6L620.9 821.4L623.1 819.6L625.3 817.8L628.2 815.4L629.9 813.9L632.6 811.6L634.7 809.7L636.9 807.6L639.3 805.4L641.3 803.5L643.6 801.2L645.7 799.1L647.8 796.9L650.1 794.6L651.8 792.7L654.4 789.9L655.9 788.2L658.2 785.6L660.3 783.2L661.9 781.3L664.2 778.5L666.1 776.2L667.7 774.2L669.9 771.4L671.9 768.8L673.4 766.9L675.3 764.3" fill="none" stroke="#33300c" stroke-width=".8" stroke-opacity=".85"/>
<path d="M429.5 673.6L431.4 676.2L432.8 678.2L434.8 680.7L437 683.5L438.7 685.6L440.5 687.8L443 690.6L444.5 692.3L447 694.9L448.9 696.8L451.2 699.1L453.3 701L455.8 703.4L457.6 704.9L460.5 707.3L462.7 709L464.9 710.7L467.8 712.8L470.7 714.7L472.9 716.1L475.2 717.5L478 719.2L481 720.7L483.9 722.2L486.8 723.5L489.7 724.7L493.2 726.1L497 727.3L499.9 728.2L502.8 729L507.2 730L510.1 730.5L514.5 731.1L518.9 731.5L522.5 731.7L526.1 731.8L529.1 731.7L533.4 731.4L537.8 731L542.1 730.3L545.1 729.7L548.8 728.9L552.4 727.9L555.3 727.1L558.4 726.1L562.3 724.6L565.5 723.3L568.4 722L571.3 720.7L574.3 719.2L577.2 717.6L579.8 716.1L582.2 714.7L584.5 713.3L587.4 711.4L590.3 709.4L592.8 707.6L594.7 706.2L597.6 704L600.1 702L602 700.4L604.9 697.9L606.7 696.3L609.2 693.9L611.2 692L613.6 689.6L615.5 687.8L618 685.1L619.5 683.5L622 680.7L623.8 678.7L625.7 676.4L628.1 673.6" fill="none" stroke="#33300c" stroke-width=".8" stroke-opacity=".85"/>
<path d="M386.2 673.6V955.7H676.3" fill="none" stroke="#555" stroke-width=".8"/>
<path d="M386.2 673.6H676.3" fill="none" stroke="#666" stroke-width=".6"/>
<rect x="517.9" y="727.7" width="6.8" height="3.8" fill="#fff" stroke="#444" stroke-width=".5"/>
<text x="521.3" y="730.6" font-size="2.6" font-family="Liberation Sans, sans-serif" text-anchor="middle" fill="#333">95</text>
<rect x="573.6" y="843.3" width="6.8" height="3.8" fill="#fff" stroke="#444" stroke-width=".5"/>
<text x="577" y="846.2" font-size="2.6" font-family="Liberation Sans, sans-serif" text-anchor="middle" fill="#333">90</text>
<rect x="568.1" y="941.3" width="6.8" height="3.8" fill="#fff" stroke="#444" stroke-width=".5"/>
<text x="571.5" y="944.2" font-size="2.6" font-family="Liberation Sans, sans-serif" text-anchor="middle" fill="#333">85</text>
<path d="M386.2 955.7v5.5" stroke="#444" stroke-width=".7"/>
<text x="386.2" y="970.3" font-size="5.3" font-family="Liberation Sans, sans-serif" text-anchor="middle" fill="#333">50</text>
<path d="M449.8 955.7v5.5" stroke="#444" stroke-width=".7"/>
<text x="449.8" y="970.3" font-size="5.3" font-family="Liberation Sans, sans-serif" text-anchor="middle" fill="#333">70</text>
<path d="M513.4 955.7v5.5" stroke="#444" stroke-width=".7"/>
<text x="513.4" y="970.3" font-size="5.3" font-family="Liberation Sans, sans-serif" text-anchor="middle" fill="#333">90</text>
<path d="M577 955.7v5.5" stroke="#444" stroke-width=".7"/>
<text x="577" y="970.3" font-size="5.3" font-family="Liberation Sans, sans-serif" text-anchor="middle" fill="#333">110</text>
<path d="M640.6 955.7v5.5" stroke="#444" stroke-width=".7"/>
<text x="640.6" y="970.3" font-size="5.3" font-family="Liberation Sans, sans-serif" text-anchor="middle" fill="#333">130</text>
<path d="M386.2 955.7h-7.5" stroke="#444" stroke-width=".7"/>
<text x="375.3" y="957.6" font-size="5.3" font-family="Liberation Sans, sans-serif" text-anchor="end" fill="#333">30</text>
<path d="M386.2 885.2h-7.5" stroke="#444" stroke-width=".7"/>
<text x="375.3" y="887.1" font-size="5.3" font-family="Liberation Sans, sans-serif" text-anchor="end" fill="#333">60</text>
<path d="M386.2 814.7h-7.5" stroke="#444" stroke-width=".7"/>
<text x="375.3" y="816.6" font-size="5.3" font-family="Liberation Sans, sans-serif" text-anchor="end" fill="#333">90</text>
<path d="M386.2 744.1h-7.5" stroke="#444" stroke-width=".7"/>
<text x="375.3" y="746" font-size="5.3" font-family="Liberation Sans, sans-serif" text-anchor="end" fill="#333">120</text>
<path d="M386.2 673.6h-7.5" stroke="#444" stroke-width=".7"/>
<text x="375.3" y="675.5" font-size="5.3" font-family="Liberation Sans, sans-serif" text-anchor="end" fill="#333">150</text>
<ellipse cx="386.2" cy="673.6" rx="2.8" ry="2.8" fill="#b00000" stroke="#700" stroke-width=".5"/>
<ellipse cx="386.2" cy="955.7" rx="2.8" ry="2.8" fill="#b00000" stroke="#700" stroke-width=".5"/>
<ellipse cx="545.2" cy="814.7" rx="2.8" ry="2.8" fill="#b00000" stroke="#700" stroke-width=".5"/>
<text x="539.2" y="815.6" font-size="2.6" font-family="Liberation Sans, sans-serif" text-anchor="middle" fill="#400">5</text>
<text x="526.2" y="668.2" font-size="14.9" font-family="Liberation Serif, serif" font-weight="bold" text-anchor="middle">Removal (%)</text>
<rect x="594.9" y="664" width="21.3" height="7" fill="url(#lg8)"/>
<text x="593.2" y="669.5" font-size="5.5" font-family="Liberation Sans, sans-serif" fill="#3838a8" text-anchor="end">61.6927</text>
<text x="618.4" y="669.5" font-size="5.5" font-family="Liberation Sans, sans-serif" fill="#c03a52">98.1641</text>
<text x="534.3" y="985" font-size="15.3" font-family="Liberation Serif, serif" font-weight="bold" text-anchor="middle">B: dye conc (mg/L)</text>
<text transform="translate(365,800.9) rotate(-90)" font-size="14.95" font-family="Liberation Serif, serif" font-weight="bold" text-anchor="middle">C: Time (min)</text>
<text x="516.5" y="1015.5" font-size="17" font-family="Liberation Serif, serif" font-weight="bold" text-anchor="middle">F</text>
<path d="M684.3 602v10.5" stroke="#b0b0b0" stroke-width="1" stroke-dasharray="1.3 .9"/>
<path d="M676.6 984.5v5" stroke="#d0d0d0" stroke-width=".8" stroke-dasharray="1 .8"/>
</g>
</svg></body></html>
